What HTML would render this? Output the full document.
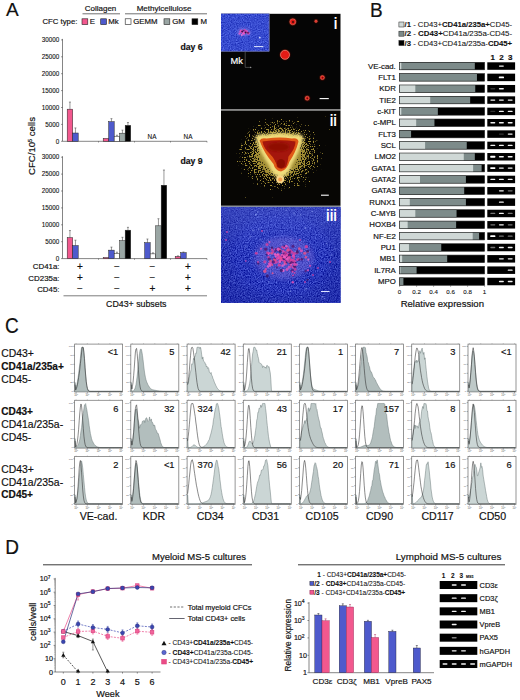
<!DOCTYPE html>
<html lang="en"><head><meta charset="utf-8"><title>Figure: CD43+ subsets</title>
<style>html,body{margin:0;padding:0;background:#fff;}body{width:520px;height:700px;overflow:hidden;}svg{display:block;font-family:"Liberation Sans",Arial,Helvetica,sans-serif;}</style></head><body>
<svg width="520" height="700" viewBox="0 0 520 700">
<defs>
<filter id="bluetex" x="0" y="0" width="100%" height="100%" color-interpolation-filters="sRGB"><feTurbulence type="fractalNoise" baseFrequency="0.85" numOctaves="2" seed="4" result="n"/><feColorMatrix in="n" type="matrix" values="0.55 0 0 0 -0.115  0.6 0 0 0 -0.085  0.5 0 0 0 0.48  0 0 0 0 1"/><feComposite in2="SourceGraphic" operator="in"/></filter>
<filter id="halo" x="-5%" y="-5%" width="110%" height="110%" color-interpolation-filters="sRGB"><feTurbulence type="fractalNoise" baseFrequency="0.75" numOctaves="1" seed="9" result="n"/><feColorMatrix in="n" type="matrix" values="0 0 0 0 0  0 0 0 0 0  0 0 0 0 0  1.6 0 0 0 -0.3" result="na"/><feComposite in="SourceGraphic" in2="na" operator="arithmetic" k1="0" k2="7" k3="-7" k4="0.5" result="m"/><feColorMatrix in="m" type="matrix" values="0 0 0 0 0.70  0 0 0 0 0.61  0 0 0 0 0.22  0 0 0 0.9 0"/></filter>
<filter id="rough"><feGaussianBlur stdDeviation="0.3"/></filter>
<filter id="blur03"><feGaussianBlur stdDeviation="0.35"/></filter>
<filter id="blur05"><feGaussianBlur stdDeviation="0.5"/></filter>
<filter id="blur1"><feGaussianBlur stdDeviation="1"/></filter>
<filter id="blur07"><feGaussianBlur stdDeviation="0.7"/></filter>
<filter id="blur2"><feGaussianBlur stdDeviation="2.2"/></filter>
<filter id="blur15"><feGaussianBlur stdDeviation="1.4"/></filter>
<radialGradient id="glowA" cx="0.5" cy="0.5" r="0.5"><stop offset="0" stop-color="#fff" stop-opacity="1"/><stop offset="0.38" stop-color="#fff" stop-opacity="0.9"/><stop offset="0.5" stop-color="#fff" stop-opacity="0.62"/><stop offset="0.65" stop-color="#fff" stop-opacity="0.42"/><stop offset="0.85" stop-color="#fff" stop-opacity="0.25"/><stop offset="1" stop-color="#fff" stop-opacity="0.05"/></radialGradient>
<linearGradient id="top3" x1="0" y1="0" x2="0" y2="1"><stop offset="0" stop-color="#7888f0" stop-opacity="0.25"/><stop offset="1" stop-color="#7888f0" stop-opacity="0"/></linearGradient>
<radialGradient id="vig3" cx="0.5" cy="0.5" r="0.75"><stop offset="0.5" stop-color="#101860" stop-opacity="0"/><stop offset="1" stop-color="#1018a0" stop-opacity="0.45"/></radialGradient>
</defs>
<rect x="0" y="0" width="520" height="700" fill="#fff" stroke="none" stroke-width="0.5" />
<g id="panelA">
<text x="6" y="16.2" font-size="19" text-anchor="start" font-weight="normal" fill="#111" stroke="#111" stroke-width="0.18" >A</text>
<text x="100.5" y="11" font-size="8" text-anchor="middle" font-weight="normal" fill="#111" stroke="#111" stroke-width="0.18" >Collagen</text>
<line x1="82.5" y1="13.8" x2="120" y2="13.8" stroke="#333" stroke-width="0.7" />
<text x="164" y="11" font-size="8" text-anchor="middle" font-weight="normal" fill="#111" stroke="#111" stroke-width="0.18" >Methylcellulose</text>
<line x1="125" y1="13.8" x2="207" y2="13.8" stroke="#333" stroke-width="0.7" />
<text x="42.5" y="24.3" font-size="7.75" text-anchor="start" font-weight="normal" fill="#111" stroke="#111" stroke-width="0.18" >CFC type:</text>
<rect x="82" y="18.8" width="5.8" height="5.8" fill="#f2588e" stroke="#222" stroke-width="0.6" />
<text x="89.7" y="24.4" font-size="7.8" text-anchor="start" font-weight="normal" fill="#111" stroke="#111" stroke-width="0.18" >E</text>
<rect x="100.7" y="18.8" width="5.8" height="5.8" fill="#4e5acc" stroke="#222" stroke-width="0.6" />
<text x="108.2" y="24.4" font-size="7.8" text-anchor="start" font-weight="normal" fill="#111" stroke="#111" stroke-width="0.18" >Mk</text>
<rect x="125.2" y="18.8" width="5.8" height="5.8" fill="#fff" stroke="#222" stroke-width="0.6" />
<text x="133.2" y="24.4" font-size="7.8" text-anchor="start" font-weight="normal" fill="#111" stroke="#111" stroke-width="0.18" >GEMM</text>
<rect x="164" y="18.8" width="5.8" height="5.8" fill="#9aa6a4" stroke="#222" stroke-width="0.6" />
<text x="172.2" y="24.4" font-size="7.8" text-anchor="start" font-weight="normal" fill="#111" stroke="#111" stroke-width="0.18" >GM</text>
<rect x="192" y="18.8" width="5.8" height="5.8" fill="#000" stroke="#222" stroke-width="0.6" />
<text x="200.5" y="24.4" font-size="7.8" text-anchor="start" font-weight="normal" fill="#111" stroke="#111" stroke-width="0.18" >M</text>
<line x1="62.5" y1="38.9" x2="62.5" y2="141.3" stroke="#333" stroke-width="0.6" />
<line x1="62.5" y1="141.3" x2="207" y2="141.3" stroke="#333" stroke-width="0.6" />
<line x1="61" y1="141.3" x2="62.5" y2="141.3" stroke="#333" stroke-width="0.5" />
<text x="59.2" y="143.5" font-size="6.3" text-anchor="end" font-weight="normal" fill="#111" stroke="#111" stroke-width="0.1" >0</text>
<line x1="61" y1="124.4" x2="62.5" y2="124.4" stroke="#333" stroke-width="0.5" />
<text x="59.2" y="126.6" font-size="6.3" text-anchor="end" font-weight="normal" fill="#111" stroke="#111" stroke-width="0.1" >5000</text>
<line x1="61" y1="107.5" x2="62.5" y2="107.5" stroke="#333" stroke-width="0.5" />
<text x="59.2" y="109.7" font-size="6.3" text-anchor="end" font-weight="normal" fill="#111" stroke="#111" stroke-width="0.1" >10000</text>
<line x1="61" y1="90.6" x2="62.5" y2="90.6" stroke="#333" stroke-width="0.5" />
<text x="59.2" y="92.8" font-size="6.3" text-anchor="end" font-weight="normal" fill="#111" stroke="#111" stroke-width="0.1" >15000</text>
<line x1="61" y1="73.7" x2="62.5" y2="73.7" stroke="#333" stroke-width="0.5" />
<text x="59.2" y="75.9" font-size="6.3" text-anchor="end" font-weight="normal" fill="#111" stroke="#111" stroke-width="0.1" >20000</text>
<line x1="61" y1="56.8" x2="62.5" y2="56.8" stroke="#333" stroke-width="0.5" />
<text x="59.2" y="59" font-size="6.3" text-anchor="end" font-weight="normal" fill="#111" stroke="#111" stroke-width="0.1" >25000</text>
<line x1="61" y1="39.9" x2="62.5" y2="39.9" stroke="#333" stroke-width="0.5" />
<text x="59.2" y="42.1" font-size="6.3" text-anchor="end" font-weight="normal" fill="#111" stroke="#111" stroke-width="0.1" >30000</text>
<line x1="98.5" y1="141.3" x2="98.5" y2="142.5" stroke="#333" stroke-width="0.5" />
<line x1="134.5" y1="141.3" x2="134.5" y2="142.5" stroke="#333" stroke-width="0.5" />
<line x1="170.5" y1="141.3" x2="170.5" y2="142.5" stroke="#333" stroke-width="0.5" />
<line x1="207" y1="141.3" x2="207" y2="142.5" stroke="#333" stroke-width="0.5" />
<text x="202.6" y="49.7" font-size="8.7" text-anchor="end" font-weight="bold" fill="#111" stroke="#111" stroke-width="0.18" >day 6</text>
<rect x="67.2" y="109.19" width="5.5" height="32.11" fill="#f2588e" stroke="#222" stroke-width="0.5" />
<line x1="69.95" y1="109.19" x2="69.95" y2="102.09" stroke="#333" stroke-width="0.5" />
<line x1="68.95" y1="102.09" x2="70.95" y2="102.09" stroke="#333" stroke-width="0.5" />
<rect x="72.7" y="133.02" width="5.5" height="8.28" fill="#4e5acc" stroke="#222" stroke-width="0.5" />
<line x1="75.45" y1="133.02" x2="75.45" y2="127.95" stroke="#333" stroke-width="0.5" />
<line x1="74.45" y1="127.95" x2="76.45" y2="127.95" stroke="#333" stroke-width="0.5" />
<rect x="103.2" y="138.43" width="5.5" height="2.87" fill="#f2588e" stroke="#222" stroke-width="0.5" />
<rect x="108.7" y="121.7" width="5.5" height="19.6" fill="#4e5acc" stroke="#222" stroke-width="0.5" />
<line x1="111.45" y1="121.7" x2="111.45" y2="118.65" stroke="#333" stroke-width="0.5" />
<line x1="110.45" y1="118.65" x2="112.45" y2="118.65" stroke="#333" stroke-width="0.5" />
<rect x="114.2" y="136.23" width="5.5" height="5.07" fill="#fff" stroke="#222" stroke-width="0.5" />
<line x1="116.95" y1="136.23" x2="116.95" y2="135.22" stroke="#333" stroke-width="0.5" />
<line x1="115.95" y1="135.22" x2="117.95" y2="135.22" stroke="#333" stroke-width="0.5" />
<rect x="119.7" y="133.19" width="5.5" height="8.11" fill="#9aa6a4" stroke="#222" stroke-width="0.5" />
<line x1="122.45" y1="133.19" x2="122.45" y2="130.15" stroke="#333" stroke-width="0.5" />
<line x1="121.45" y1="130.15" x2="123.45" y2="130.15" stroke="#333" stroke-width="0.5" />
<rect x="125.2" y="125.41" width="5.5" height="15.89" fill="#000" stroke="#222" stroke-width="0.5" />
<line x1="127.95" y1="125.41" x2="127.95" y2="122.54" stroke="#333" stroke-width="0.5" />
<line x1="126.95" y1="122.54" x2="128.95" y2="122.54" stroke="#333" stroke-width="0.5" />
<text x="152" y="138.7" font-size="6.4" text-anchor="middle" font-weight="normal" fill="#111" stroke="#111" stroke-width="0.1" >NA</text>
<text x="188" y="138.7" font-size="6.4" text-anchor="middle" font-weight="normal" fill="#111" stroke="#111" stroke-width="0.1" >NA</text>
<line x1="62.5" y1="156.2" x2="62.5" y2="258.6" stroke="#333" stroke-width="0.6" />
<line x1="62.5" y1="258.6" x2="207" y2="258.6" stroke="#333" stroke-width="0.6" />
<line x1="61" y1="258.6" x2="62.5" y2="258.6" stroke="#333" stroke-width="0.5" />
<text x="59.2" y="260.8" font-size="6.3" text-anchor="end" font-weight="normal" fill="#111" stroke="#111" stroke-width="0.1" >0</text>
<line x1="61" y1="241.7" x2="62.5" y2="241.7" stroke="#333" stroke-width="0.5" />
<text x="59.2" y="243.9" font-size="6.3" text-anchor="end" font-weight="normal" fill="#111" stroke="#111" stroke-width="0.1" >5000</text>
<line x1="61" y1="224.8" x2="62.5" y2="224.8" stroke="#333" stroke-width="0.5" />
<text x="59.2" y="227" font-size="6.3" text-anchor="end" font-weight="normal" fill="#111" stroke="#111" stroke-width="0.1" >10000</text>
<line x1="61" y1="207.9" x2="62.5" y2="207.9" stroke="#333" stroke-width="0.5" />
<text x="59.2" y="210.1" font-size="6.3" text-anchor="end" font-weight="normal" fill="#111" stroke="#111" stroke-width="0.1" >15000</text>
<line x1="61" y1="191" x2="62.5" y2="191" stroke="#333" stroke-width="0.5" />
<text x="59.2" y="193.2" font-size="6.3" text-anchor="end" font-weight="normal" fill="#111" stroke="#111" stroke-width="0.1" >20000</text>
<line x1="61" y1="174.1" x2="62.5" y2="174.1" stroke="#333" stroke-width="0.5" />
<text x="59.2" y="176.3" font-size="6.3" text-anchor="end" font-weight="normal" fill="#111" stroke="#111" stroke-width="0.1" >25000</text>
<line x1="61" y1="157.2" x2="62.5" y2="157.2" stroke="#333" stroke-width="0.5" />
<text x="59.2" y="159.4" font-size="6.3" text-anchor="end" font-weight="normal" fill="#111" stroke="#111" stroke-width="0.1" >30000</text>
<line x1="98.5" y1="258.6" x2="98.5" y2="259.8" stroke="#333" stroke-width="0.5" />
<line x1="134.5" y1="258.6" x2="134.5" y2="259.8" stroke="#333" stroke-width="0.5" />
<line x1="170.5" y1="258.6" x2="170.5" y2="259.8" stroke="#333" stroke-width="0.5" />
<line x1="207" y1="258.6" x2="207" y2="259.8" stroke="#333" stroke-width="0.5" />
<text x="202.6" y="164.3" font-size="8.7" text-anchor="end" font-weight="bold" fill="#111" stroke="#111" stroke-width="0.18" >day 9</text>
<rect x="67.2" y="237.64" width="5.5" height="20.96" fill="#f2588e" stroke="#222" stroke-width="0.5" />
<line x1="69.95" y1="237.64" x2="69.95" y2="230.55" stroke="#333" stroke-width="0.5" />
<line x1="68.95" y1="230.55" x2="70.95" y2="230.55" stroke="#333" stroke-width="0.5" />
<rect x="72.7" y="245.59" width="5.5" height="13.01" fill="#4e5acc" stroke="#222" stroke-width="0.5" />
<line x1="75.45" y1="245.59" x2="75.45" y2="240.18" stroke="#333" stroke-width="0.5" />
<line x1="74.45" y1="240.18" x2="76.45" y2="240.18" stroke="#333" stroke-width="0.5" />
<rect x="103.2" y="257.59" width="5.5" height="1.01" fill="#f2588e" stroke="#222" stroke-width="0.5" />
<rect x="108.7" y="250.15" width="5.5" height="8.45" fill="#4e5acc" stroke="#222" stroke-width="0.5" />
<line x1="111.45" y1="250.15" x2="111.45" y2="247.11" stroke="#333" stroke-width="0.5" />
<line x1="110.45" y1="247.11" x2="112.45" y2="247.11" stroke="#333" stroke-width="0.5" />
<rect x="114.2" y="253.53" width="5.5" height="5.07" fill="#fff" stroke="#222" stroke-width="0.5" />
<line x1="116.95" y1="253.53" x2="116.95" y2="252.18" stroke="#333" stroke-width="0.5" />
<line x1="115.95" y1="252.18" x2="117.95" y2="252.18" stroke="#333" stroke-width="0.5" />
<rect x="119.7" y="240.69" width="5.5" height="17.91" fill="#9aa6a4" stroke="#222" stroke-width="0.5" />
<line x1="122.45" y1="240.69" x2="122.45" y2="237.31" stroke="#333" stroke-width="0.5" />
<line x1="121.45" y1="237.31" x2="123.45" y2="237.31" stroke="#333" stroke-width="0.5" />
<rect x="125.2" y="230.21" width="5.5" height="28.39" fill="#000" stroke="#222" stroke-width="0.5" />
<line x1="127.95" y1="230.21" x2="127.95" y2="227.34" stroke="#333" stroke-width="0.5" />
<line x1="126.95" y1="227.34" x2="128.95" y2="227.34" stroke="#333" stroke-width="0.5" />
<rect x="144.7" y="242.71" width="5.5" height="15.89" fill="#4e5acc" stroke="#222" stroke-width="0.5" />
<line x1="147.45" y1="242.71" x2="147.45" y2="239" stroke="#333" stroke-width="0.5" />
<line x1="146.45" y1="239" x2="148.45" y2="239" stroke="#333" stroke-width="0.5" />
<rect x="150.2" y="253.87" width="5.5" height="4.73" fill="#fff" stroke="#222" stroke-width="0.5" />
<line x1="152.95" y1="253.87" x2="152.95" y2="252.85" stroke="#333" stroke-width="0.5" />
<line x1="151.95" y1="252.85" x2="153.95" y2="252.85" stroke="#333" stroke-width="0.5" />
<rect x="155.7" y="225.81" width="5.5" height="32.79" fill="#9aa6a4" stroke="#222" stroke-width="0.5" />
<line x1="158.45" y1="225.81" x2="158.45" y2="218.72" stroke="#333" stroke-width="0.5" />
<line x1="157.45" y1="218.72" x2="159.45" y2="218.72" stroke="#333" stroke-width="0.5" />
<rect x="161.2" y="185.25" width="5.5" height="73.35" fill="#000" stroke="#222" stroke-width="0.5" />
<line x1="163.95" y1="185.25" x2="163.95" y2="170.04" stroke="#333" stroke-width="0.5" />
<line x1="162.95" y1="170.04" x2="164.95" y2="170.04" stroke="#333" stroke-width="0.5" />
<rect x="175.2" y="256.57" width="5.5" height="2.03" fill="#f2588e" stroke="#222" stroke-width="0.5" />
<line x1="177.95" y1="256.57" x2="177.95" y2="255.9" stroke="#333" stroke-width="0.5" />
<line x1="176.95" y1="255.9" x2="178.95" y2="255.9" stroke="#333" stroke-width="0.5" />
<rect x="180.7" y="252.69" width="5.5" height="5.91" fill="#4e5acc" stroke="#222" stroke-width="0.5" />
<line x1="183.45" y1="252.69" x2="183.45" y2="252.01" stroke="#333" stroke-width="0.5" />
<line x1="182.45" y1="252.01" x2="184.45" y2="252.01" stroke="#333" stroke-width="0.5" />
<text transform="translate(35,146) rotate(-90)" font-size="9.6" text-anchor="middle" fill="#111" stroke="#111" stroke-width="0.18">CFC/10<tspan font-size="5.5" dy="-3">5</tspan><tspan dy="3"> cells</tspan></text>
<text x="59.5" y="269" font-size="7.9" text-anchor="end" font-weight="normal" fill="#111" stroke="#111" stroke-width="0.18" >CD41a:</text>
<text x="80" y="269.6" font-size="10" text-anchor="middle" font-weight="normal" fill="#111" stroke="#111" stroke-width="0.18" >+</text>
<text x="116.8" y="269.6" font-size="10" text-anchor="middle" font-weight="normal" fill="#111" stroke="#111" stroke-width="0.18" >−</text>
<text x="152.5" y="269.6" font-size="10" text-anchor="middle" font-weight="normal" fill="#111" stroke="#111" stroke-width="0.18" >−</text>
<text x="188" y="269.6" font-size="10" text-anchor="middle" font-weight="normal" fill="#111" stroke="#111" stroke-width="0.18" >+</text>
<text x="59.5" y="280.5" font-size="7.9" text-anchor="end" font-weight="normal" fill="#111" stroke="#111" stroke-width="0.18" >CD235a:</text>
<text x="80" y="281.1" font-size="10" text-anchor="middle" font-weight="normal" fill="#111" stroke="#111" stroke-width="0.18" >+</text>
<text x="116.8" y="281.1" font-size="10" text-anchor="middle" font-weight="normal" fill="#111" stroke="#111" stroke-width="0.18" >−</text>
<text x="152.5" y="281.1" font-size="10" text-anchor="middle" font-weight="normal" fill="#111" stroke="#111" stroke-width="0.18" >−</text>
<text x="188" y="281.1" font-size="10" text-anchor="middle" font-weight="normal" fill="#111" stroke="#111" stroke-width="0.18" >+</text>
<text x="59.5" y="291.8" font-size="7.9" text-anchor="end" font-weight="normal" fill="#111" stroke="#111" stroke-width="0.18" >CD45:</text>
<text x="80" y="292.4" font-size="10" text-anchor="middle" font-weight="normal" fill="#111" stroke="#111" stroke-width="0.18" >−</text>
<text x="116.8" y="292.4" font-size="10" text-anchor="middle" font-weight="normal" fill="#111" stroke="#111" stroke-width="0.18" >−</text>
<text x="152.5" y="292.4" font-size="10" text-anchor="middle" font-weight="normal" fill="#111" stroke="#111" stroke-width="0.18" >+</text>
<text x="188" y="292.4" font-size="10" text-anchor="middle" font-weight="normal" fill="#111" stroke="#111" stroke-width="0.18" >+</text>
<line x1="63.5" y1="295.8" x2="207" y2="295.8" stroke="#444" stroke-width="0.7" />
<text x="136.3" y="307" font-size="8.8" text-anchor="middle" font-weight="normal" fill="#111" stroke="#111" stroke-width="0.18" >CD43+ subsets</text>
</g>
<g id="micro">
<rect x="221" y="13.8" width="119.5" height="95.5" fill="#050505" stroke="none" stroke-width="0.5" />
<rect x="221" y="109.3" width="119.5" height="1.5" fill="#777" stroke="none" stroke-width="0.5" />
<rect x="221" y="110.8" width="119.5" height="95" fill="#070604" stroke="none" stroke-width="0.5" />
<rect x="221" y="205.8" width="119.5" height="1.2" fill="#8890a0" stroke="none" stroke-width="0.5" />
<rect x="221" y="207" width="119.5" height="95.8" fill="#3546b8" stroke="none" stroke-width="0.5" />
<rect x="221" y="207" width="119.5" height="95.8" fill="#fff" stroke="none" stroke-width="0.5" filter="url(#bluetex)"/>
<rect x="221" y="207" width="119.5" height="95.8" fill="url(#vig3)" stroke="none" stroke-width="0.5" />
<rect x="221" y="207" width="119.5" height="48" fill="url(#top3)" stroke="none" stroke-width="0.5" />
<ellipse cx="284" cy="258" rx="30" ry="21" fill="#8a78e0" opacity="0.4" filter="url(#blur2)"/>
<g filter="url(#rough)">
<circle cx="258.25" cy="263.56" r="1.21" fill="#3a1a70" opacity="0.85"/>
<circle cx="290.51" cy="252.13" r="0.97" fill="#d040a0" opacity="0.85"/>
<circle cx="268.54" cy="257.19" r="1.2" fill="#d83c9c" opacity="0.85"/>
<circle cx="294.36" cy="266.97" r="1.34" fill="#e848b0" opacity="0.85"/>
<circle cx="268.12" cy="266.5" r="1.36" fill="#f060c8" opacity="0.85"/>
<circle cx="286.99" cy="254.29" r="0.85" fill="#d83c9c" opacity="0.85"/>
<circle cx="284.06" cy="258.1" r="1.09" fill="#3a1a70" opacity="0.85"/>
<circle cx="281.35" cy="256.81" r="1.27" fill="#d040a0" opacity="0.85"/>
<circle cx="272.05" cy="247.85" r="1.39" fill="#3a1a70" opacity="0.85"/>
<circle cx="283.98" cy="258.01" r="1.44" fill="#d83c9c" opacity="0.85"/>
<circle cx="283.46" cy="258.86" r="1.31" fill="#d83c9c" opacity="0.85"/>
<circle cx="292.13" cy="262.59" r="1.56" fill="#d83c9c" opacity="0.85"/>
<circle cx="265.95" cy="268.93" r="0.99" fill="#e848b0" opacity="0.85"/>
<circle cx="289.78" cy="256" r="1.22" fill="#e848b0" opacity="0.85"/>
<circle cx="287.94" cy="257.66" r="1.5" fill="#d040a0" opacity="0.85"/>
<circle cx="283.63" cy="260.07" r="1.08" fill="#d83c9c" opacity="0.85"/>
<circle cx="308.26" cy="259.62" r="1.02" fill="#f060c8" opacity="0.85"/>
<circle cx="296.44" cy="264.42" r="1.22" fill="#e848b0" opacity="0.85"/>
<circle cx="280.6" cy="258.2" r="1.69" fill="#d040a0" opacity="0.85"/>
<circle cx="284.92" cy="252.79" r="1.38" fill="#501a78" opacity="0.85"/>
<circle cx="289.76" cy="261.63" r="1.58" fill="#e8508c" opacity="0.85"/>
<circle cx="288.16" cy="257.54" r="1.7" fill="#e8508c" opacity="0.85"/>
<circle cx="300.08" cy="259.4" r="0.84" fill="#d83c9c" opacity="0.85"/>
<circle cx="307.63" cy="279.7" r="1.03" fill="#3a1a70" opacity="0.85"/>
<circle cx="284.72" cy="254.47" r="0.87" fill="#d83c9c" opacity="0.85"/>
<circle cx="286.41" cy="264.36" r="0.81" fill="#d040a0" opacity="0.85"/>
<circle cx="280.75" cy="260.46" r="1.55" fill="#3a1a70" opacity="0.85"/>
<circle cx="287.04" cy="260.43" r="0.96" fill="#501a78" opacity="0.85"/>
<circle cx="295.18" cy="269.39" r="1.45" fill="#d040a0" opacity="0.85"/>
<circle cx="290.96" cy="265.52" r="1.42" fill="#d040a0" opacity="0.85"/>
<circle cx="280.09" cy="260.32" r="0.89" fill="#e848b0" opacity="0.85"/>
<circle cx="284.55" cy="258.1" r="1.01" fill="#e8508c" opacity="0.85"/>
<circle cx="283.71" cy="257.3" r="1.06" fill="#3a1a70" opacity="0.85"/>
<circle cx="294.72" cy="272.82" r="0.91" fill="#d83c9c" opacity="0.85"/>
<circle cx="274.03" cy="258.91" r="1.05" fill="#d83c9c" opacity="0.85"/>
<circle cx="296.58" cy="252.97" r="1.47" fill="#d040a0" opacity="0.85"/>
<circle cx="291.43" cy="260.41" r="0.96" fill="#e848b0" opacity="0.85"/>
<circle cx="280.54" cy="260.62" r="0.88" fill="#f060c8" opacity="0.85"/>
<circle cx="291.02" cy="263.82" r="1.33" fill="#f060c8" opacity="0.85"/>
<circle cx="287.11" cy="256.87" r="1.62" fill="#3a1a70" opacity="0.85"/>
<circle cx="283.22" cy="256.28" r="1.23" fill="#d83c9c" opacity="0.85"/>
<circle cx="283.93" cy="257.57" r="0.92" fill="#e050b8" opacity="0.85"/>
<circle cx="294.49" cy="261.59" r="1.61" fill="#e848b0" opacity="0.85"/>
<circle cx="283.71" cy="255.53" r="1.51" fill="#f060c8" opacity="0.85"/>
<circle cx="293.96" cy="253.88" r="1.58" fill="#d83c9c" opacity="0.85"/>
<circle cx="270.51" cy="263.41" r="1.58" fill="#e848b0" opacity="0.85"/>
<circle cx="276.06" cy="255.26" r="1.35" fill="#e848b0" opacity="0.85"/>
<circle cx="291.75" cy="260.99" r="1.69" fill="#d83c9c" opacity="0.85"/>
<circle cx="285.26" cy="257.17" r="1.2" fill="#3a1a70" opacity="0.85"/>
<circle cx="290.6" cy="250.55" r="1.27" fill="#d83c9c" opacity="0.85"/>
<circle cx="281.99" cy="257.87" r="1.01" fill="#e848b0" opacity="0.85"/>
<circle cx="282.38" cy="254.63" r="1.5" fill="#3a1a70" opacity="0.85"/>
<circle cx="269.52" cy="242" r="1.07" fill="#e050b8" opacity="0.85"/>
<circle cx="282.98" cy="256.53" r="1.27" fill="#d040a0" opacity="0.85"/>
<circle cx="284.38" cy="246.69" r="1.6" fill="#3a1a70" opacity="0.85"/>
<circle cx="272.57" cy="273.24" r="0.98" fill="#e8508c" opacity="0.85"/>
<circle cx="275.17" cy="260.87" r="1.15" fill="#d040a0" opacity="0.85"/>
<circle cx="261.01" cy="248.74" r="0.99" fill="#e050b8" opacity="0.85"/>
<circle cx="294.64" cy="266.4" r="1.44" fill="#e848b0" opacity="0.85"/>
<circle cx="304.79" cy="253.27" r="1.54" fill="#e8508c" opacity="0.85"/>
<circle cx="305.71" cy="271.04" r="1.14" fill="#501a78" opacity="0.85"/>
<circle cx="278.84" cy="257.54" r="1.44" fill="#e050b8" opacity="0.85"/>
<circle cx="288.33" cy="253.35" r="1.05" fill="#e848b0" opacity="0.85"/>
<circle cx="277.83" cy="254.54" r="1.31" fill="#e8508c" opacity="0.85"/>
<circle cx="283.77" cy="258.42" r="1.16" fill="#f060c8" opacity="0.85"/>
<circle cx="284.89" cy="259.57" r="1.01" fill="#e8508c" opacity="0.85"/>
<circle cx="294.88" cy="267.31" r="0.9" fill="#3a1a70" opacity="0.85"/>
<circle cx="278.91" cy="257.19" r="1.66" fill="#e050b8" opacity="0.85"/>
<circle cx="282.19" cy="255.09" r="1.44" fill="#f060c8" opacity="0.85"/>
<circle cx="284.44" cy="248.38" r="0.96" fill="#e848b0" opacity="0.85"/>
<circle cx="282.44" cy="265.73" r="1.15" fill="#f060c8" opacity="0.85"/>
<circle cx="288.23" cy="247.02" r="0.88" fill="#d040a0" opacity="0.85"/>
<circle cx="285.06" cy="257.67" r="0.98" fill="#3a1a70" opacity="0.85"/>
<circle cx="289.03" cy="254.98" r="1.14" fill="#e848b0" opacity="0.85"/>
<circle cx="269" cy="253.15" r="1.22" fill="#e050b8" opacity="0.85"/>
<circle cx="274.91" cy="249.08" r="0.89" fill="#d040a0" opacity="0.85"/>
<circle cx="289.77" cy="253.48" r="0.99" fill="#d83c9c" opacity="0.85"/>
<circle cx="306.36" cy="246.63" r="1.68" fill="#d83c9c" opacity="0.85"/>
<circle cx="281.24" cy="257.54" r="1.11" fill="#e848b0" opacity="0.85"/>
<circle cx="293.41" cy="261.77" r="1.11" fill="#3a1a70" opacity="0.85"/>
<circle cx="280.01" cy="259.5" r="1.53" fill="#d040a0" opacity="0.85"/>
<circle cx="310.02" cy="265.75" r="0.96" fill="#e848b0" opacity="0.85"/>
<circle cx="283.16" cy="259" r="1.7" fill="#f060c8" opacity="0.85"/>
<circle cx="289.53" cy="255.21" r="1.65" fill="#3a1a70" opacity="0.85"/>
<circle cx="278.87" cy="258.17" r="1.2" fill="#d040a0" opacity="0.85"/>
<circle cx="282.42" cy="257.57" r="1.27" fill="#f060c8" opacity="0.85"/>
<circle cx="289.69" cy="252.03" r="1.66" fill="#501a78" opacity="0.85"/>
<circle cx="286.78" cy="255.93" r="1.07" fill="#d040a0" opacity="0.85"/>
<circle cx="290.18" cy="263.31" r="0.98" fill="#3a1a70" opacity="0.85"/>
<circle cx="281.25" cy="257.56" r="1.34" fill="#e848b0" opacity="0.85"/>
<circle cx="298.85" cy="259.83" r="1.29" fill="#501a78" opacity="0.85"/>
<circle cx="286.93" cy="257.86" r="1.24" fill="#d83c9c" opacity="0.85"/>
<circle cx="278.74" cy="248.53" r="1.63" fill="#501a78" opacity="0.85"/>
<circle cx="285.99" cy="253.76" r="1.04" fill="#501a78" opacity="0.85"/>
<circle cx="274.64" cy="259.12" r="1.27" fill="#3a1a70" opacity="0.85"/>
<circle cx="291.55" cy="262.3" r="1.36" fill="#501a78" opacity="0.85"/>
<circle cx="297.58" cy="253.18" r="0.83" fill="#e848b0" opacity="0.85"/>
<circle cx="293.01" cy="267.35" r="1.42" fill="#e848b0" opacity="0.85"/>
<circle cx="279.23" cy="264.86" r="1.25" fill="#d83c9c" opacity="0.85"/>
<circle cx="271.84" cy="253.16" r="1.45" fill="#e8508c" opacity="0.85"/>
<circle cx="283.4" cy="256.66" r="1.54" fill="#501a78" opacity="0.85"/>
<circle cx="282.57" cy="257.11" r="1.58" fill="#d040a0" opacity="0.85"/>
<circle cx="282.28" cy="257.74" r="1.01" fill="#f060c8" opacity="0.85"/>
<circle cx="283.49" cy="251.9" r="1.61" fill="#e050b8" opacity="0.85"/>
<circle cx="279.39" cy="265.34" r="1.5" fill="#d040a0" opacity="0.85"/>
<circle cx="293.04" cy="275.42" r="0.92" fill="#d83c9c" opacity="0.85"/>
<circle cx="284.1" cy="259.01" r="1.19" fill="#d83c9c" opacity="0.85"/>
<circle cx="293.12" cy="255.53" r="0.98" fill="#f060c8" opacity="0.85"/>
<circle cx="282.8" cy="257.13" r="1.62" fill="#e050b8" opacity="0.85"/>
<circle cx="289.35" cy="257.25" r="1.43" fill="#d83c9c" opacity="0.85"/>
<circle cx="267.03" cy="244.58" r="1.52" fill="#d040a0" opacity="0.85"/>
<circle cx="245.8" cy="261.02" r="0.83" fill="#e848b0" opacity="0.85"/>
<circle cx="268.4" cy="254.32" r="0.97" fill="#f060c8" opacity="0.85"/>
<circle cx="285.15" cy="258.71" r="1.56" fill="#f060c8" opacity="0.85"/>
<circle cx="289.1" cy="257.78" r="0.92" fill="#e848b0" opacity="0.85"/>
<circle cx="282.94" cy="256.39" r="1.49" fill="#d83c9c" opacity="0.85"/>
<circle cx="277.03" cy="267.31" r="0.99" fill="#501a78" opacity="0.85"/>
<circle cx="281.79" cy="259.58" r="1.56" fill="#e848b0" opacity="0.85"/>
<circle cx="292.39" cy="270.74" r="1.63" fill="#501a78" opacity="0.85"/>
<circle cx="279.28" cy="255.44" r="1.26" fill="#d83c9c" opacity="0.85"/>
<circle cx="301.88" cy="259.22" r="1.31" fill="#501a78" opacity="0.85"/>
<circle cx="289.17" cy="267.3" r="1.52" fill="#e050b8" opacity="0.85"/>
<circle cx="283.07" cy="270.49" r="1.53" fill="#f060c8" opacity="0.85"/>
<circle cx="274.76" cy="262.36" r="1.59" fill="#e050b8" opacity="0.85"/>
<circle cx="283.2" cy="256.45" r="0.99" fill="#501a78" opacity="0.85"/>
<circle cx="292.59" cy="271.86" r="1.07" fill="#e050b8" opacity="0.85"/>
<circle cx="307.93" cy="270.31" r="1.01" fill="#e848b0" opacity="0.85"/>
<circle cx="307.68" cy="251.99" r="1.1" fill="#e8508c" opacity="0.85"/>
<circle cx="276.34" cy="249.58" r="1.26" fill="#501a78" opacity="0.85"/>
<circle cx="277.34" cy="258.07" r="1.43" fill="#d040a0" opacity="0.85"/>
<circle cx="284.2" cy="256.1" r="1.46" fill="#d83c9c" opacity="0.85"/>
<circle cx="283.99" cy="258.24" r="1.25" fill="#501a78" opacity="0.85"/>
<circle cx="284.08" cy="257.22" r="1.03" fill="#e8508c" opacity="0.85"/>
<circle cx="285.25" cy="257.41" r="1.67" fill="#501a78" opacity="0.85"/>
<circle cx="267.46" cy="252.73" r="1.29" fill="#d83c9c" opacity="0.85"/>
<circle cx="283.73" cy="257.66" r="1.15" fill="#e848b0" opacity="0.85"/>
<circle cx="307.59" cy="251.29" r="1.29" fill="#3a1a70" opacity="0.85"/>
<circle cx="265.77" cy="249.14" r="1.65" fill="#501a78" opacity="0.85"/>
<circle cx="269.1" cy="263.68" r="1.28" fill="#e050b8" opacity="0.85"/>
<circle cx="281.14" cy="258.21" r="1.3" fill="#e8508c" opacity="0.85"/>
<circle cx="283.53" cy="259.52" r="1.5" fill="#e848b0" opacity="0.85"/>
<circle cx="275.03" cy="254.24" r="1.17" fill="#f060c8" opacity="0.85"/>
<circle cx="279.79" cy="251.27" r="0.85" fill="#501a78" opacity="0.85"/>
<circle cx="287.6" cy="257.82" r="0.87" fill="#e050b8" opacity="0.85"/>
<circle cx="294.88" cy="252.86" r="0.84" fill="#d040a0" opacity="0.85"/>
<circle cx="289.07" cy="260.53" r="0.93" fill="#3a1a70" opacity="0.85"/>
<circle cx="284.58" cy="257.89" r="1.36" fill="#e848b0" opacity="0.85"/>
<circle cx="264.82" cy="261.84" r="1.58" fill="#d040a0" opacity="0.85"/>
<circle cx="279.76" cy="261.74" r="1.4" fill="#f060c8" opacity="0.85"/>
<circle cx="274.38" cy="259.93" r="1.38" fill="#e8508c" opacity="0.85"/>
<circle cx="278.27" cy="249.2" r="1.66" fill="#f060c8" opacity="0.85"/>
<circle cx="282.44" cy="246.94" r="1.23" fill="#d040a0" opacity="0.85"/>
<circle cx="278.54" cy="257.93" r="1.05" fill="#e050b8" opacity="0.85"/>
<circle cx="273.08" cy="251.69" r="1.37" fill="#d040a0" opacity="0.85"/>
<circle cx="284.07" cy="255.51" r="1.59" fill="#d040a0" opacity="0.85"/>
<circle cx="292.69" cy="259.54" r="0.81" fill="#e848b0" opacity="0.85"/>
<circle cx="283.79" cy="260.45" r="1.29" fill="#d040a0" opacity="0.85"/>
<circle cx="284.54" cy="258.18" r="1.62" fill="#d83c9c" opacity="0.85"/>
<circle cx="285.83" cy="260.04" r="1.23" fill="#3a1a70" opacity="0.85"/>
<circle cx="292.78" cy="282.33" r="1.24" fill="#e050b8" opacity="0.85"/>
<circle cx="294.49" cy="266.15" r="1.53" fill="#3a1a70" opacity="0.85"/>
<circle cx="272.05" cy="249.76" r="1.2" fill="#d040a0" opacity="0.85"/>
<circle cx="283.91" cy="254.07" r="1.39" fill="#f060c8" opacity="0.85"/>
<circle cx="288.63" cy="257.78" r="1.06" fill="#e050b8" opacity="0.85"/>
<circle cx="284.21" cy="255.38" r="1.32" fill="#e050b8" opacity="0.85"/>
<circle cx="276.99" cy="259.19" r="0.87" fill="#e050b8" opacity="0.85"/>
<circle cx="295.71" cy="262.71" r="1.07" fill="#3a1a70" opacity="0.85"/>
<circle cx="284.92" cy="254.02" r="1.08" fill="#d83c9c" opacity="0.85"/>
<circle cx="297.23" cy="252.18" r="1.45" fill="#3a1a70" opacity="0.85"/>
<circle cx="279.89" cy="250.17" r="1.59" fill="#e8508c" opacity="0.85"/>
<circle cx="285.22" cy="262.29" r="1.09" fill="#d83c9c" opacity="0.85"/>
<circle cx="275.17" cy="260.4" r="1.19" fill="#e8508c" opacity="0.85"/>
<circle cx="285.23" cy="255.51" r="1.67" fill="#501a78" opacity="0.85"/>
<circle cx="282.67" cy="250.71" r="0.88" fill="#d040a0" opacity="0.85"/>
<circle cx="292.97" cy="246.32" r="1.52" fill="#501a78" opacity="0.85"/>
<circle cx="283.8" cy="255.98" r="1.52" fill="#e050b8" opacity="0.85"/>
<circle cx="275.8" cy="256.51" r="0.88" fill="#f060c8" opacity="0.85"/>
<circle cx="270.53" cy="260.78" r="1.53" fill="#e8508c" opacity="0.85"/>
<circle cx="285.26" cy="262.83" r="1.67" fill="#e8508c" opacity="0.85"/>
<circle cx="282.45" cy="256.49" r="0.86" fill="#501a78" opacity="0.85"/>
<circle cx="282.79" cy="257.74" r="1.05" fill="#d83c9c" opacity="0.85"/>
<circle cx="288.09" cy="260.23" r="0.88" fill="#e050b8" opacity="0.85"/>
<circle cx="275.32" cy="251.18" r="1.02" fill="#501a78" opacity="0.85"/>
<circle cx="287.06" cy="269.41" r="1.49" fill="#e050b8" opacity="0.85"/>
<circle cx="270.17" cy="265.57" r="1.24" fill="#f060c8" opacity="0.85"/>
<circle cx="256.26" cy="253.36" r="1.44" fill="#d83c9c" opacity="0.85"/>
<circle cx="301.38" cy="250.8" r="1.57" fill="#e050b8" opacity="0.85"/>
<circle cx="288.37" cy="249.65" r="1.6" fill="#d83c9c" opacity="0.85"/>
<circle cx="293.53" cy="256.19" r="1.52" fill="#e848b0" opacity="0.85"/>
<circle cx="273.44" cy="261.97" r="1.62" fill="#501a78" opacity="0.85"/>
<circle cx="284.26" cy="264.64" r="1.09" fill="#f060c8" opacity="0.85"/>
<circle cx="272.16" cy="264.92" r="1.05" fill="#e8508c" opacity="0.85"/>
<circle cx="299.34" cy="248.67" r="1.38" fill="#e8508c" opacity="0.85"/>
<circle cx="284.6" cy="255.45" r="1.62" fill="#f060c8" opacity="0.85"/>
<circle cx="284.29" cy="247.84" r="1.08" fill="#e848b0" opacity="0.85"/>
<circle cx="284.51" cy="259.04" r="1" fill="#e050b8" opacity="0.85"/>
<circle cx="284.32" cy="260.44" r="1.2" fill="#d040a0" opacity="0.85"/>
<circle cx="297.22" cy="250.77" r="0.96" fill="#501a78" opacity="0.85"/>
<circle cx="284.29" cy="253.75" r="1.57" fill="#3a1a70" opacity="0.85"/>
<circle cx="269.19" cy="259" r="1.62" fill="#501a78" opacity="0.85"/>
<circle cx="267.28" cy="275.92" r="1.58" fill="#3a1a70" opacity="0.85"/>
<circle cx="276.43" cy="261.88" r="1.65" fill="#d040a0" opacity="0.85"/>
<circle cx="287.72" cy="250.23" r="1.51" fill="#e8508c" opacity="0.85"/>
<circle cx="293.65" cy="260.57" r="1.6" fill="#d040a0" opacity="0.85"/>
<circle cx="292.11" cy="252.25" r="1.44" fill="#d040a0" opacity="0.85"/>
<circle cx="277.85" cy="254.62" r="1.17" fill="#f060c8" opacity="0.85"/>
<circle cx="286.35" cy="246.14" r="1.37" fill="#f060c8" opacity="0.85"/>
<circle cx="305.96" cy="257.33" r="1.26" fill="#e8508c" opacity="0.85"/>
<circle cx="290.8" cy="259.64" r="1.54" fill="#d040a0" opacity="0.85"/>
<circle cx="285.98" cy="255.99" r="0.87" fill="#f060c8" opacity="0.85"/>
<circle cx="283.85" cy="258.84" r="1.42" fill="#3a1a70" opacity="0.85"/>
<circle cx="288.89" cy="259.96" r="0.82" fill="#e8508c" opacity="0.85"/>
<circle cx="286.58" cy="262.37" r="0.99" fill="#3a1a70" opacity="0.85"/>
<circle cx="266.58" cy="254.59" r="0.94" fill="#3a1a70" opacity="0.85"/>
<circle cx="286.04" cy="255.48" r="1.3" fill="#d83c9c" opacity="0.85"/>
<circle cx="294.19" cy="257.88" r="1.12" fill="#d83c9c" opacity="0.85"/>
<circle cx="280.13" cy="251.51" r="1.47" fill="#3a1a70" opacity="0.85"/>
<circle cx="285.69" cy="252.62" r="1.39" fill="#d83c9c" opacity="0.85"/>
<circle cx="298.33" cy="258.78" r="1.06" fill="#d040a0" opacity="0.85"/>
<circle cx="294.59" cy="264.4" r="1.57" fill="#e848b0" opacity="0.85"/>
<circle cx="286.95" cy="254.94" r="1.06" fill="#f060c8" opacity="0.85"/>
<circle cx="264.83" cy="271.25" r="1.66" fill="#e8508c" opacity="0.85"/>
<circle cx="284.16" cy="254.43" r="0.98" fill="#d040a0" opacity="0.85"/>
<circle cx="283.78" cy="256.71" r="1.08" fill="#e050b8" opacity="0.85"/>
<circle cx="281.33" cy="270.39" r="1.54" fill="#3a1a70" opacity="0.85"/>
<circle cx="286.88" cy="259.32" r="1.36" fill="#f060c8" opacity="0.85"/>
<circle cx="287.71" cy="260.82" r="1.16" fill="#d040a0" opacity="0.85"/>
<circle cx="287.04" cy="254.5" r="0.89" fill="#d83c9c" opacity="0.85"/>
<circle cx="297.28" cy="259.92" r="1.11" fill="#d83c9c" opacity="0.85"/>
<circle cx="284.48" cy="257.33" r="1.38" fill="#f060c8" opacity="0.85"/>
<circle cx="227" cy="232" r="1.0" fill="#d040a8" opacity="0.8"/>
<circle cx="226" cy="240" r="1.0" fill="#d040a8" opacity="0.8"/>
<circle cx="318" cy="268" r="1.0" fill="#d040a8" opacity="0.8"/>
<circle cx="313" cy="275" r="1.0" fill="#d040a8" opacity="0.8"/>
<circle cx="305" cy="282" r="1.0" fill="#d040a8" opacity="0.8"/>
<circle cx="262" cy="231" r="1.0" fill="#d040a8" opacity="0.8"/>
<circle cx="258" cy="262" r="1.0" fill="#d040a8" opacity="0.8"/>
<circle cx="330" cy="262" r="1.0" fill="#d040a8" opacity="0.8"/>
<circle cx="300" cy="240" r="1.0" fill="#d040a8" opacity="0.8"/>
</g>
<circle cx="250.48" cy="258.52" r="0.68" fill="#9fb4ff" opacity="0.46"/>
<circle cx="295.27" cy="214.96" r="0.51" fill="#9fb4ff" opacity="0.54"/>
<circle cx="252.96" cy="230.32" r="1" fill="#9fb4ff" opacity="0.41"/>
<circle cx="319.61" cy="252.35" r="0.82" fill="#9fb4ff" opacity="0.3"/>
<circle cx="296.33" cy="287.99" r="0.76" fill="#9fb4ff" opacity="0.51"/>
<circle cx="300.55" cy="214.83" r="0.88" fill="#9fb4ff" opacity="0.46"/>
<circle cx="257.8" cy="211.82" r="0.93" fill="#9fb4ff" opacity="0.42"/>
<circle cx="306.02" cy="288.97" r="0.86" fill="#9fb4ff" opacity="0.57"/>
<circle cx="268.62" cy="281.88" r="0.72" fill="#9fb4ff" opacity="0.58"/>
<circle cx="324.51" cy="217.87" r="0.57" fill="#9fb4ff" opacity="0.33"/>
<circle cx="334.51" cy="248.69" r="0.81" fill="#9fb4ff" opacity="0.36"/>
<circle cx="281.59" cy="244.11" r="0.68" fill="#9fb4ff" opacity="0.45"/>
<circle cx="290.48" cy="291.28" r="0.84" fill="#9fb4ff" opacity="0.58"/>
<circle cx="321.91" cy="299.18" r="0.84" fill="#9fb4ff" opacity="0.31"/>
<circle cx="322.4" cy="296.78" r="0.95" fill="#9fb4ff" opacity="0.45"/>
<circle cx="305.45" cy="228.21" r="0.92" fill="#9fb4ff" opacity="0.45"/>
<circle cx="255.91" cy="214.77" r="0.93" fill="#9fb4ff" opacity="0.6"/>
<circle cx="233.22" cy="281.85" r="0.71" fill="#9fb4ff" opacity="0.3"/>
<circle cx="256.94" cy="278.96" r="0.94" fill="#9fb4ff" opacity="0.27"/>
<circle cx="293.98" cy="213.09" r="0.86" fill="#9fb4ff" opacity="0.37"/>
<circle cx="324.74" cy="298.24" r="0.75" fill="#9fb4ff" opacity="0.6"/>
<circle cx="258.77" cy="216" r="0.8" fill="#9fb4ff" opacity="0.26"/>
<circle cx="245.8" cy="246.12" r="0.81" fill="#9fb4ff" opacity="0.3"/>
<circle cx="227.9" cy="287.97" r="0.66" fill="#9fb4ff" opacity="0.59"/>
<circle cx="326.56" cy="243.38" r="0.73" fill="#9fb4ff" opacity="0.43"/>
<circle cx="297.37" cy="263.2" r="0.78" fill="#9fb4ff" opacity="0.47"/>
<circle cx="331.64" cy="255.14" r="0.72" fill="#9fb4ff" opacity="0.5"/>
<circle cx="250.45" cy="236.4" r="0.99" fill="#9fb4ff" opacity="0.43"/>
<circle cx="286.34" cy="210.04" r="0.71" fill="#9fb4ff" opacity="0.45"/>
<circle cx="225.32" cy="265.04" r="0.82" fill="#9fb4ff" opacity="0.27"/>
<circle cx="295.46" cy="251.43" r="0.84" fill="#9fb4ff" opacity="0.37"/>
<circle cx="304.65" cy="276.16" r="0.51" fill="#9fb4ff" opacity="0.27"/>
<circle cx="301.08" cy="296.66" r="0.63" fill="#9fb4ff" opacity="0.41"/>
<circle cx="291.45" cy="238.12" r="0.68" fill="#9fb4ff" opacity="0.36"/>
<circle cx="265.64" cy="263.2" r="0.65" fill="#9fb4ff" opacity="0.38"/>
<circle cx="312.2" cy="211.45" r="0.78" fill="#9fb4ff" opacity="0.51"/>
<circle cx="258.81" cy="229.25" r="0.9" fill="#9fb4ff" opacity="0.33"/>
<circle cx="244.64" cy="248.61" r="0.85" fill="#9fb4ff" opacity="0.29"/>
<circle cx="260.19" cy="239.37" r="0.92" fill="#9fb4ff" opacity="0.4"/>
<circle cx="321.81" cy="224.4" r="0.67" fill="#9fb4ff" opacity="0.48"/>
<line x1="321" y1="291.5" x2="329.5" y2="291.5" stroke="#dde4ff" stroke-width="1" />
<text transform="translate(331.5,221.4) scale(1,1.2)" font-size="13" text-anchor="middle" font-weight="bold" fill="#fff">iii</text>
<g>
<ellipse cx="280" cy="154" rx="45.5" ry="39.5" fill="url(#glowA)" filter="url(#halo)"/>
<path d="M255.5 137.5 Q258 132.5 266 134.5 Q280 131.5 293 134.500 Q301.500 132.5 303.500 138 Q299.500 152 292 164.500 Q288.500 176 280.500 178 Q272 176 269 165.500 Q259.500 152 255.500 137.500 Z" fill="#efdc7c" filter="url(#blur15)"/>
<path d="M259.5 140.5 Q261.500 137.5 266.500 138.500 Q280 136.5 292 138.500 Q297.500 137.5 298.500 141.500 Q296 152 289.500 161.500 Q287 170 281 171.500 Q275 170.500 273.500 164 Q264 153 259.500 140.500 Z" fill="#e05818" filter="url(#blur07)"/>
<path d="M262.5 141.5 Q280 138.800 295.500 141.500 Q295.500 148 288.500 156.500 Q288 162 286 167 Q281 170.500 277 167 Q276 160 270 154 Q263.500 148 262.500 141.500 Z" fill="#a41608" filter="url(#blur07)"/>
<ellipse cx="281" cy="163.5" rx="4" ry="4.5" fill="#8a0c04" filter="url(#blur05)"/>
<ellipse cx="278.5" cy="147" rx="11" ry="4.5" fill="#901006" filter="url(#blur1)"/>
<circle cx="280.2" cy="179.3" r="4" fill="#f6d688" filter="url(#blur07)"/>
<circle cx="280.2" cy="179.5" r="2" fill="#f09a48" filter="url(#blur03)"/>
</g>
<line x1="321" y1="195.2" x2="328.8" y2="195.2" stroke="#fff" stroke-width="1.1" />
<text transform="translate(333.3,125.6) scale(1,1.2)" font-size="13" text-anchor="middle" font-weight="bold" fill="#fff">ii</text>
<rect x="221" y="13.8" width="48.2" height="37.5" fill="#3242b2" stroke="none" stroke-width="0.5" />
<rect x="221" y="13.8" width="48.2" height="37.5" fill="#fff" stroke="none" stroke-width="0.5" filter="url(#bluetex)"/>
<rect x="221" y="13.8" width="48.2" height="37.5" fill="#5a7cff" stroke="none" stroke-width="0.5" opacity="0.3"/>
<line x1="221" y1="51.3" x2="269.2" y2="51.3" stroke="#8a8ab0" stroke-width="0.6" />
<line x1="269.2" y1="13.8" x2="269.2" y2="51.3" stroke="#8a8ab0" stroke-width="0.6" />
<ellipse cx="244" cy="32" rx="7" ry="4.6" fill="#9a80e8" opacity="0.45" filter="url(#blur1)"/>
<g filter="url(#blur03)">
<circle cx="241.2" cy="31.2" r="1.7" fill="#e050c0"/>
<circle cx="243.6" cy="33.2" r="1.6" fill="#e858c8"/>
<circle cx="246.2" cy="31.6" r="1.7" fill="#d848b8"/>
<circle cx="248.3" cy="33.3" r="1.4" fill="#e050c0"/>
<circle cx="239.5" cy="33.6" r="1.1" fill="#d060d0"/>
<circle cx="244.6" cy="30.3" r="1.2" fill="#c840b0"/>
<circle cx="241.8" cy="35" r="1.0" fill="#e070d8"/>
<circle cx="242.2" cy="31.4" r="1.0" fill="#400c50"/>
<circle cx="245.6" cy="32.4" r="1.0" fill="#300840"/>
<circle cx="248" cy="32.8" r="0.9" fill="#400c50"/>
<circle cx="243.8" cy="30.6" r="0.7" fill="#501060"/>
<circle cx="259.8" cy="37.6" r="0.9" fill="#cfd8ff"/>
</g>
<line x1="254" y1="46.6" x2="263.4" y2="46.6" stroke="#dfe6ff" stroke-width="1" />
<text x="230.6" y="63.6" font-size="9.3" text-anchor="start" font-weight="normal" fill="#fff" stroke="#fff" stroke-width="0.18" >Mk</text>
<path d="M245.2 51.5 V67.4 H250.5" fill="none" stroke="#808080" stroke-width="0.5"/>
<path d="M250 66.5 L251.8 67.4 L250 68.3 Z" fill="#909090"/>
<circle cx="292.8" cy="21.8" r="4.2" fill="#5a0c06" opacity="0.6" filter="url(#blur05)"/>
<circle cx="292.8" cy="21.8" r="3" fill="#e41a14" stroke="#f08878" stroke-width="0.51" filter="url(#blur03)"/>
<circle cx="293" cy="22" r="1.2" fill="#601008" filter="url(#blur03)"/>
<circle cx="316" cy="21.2" r="2.4" fill="#5a0c06" opacity="0.6" filter="url(#blur05)"/>
<circle cx="316" cy="21.2" r="1.2" fill="#e41a14" stroke="#f08878" stroke-width="0.5" filter="url(#blur03)"/>
<circle cx="285" cy="54.8" r="5.7" fill="#5a0c06" opacity="0.6" filter="url(#blur05)"/>
<circle cx="285" cy="54.8" r="4.5" fill="#e41a14" stroke="#f08878" stroke-width="0.77" filter="url(#blur03)"/>
<circle cx="322.4" cy="77.6" r="3.2" fill="#5a0c06" opacity="0.6" filter="url(#blur05)"/>
<circle cx="322.4" cy="77.6" r="2" fill="#e41a14" stroke="#f08878" stroke-width="0.5" filter="url(#blur03)"/>
<circle cx="322.6" cy="77.8" r="0.8" fill="#601008" filter="url(#blur03)"/>
<circle cx="307.2" cy="98.2" r="3.2" fill="#5a0c06" opacity="0.6" filter="url(#blur05)"/>
<circle cx="307.2" cy="98.2" r="2" fill="#e41a14" stroke="#f08878" stroke-width="0.5" filter="url(#blur03)"/>
<circle cx="307.4" cy="98.4" r="0.8" fill="#601008" filter="url(#blur03)"/>
<line x1="319.6" y1="98.6" x2="328.8" y2="98.6" stroke="#fff" stroke-width="1.1" />
<text transform="translate(335.6,28.7) scale(1,1.2)" font-size="13" text-anchor="middle" font-weight="bold" fill="#fff">i</text>
</g>
<g id="panelB">
<text transform="translate(370,16.8) scale(1,1.1)" font-size="19" fill="#111" stroke="#111" stroke-width="0.2">B</text>
<rect x="398.9" y="22" width="5.1" height="5" fill="#cfd8d6" stroke="#222" stroke-width="0.5" />
<text x="404.6" y="27" font-size="7.2" fill="#111" stroke="#111" stroke-width="0.08" textLength="107.5" lengthAdjust="spacingAndGlyphs"><tspan font-weight="bold">/1</tspan> - CD43+<tspan font-weight="bold">CD41a/235a+</tspan>CD45-</text>
<rect x="398.9" y="31.2" width="5.1" height="5" fill="#7d8b8a" stroke="#222" stroke-width="0.5" />
<text x="404.6" y="36.2" font-size="7.2" fill="#111" stroke="#111" stroke-width="0.08" textLength="107.5" lengthAdjust="spacingAndGlyphs"><tspan font-weight="bold">/2</tspan> - <tspan font-weight="bold">CD43+</tspan>CD41a/235a-CD45-</text>
<rect x="398.9" y="40.5" width="5.1" height="5" fill="#000" stroke="#222" stroke-width="0.5" />
<text x="404.6" y="45.5" font-size="7.2" fill="#111" stroke="#111" stroke-width="0.08" textLength="107.5" lengthAdjust="spacingAndGlyphs"><tspan font-weight="bold">/3</tspan> - CD43+CD41a/235a-<tspan font-weight="bold">CD45+</tspan></text>
<text x="492.8" y="59.6" font-size="8" text-anchor="middle" font-weight="bold" fill="#111" stroke="#111" stroke-width="0.18" >1</text>
<text x="501.4" y="59.6" font-size="8" text-anchor="middle" font-weight="bold" fill="#111" stroke="#111" stroke-width="0.18" >2</text>
<text x="510.2" y="59.6" font-size="8" text-anchor="middle" font-weight="bold" fill="#111" stroke="#111" stroke-width="0.18" >3</text>
<text x="395.8" y="68.6" font-size="7.8" text-anchor="end" font-weight="normal" fill="#111" stroke="#111" stroke-width="0.18" >VE-cad.</text>
<rect x="399.6" y="62.3" width="85" height="7.5" fill="#000" stroke="none" stroke-width="0.5" />
<rect x="399.6" y="62.3" width="75.22" height="7.5" fill="#7d8b8a" stroke="none" stroke-width="0.5" />
<rect x="399.6" y="62.3" width="1.7" height="7.5" fill="#cfd8d6" stroke="none" stroke-width="0.5" />
<rect x="399.6" y="62.3" width="85" height="7.5" fill="none" stroke="#222" stroke-width="0.6" />
<rect x="487.3" y="62.3" width="27.8" height="7.5" fill="#000" stroke="none" stroke-width="0.5" />
<rect x="498.9" y="65.4" width="5" height="1.3" fill="#fff" stroke="none" stroke-width="0.5" opacity="0.95" rx="0.7"/>
<text x="395.8" y="79.94" font-size="7.8" text-anchor="end" font-weight="normal" fill="#111" stroke="#111" stroke-width="0.18" >FLT1</text>
<rect x="399.6" y="73.64" width="85" height="7.5" fill="#000" stroke="none" stroke-width="0.5" />
<rect x="399.6" y="73.64" width="77.35" height="7.5" fill="#7d8b8a" stroke="none" stroke-width="0.5" />
<rect x="399.6" y="73.64" width="85" height="7.5" fill="none" stroke="#222" stroke-width="0.6" />
<rect x="487.3" y="73.64" width="27.8" height="7.5" fill="#000" stroke="none" stroke-width="0.5" />
<rect x="498.8" y="76.44" width="5.2" height="1.9" fill="#fff" stroke="none" stroke-width="0.5" opacity="1.0" rx="0.7"/>
<text x="395.8" y="91.28" font-size="7.8" text-anchor="end" font-weight="normal" fill="#111" stroke="#111" stroke-width="0.18" >KDR</text>
<rect x="399.6" y="84.98" width="85" height="7.5" fill="#000" stroke="none" stroke-width="0.5" />
<rect x="399.6" y="84.98" width="75.65" height="7.5" fill="#7d8b8a" stroke="none" stroke-width="0.5" />
<rect x="399.6" y="84.98" width="15.72" height="7.5" fill="#cfd8d6" stroke="none" stroke-width="0.5" />
<rect x="399.6" y="84.98" width="85" height="7.5" fill="none" stroke="#222" stroke-width="0.6" />
<rect x="487.3" y="84.98" width="27.8" height="7.5" fill="#000" stroke="none" stroke-width="0.5" />
<rect x="490.3" y="88.08" width="5" height="1.3" fill="#fff" stroke="none" stroke-width="0.5" opacity="0.2" rx="0.7"/>
<rect x="498.9" y="88.08" width="5" height="1.3" fill="#fff" stroke="none" stroke-width="0.5" opacity="0.95" rx="0.7"/>
<text x="395.8" y="102.62" font-size="7.8" text-anchor="end" font-weight="normal" fill="#111" stroke="#111" stroke-width="0.18" >TIE2</text>
<rect x="399.6" y="96.32" width="85" height="7.5" fill="#000" stroke="none" stroke-width="0.5" />
<rect x="399.6" y="96.32" width="70.55" height="7.5" fill="#7d8b8a" stroke="none" stroke-width="0.5" />
<rect x="399.6" y="96.32" width="30.6" height="7.5" fill="#cfd8d6" stroke="none" stroke-width="0.5" />
<rect x="399.6" y="96.32" width="85" height="7.5" fill="none" stroke="#222" stroke-width="0.6" />
<rect x="487.3" y="96.32" width="27.8" height="7.5" fill="#000" stroke="none" stroke-width="0.5" />
<rect x="490.3" y="99.42" width="5" height="1.3" fill="#fff" stroke="none" stroke-width="0.5" opacity="0.95" rx="0.7"/>
<rect x="498.9" y="99.42" width="5" height="1.3" fill="#fff" stroke="none" stroke-width="0.5" opacity="0.95" rx="0.7"/>
<rect x="507.7" y="99.42" width="5" height="1.3" fill="#fff" stroke="none" stroke-width="0.5" opacity="0.95" rx="0.7"/>
<text x="395.8" y="113.96" font-size="7.8" text-anchor="end" font-weight="normal" fill="#111" stroke="#111" stroke-width="0.18" >c-KIT</text>
<rect x="399.6" y="107.66" width="85" height="7.5" fill="#000" stroke="none" stroke-width="0.5" />
<rect x="399.6" y="107.66" width="38.25" height="7.5" fill="#7d8b8a" stroke="none" stroke-width="0.5" />
<rect x="399.6" y="107.66" width="1.7" height="7.5" fill="#cfd8d6" stroke="none" stroke-width="0.5" />
<rect x="399.6" y="107.66" width="85" height="7.5" fill="none" stroke="#222" stroke-width="0.6" />
<rect x="487.3" y="107.66" width="27.8" height="7.5" fill="#000" stroke="none" stroke-width="0.5" />
<rect x="490.3" y="110.76" width="5" height="1.3" fill="#fff" stroke="none" stroke-width="0.5" opacity="0.2" rx="0.7"/>
<rect x="498.9" y="110.76" width="5" height="1.3" fill="#fff" stroke="none" stroke-width="0.5" opacity="0.95" rx="0.7"/>
<rect x="507.7" y="110.76" width="5" height="1.3" fill="#fff" stroke="none" stroke-width="0.5" opacity="0.95" rx="0.7"/>
<text x="395.8" y="125.3" font-size="7.8" text-anchor="end" font-weight="normal" fill="#111" stroke="#111" stroke-width="0.18" >c-MPL</text>
<rect x="399.6" y="119" width="85" height="7.5" fill="#000" stroke="none" stroke-width="0.5" />
<rect x="399.6" y="119" width="34.85" height="7.5" fill="#7d8b8a" stroke="none" stroke-width="0.5" />
<rect x="399.6" y="119" width="16.57" height="7.5" fill="#cfd8d6" stroke="none" stroke-width="0.5" />
<rect x="399.6" y="119" width="85" height="7.5" fill="none" stroke="#222" stroke-width="0.6" />
<rect x="487.3" y="119" width="27.8" height="7.5" fill="#000" stroke="none" stroke-width="0.5" />
<rect x="490.3" y="122.1" width="5" height="1.3" fill="#fff" stroke="none" stroke-width="0.5" opacity="0.95" rx="0.7"/>
<rect x="498.9" y="122.1" width="5" height="1.3" fill="#fff" stroke="none" stroke-width="0.5" opacity="0.95" rx="0.7"/>
<rect x="507.7" y="122.1" width="5" height="1.3" fill="#fff" stroke="none" stroke-width="0.5" opacity="0.95" rx="0.7"/>
<text x="395.8" y="136.64" font-size="7.8" text-anchor="end" font-weight="normal" fill="#111" stroke="#111" stroke-width="0.18" >FLT3</text>
<rect x="399.6" y="130.34" width="85" height="7.5" fill="#000" stroke="none" stroke-width="0.5" />
<rect x="399.6" y="130.34" width="11.48" height="7.5" fill="#7d8b8a" stroke="none" stroke-width="0.5" />
<rect x="399.6" y="130.34" width="85" height="7.5" fill="none" stroke="#222" stroke-width="0.6" />
<rect x="487.3" y="130.34" width="27.8" height="7.5" fill="#000" stroke="none" stroke-width="0.5" />
<rect x="498.9" y="133.44" width="5" height="1.3" fill="#fff" stroke="none" stroke-width="0.5" opacity="0.2" rx="0.7"/>
<rect x="507.7" y="133.44" width="5" height="1.3" fill="#fff" stroke="none" stroke-width="0.5" opacity="0.95" rx="0.7"/>
<text x="395.8" y="147.98" font-size="7.8" text-anchor="end" font-weight="normal" fill="#111" stroke="#111" stroke-width="0.18" >SCL</text>
<rect x="399.6" y="141.68" width="85" height="7.5" fill="#000" stroke="none" stroke-width="0.5" />
<rect x="399.6" y="141.68" width="67.15" height="7.5" fill="#7d8b8a" stroke="none" stroke-width="0.5" />
<rect x="399.6" y="141.68" width="25.5" height="7.5" fill="#cfd8d6" stroke="none" stroke-width="0.5" />
<rect x="399.6" y="141.68" width="85" height="7.5" fill="none" stroke="#222" stroke-width="0.6" />
<rect x="487.3" y="141.68" width="27.8" height="7.5" fill="#000" stroke="none" stroke-width="0.5" />
<rect x="490.3" y="144.78" width="5" height="1.3" fill="#fff" stroke="none" stroke-width="0.5" opacity="0.95" rx="0.7"/>
<rect x="498.9" y="144.78" width="5" height="1.3" fill="#fff" stroke="none" stroke-width="0.5" opacity="0.95" rx="0.7"/>
<rect x="507.7" y="144.78" width="5" height="1.3" fill="#fff" stroke="none" stroke-width="0.5" opacity="0.95" rx="0.7"/>
<text x="395.8" y="159.32" font-size="7.8" text-anchor="end" font-weight="normal" fill="#111" stroke="#111" stroke-width="0.18" >LMO2</text>
<rect x="399.6" y="153.02" width="85" height="7.5" fill="#000" stroke="none" stroke-width="0.5" />
<rect x="399.6" y="153.02" width="75.22" height="7.5" fill="#7d8b8a" stroke="none" stroke-width="0.5" />
<rect x="399.6" y="153.02" width="64.17" height="7.5" fill="#cfd8d6" stroke="none" stroke-width="0.5" />
<rect x="399.6" y="153.02" width="85" height="7.5" fill="none" stroke="#222" stroke-width="0.6" />
<rect x="487.3" y="153.02" width="27.8" height="7.5" fill="#000" stroke="none" stroke-width="0.5" />
<rect x="490.2" y="155.82" width="5.2" height="1.9" fill="#fff" stroke="none" stroke-width="0.5" opacity="1.0" rx="0.7"/>
<rect x="498.9" y="156.12" width="5" height="1.3" fill="#fff" stroke="none" stroke-width="0.5" opacity="0.95" rx="0.7"/>
<rect x="507.7" y="156.12" width="5" height="1.3" fill="#fff" stroke="none" stroke-width="0.5" opacity="0.95" rx="0.7"/>
<text x="395.8" y="170.66" font-size="7.8" text-anchor="end" font-weight="normal" fill="#111" stroke="#111" stroke-width="0.18" >GATA1</text>
<rect x="399.6" y="164.36" width="85" height="7.5" fill="#000" stroke="none" stroke-width="0.5" />
<rect x="399.6" y="164.36" width="82.02" height="7.5" fill="#7d8b8a" stroke="none" stroke-width="0.5" />
<rect x="399.6" y="164.36" width="73.53" height="7.5" fill="#cfd8d6" stroke="none" stroke-width="0.5" />
<rect x="399.6" y="164.36" width="85" height="7.5" fill="none" stroke="#222" stroke-width="0.6" />
<rect x="487.3" y="164.36" width="27.8" height="7.5" fill="#000" stroke="none" stroke-width="0.5" />
<rect x="490.2" y="167.16" width="5.2" height="1.9" fill="#fff" stroke="none" stroke-width="0.5" opacity="1.0" rx="0.7"/>
<rect x="498.9" y="167.46" width="5" height="1.3" fill="#fff" stroke="none" stroke-width="0.5" opacity="0.95" rx="0.7"/>
<rect x="507.7" y="167.46" width="5" height="1.3" fill="#fff" stroke="none" stroke-width="0.5" opacity="0.95" rx="0.7"/>
<text x="395.8" y="182" font-size="7.8" text-anchor="end" font-weight="normal" fill="#111" stroke="#111" stroke-width="0.18" >GATA2</text>
<rect x="399.6" y="175.7" width="85" height="7.5" fill="#000" stroke="none" stroke-width="0.5" />
<rect x="399.6" y="175.7" width="66.3" height="7.5" fill="#7d8b8a" stroke="none" stroke-width="0.5" />
<rect x="399.6" y="175.7" width="20.4" height="7.5" fill="#cfd8d6" stroke="none" stroke-width="0.5" />
<rect x="399.6" y="175.7" width="85" height="7.5" fill="none" stroke="#222" stroke-width="0.6" />
<rect x="487.3" y="175.7" width="27.8" height="7.5" fill="#000" stroke="none" stroke-width="0.5" />
<rect x="490.3" y="178.8" width="5" height="1.3" fill="#fff" stroke="none" stroke-width="0.5" opacity="0.95" rx="0.7"/>
<rect x="498.9" y="178.8" width="5" height="1.3" fill="#fff" stroke="none" stroke-width="0.5" opacity="0.95" rx="0.7"/>
<rect x="507.7" y="178.8" width="5" height="1.3" fill="#fff" stroke="none" stroke-width="0.5" opacity="0.95" rx="0.7"/>
<text x="395.8" y="193.34" font-size="7.8" text-anchor="end" font-weight="normal" fill="#111" stroke="#111" stroke-width="0.18" >GATA3</text>
<rect x="399.6" y="187.04" width="85" height="7.5" fill="#000" stroke="none" stroke-width="0.5" />
<rect x="399.6" y="187.04" width="64.6" height="7.5" fill="#7d8b8a" stroke="none" stroke-width="0.5" />
<rect x="399.6" y="187.04" width="85" height="7.5" fill="none" stroke="#222" stroke-width="0.6" />
<rect x="487.3" y="187.04" width="27.8" height="7.5" fill="#000" stroke="none" stroke-width="0.5" />
<rect x="498.9" y="190.14" width="5" height="1.3" fill="#fff" stroke="none" stroke-width="0.5" opacity="0.95" rx="0.7"/>
<rect x="507.7" y="190.14" width="5" height="1.3" fill="#fff" stroke="none" stroke-width="0.5" opacity="0.45" rx="0.7"/>
<text x="395.8" y="204.68" font-size="7.8" text-anchor="end" font-weight="normal" fill="#111" stroke="#111" stroke-width="0.18" >RUNX1</text>
<rect x="399.6" y="198.38" width="85" height="7.5" fill="#000" stroke="none" stroke-width="0.5" />
<rect x="399.6" y="198.38" width="66.3" height="7.5" fill="#7d8b8a" stroke="none" stroke-width="0.5" />
<rect x="399.6" y="198.38" width="10.2" height="7.5" fill="#cfd8d6" stroke="none" stroke-width="0.5" />
<rect x="399.6" y="198.38" width="85" height="7.5" fill="none" stroke="#222" stroke-width="0.6" />
<rect x="487.3" y="198.38" width="27.8" height="7.5" fill="#000" stroke="none" stroke-width="0.5" />
<rect x="498.9" y="201.48" width="5" height="1.3" fill="#fff" stroke="none" stroke-width="0.5" opacity="0.95" rx="0.7"/>
<text x="395.8" y="216.02" font-size="7.8" text-anchor="end" font-weight="normal" fill="#111" stroke="#111" stroke-width="0.18" >C-MYB</text>
<rect x="399.6" y="209.72" width="85" height="7.5" fill="#000" stroke="none" stroke-width="0.5" />
<rect x="399.6" y="209.72" width="56.95" height="7.5" fill="#7d8b8a" stroke="none" stroke-width="0.5" />
<rect x="399.6" y="209.72" width="15.72" height="7.5" fill="#cfd8d6" stroke="none" stroke-width="0.5" />
<rect x="399.6" y="209.72" width="85" height="7.5" fill="none" stroke="#222" stroke-width="0.6" />
<rect x="487.3" y="209.72" width="27.8" height="7.5" fill="#000" stroke="none" stroke-width="0.5" />
<rect x="490.3" y="212.82" width="5" height="1.3" fill="#fff" stroke="none" stroke-width="0.5" opacity="0.45" rx="0.7"/>
<rect x="498.9" y="212.82" width="5" height="1.3" fill="#fff" stroke="none" stroke-width="0.5" opacity="0.95" rx="0.7"/>
<rect x="507.7" y="212.82" width="5" height="1.3" fill="#fff" stroke="none" stroke-width="0.5" opacity="0.45" rx="0.7"/>
<text x="395.8" y="227.36" font-size="7.8" text-anchor="end" font-weight="normal" fill="#111" stroke="#111" stroke-width="0.18" >HOXB4</text>
<rect x="399.6" y="221.06" width="85" height="7.5" fill="#000" stroke="none" stroke-width="0.5" />
<rect x="399.6" y="221.06" width="56.53" height="7.5" fill="#7d8b8a" stroke="none" stroke-width="0.5" />
<rect x="399.6" y="221.06" width="8.07" height="7.5" fill="#cfd8d6" stroke="none" stroke-width="0.5" />
<rect x="399.6" y="221.06" width="85" height="7.5" fill="none" stroke="#222" stroke-width="0.6" />
<rect x="487.3" y="221.06" width="27.8" height="7.5" fill="#000" stroke="none" stroke-width="0.5" />
<rect x="490.3" y="224.16" width="5" height="1.3" fill="#fff" stroke="none" stroke-width="0.5" opacity="0.45" rx="0.7"/>
<rect x="498.9" y="224.16" width="5" height="1.3" fill="#fff" stroke="none" stroke-width="0.5" opacity="0.95" rx="0.7"/>
<rect x="507.7" y="224.16" width="5" height="1.3" fill="#fff" stroke="none" stroke-width="0.5" opacity="0.45" rx="0.7"/>
<text x="395.8" y="238.7" font-size="7.8" text-anchor="end" font-weight="normal" fill="#111" stroke="#111" stroke-width="0.18" >NF-E2</text>
<rect x="399.6" y="232.4" width="85" height="7.5" fill="#000" stroke="none" stroke-width="0.5" />
<rect x="399.6" y="232.4" width="79.48" height="7.5" fill="#7d8b8a" stroke="none" stroke-width="0.5" />
<rect x="399.6" y="232.4" width="73.1" height="7.5" fill="#cfd8d6" stroke="none" stroke-width="0.5" />
<rect x="399.6" y="232.4" width="85" height="7.5" fill="none" stroke="#222" stroke-width="0.6" />
<rect x="487.3" y="232.4" width="27.8" height="7.5" fill="#000" stroke="none" stroke-width="0.5" />
<rect x="490.2" y="235.2" width="5.2" height="1.9" fill="#fff" stroke="none" stroke-width="0.5" opacity="1.0" rx="0.7"/>
<rect x="498.9" y="235.5" width="5" height="1.3" fill="#fff" stroke="none" stroke-width="0.5" opacity="0.45" rx="0.7"/>
<rect x="507.7" y="235.5" width="5" height="1.3" fill="#fff" stroke="none" stroke-width="0.5" opacity="0.45" rx="0.7"/>
<text x="395.8" y="250.04" font-size="7.8" text-anchor="end" font-weight="normal" fill="#111" stroke="#111" stroke-width="0.18" >PU1</text>
<rect x="399.6" y="243.74" width="85" height="7.5" fill="#000" stroke="none" stroke-width="0.5" />
<rect x="399.6" y="243.74" width="41.65" height="7.5" fill="#7d8b8a" stroke="none" stroke-width="0.5" />
<rect x="399.6" y="243.74" width="9.35" height="7.5" fill="#cfd8d6" stroke="none" stroke-width="0.5" />
<rect x="399.6" y="243.74" width="85" height="7.5" fill="none" stroke="#222" stroke-width="0.6" />
<rect x="487.3" y="243.74" width="27.8" height="7.5" fill="#000" stroke="none" stroke-width="0.5" />
<rect x="490.3" y="246.84" width="5" height="1.3" fill="#fff" stroke="none" stroke-width="0.5" opacity="0.45" rx="0.7"/>
<rect x="498.9" y="246.84" width="5" height="1.3" fill="#fff" stroke="none" stroke-width="0.5" opacity="0.95" rx="0.7"/>
<rect x="507.7" y="246.84" width="5" height="1.3" fill="#fff" stroke="none" stroke-width="0.5" opacity="0.95" rx="0.7"/>
<text x="395.8" y="261.38" font-size="7.8" text-anchor="end" font-weight="normal" fill="#111" stroke="#111" stroke-width="0.18" >MB1</text>
<rect x="399.6" y="255.08" width="85" height="7.5" fill="#000" stroke="none" stroke-width="0.5" />
<rect x="399.6" y="255.08" width="47.6" height="7.5" fill="#7d8b8a" stroke="none" stroke-width="0.5" />
<rect x="399.6" y="255.08" width="2.55" height="7.5" fill="#cfd8d6" stroke="none" stroke-width="0.5" />
<rect x="399.6" y="255.08" width="85" height="7.5" fill="none" stroke="#222" stroke-width="0.6" />
<rect x="487.3" y="255.08" width="27.8" height="7.5" fill="#000" stroke="none" stroke-width="0.5" />
<rect x="498.9" y="258.18" width="5" height="1.3" fill="#fff" stroke="none" stroke-width="0.5" opacity="0.95" rx="0.7"/>
<rect x="507.7" y="258.18" width="5" height="1.3" fill="#fff" stroke="none" stroke-width="0.5" opacity="0.95" rx="0.7"/>
<text x="395.8" y="272.72" font-size="7.8" text-anchor="end" font-weight="normal" fill="#111" stroke="#111" stroke-width="0.18" >IL7RA</text>
<rect x="399.6" y="266.42" width="85" height="7.5" fill="#000" stroke="none" stroke-width="0.5" />
<rect x="399.6" y="266.42" width="17" height="7.5" fill="#7d8b8a" stroke="none" stroke-width="0.5" />
<rect x="399.6" y="266.42" width="0.85" height="7.5" fill="#cfd8d6" stroke="none" stroke-width="0.5" />
<rect x="399.6" y="266.42" width="85" height="7.5" fill="none" stroke="#222" stroke-width="0.6" />
<rect x="487.3" y="266.42" width="27.8" height="7.5" fill="#000" stroke="none" stroke-width="0.5" />
<rect x="507.7" y="269.52" width="5" height="1.3" fill="#fff" stroke="none" stroke-width="0.5" opacity="0.95" rx="0.7"/>
<text x="395.8" y="284.06" font-size="7.8" text-anchor="end" font-weight="normal" fill="#111" stroke="#111" stroke-width="0.18" >MPO</text>
<rect x="399.6" y="277.76" width="85" height="7.5" fill="#000" stroke="none" stroke-width="0.5" />
<rect x="399.6" y="277.76" width="3.82" height="7.5" fill="#7d8b8a" stroke="none" stroke-width="0.5" />
<rect x="399.6" y="277.76" width="85" height="7.5" fill="none" stroke="#222" stroke-width="0.6" />
<rect x="487.3" y="277.76" width="27.8" height="7.5" fill="#000" stroke="none" stroke-width="0.5" />
<rect x="498.9" y="280.86" width="5" height="1.3" fill="#fff" stroke="none" stroke-width="0.5" opacity="0.95" rx="0.7"/>
<rect x="507.7" y="280.86" width="5" height="1.3" fill="#fff" stroke="none" stroke-width="0.5" opacity="0.95" rx="0.7"/>
<line x1="399.6" y1="285.26" x2="399.6" y2="286.76" stroke="#333" stroke-width="0.5" />
<text x="399.6" y="293.86" font-size="6.2" text-anchor="middle" font-weight="normal" fill="#111" stroke="#111" stroke-width="0.1" >0</text>
<line x1="416.6" y1="285.26" x2="416.6" y2="286.76" stroke="#333" stroke-width="0.5" />
<text x="416.6" y="293.86" font-size="6.2" text-anchor="middle" font-weight="normal" fill="#111" stroke="#111" stroke-width="0.1" >0.2</text>
<line x1="433.6" y1="285.26" x2="433.6" y2="286.76" stroke="#333" stroke-width="0.5" />
<text x="433.6" y="293.86" font-size="6.2" text-anchor="middle" font-weight="normal" fill="#111" stroke="#111" stroke-width="0.1" >0.4</text>
<line x1="450.6" y1="285.26" x2="450.6" y2="286.76" stroke="#333" stroke-width="0.5" />
<text x="450.6" y="293.86" font-size="6.2" text-anchor="middle" font-weight="normal" fill="#111" stroke="#111" stroke-width="0.1" >0.6</text>
<line x1="467.6" y1="285.26" x2="467.6" y2="286.76" stroke="#333" stroke-width="0.5" />
<text x="467.6" y="293.86" font-size="6.2" text-anchor="middle" font-weight="normal" fill="#111" stroke="#111" stroke-width="0.1" >0.8</text>
<line x1="484.6" y1="285.26" x2="484.6" y2="286.76" stroke="#333" stroke-width="0.5" />
<text x="484.6" y="293.86" font-size="6.2" text-anchor="middle" font-weight="normal" fill="#111" stroke="#111" stroke-width="0.1" >1</text>
<text x="442.3" y="307.3" font-size="9.55" text-anchor="middle" font-weight="normal" fill="#111" stroke="#111" stroke-width="0.18" >Relative expression</text>
</g>
<g id="panelC">
<text transform="translate(5,333.3) scale(1,1.15)" font-size="19" fill="#111" stroke="#111" stroke-width="0.2">C</text>
<text x="1.3" y="357.2" font-size="10.4" text-anchor="start" font-weight="normal" fill="#111" stroke="#111" stroke-width="0.18" >CD43+</text>
<text x="1.3" y="369.9" font-size="10.1" text-anchor="start" font-weight="bold" fill="#111" stroke="#111" stroke-width="0.18" >CD41a/235a+</text>
<text x="1.3" y="382.6" font-size="10.4" text-anchor="start" font-weight="normal" fill="#111" stroke="#111" stroke-width="0.18" >CD45-</text>
<text x="1.3" y="415.4" font-size="10.1" text-anchor="start" font-weight="bold" fill="#111" stroke="#111" stroke-width="0.18" >CD43+</text>
<text x="1.3" y="428.1" font-size="10.4" text-anchor="start" font-weight="normal" fill="#111" stroke="#111" stroke-width="0.18" >CD41a/235a-</text>
<text x="1.3" y="440.8" font-size="10.4" text-anchor="start" font-weight="normal" fill="#111" stroke="#111" stroke-width="0.18" >CD45-</text>
<text x="1.3" y="472.8" font-size="10.4" text-anchor="start" font-weight="normal" fill="#111" stroke="#111" stroke-width="0.18" >CD43+</text>
<text x="1.3" y="485.5" font-size="10.4" text-anchor="start" font-weight="normal" fill="#111" stroke="#111" stroke-width="0.18" >CD41a/235a-</text>
<text x="1.3" y="498.2" font-size="10.1" text-anchor="start" font-weight="bold" fill="#111" stroke="#111" stroke-width="0.18" >CD45+</text>
<rect x="74.6" y="344.1" width="48" height="47.8" fill="#fff" stroke="#7c7c7c" stroke-width="0.8" />
<line x1="76.1" y1="391.9" x2="76.1" y2="393.2" stroke="#555" stroke-width="0.45" />
<line x1="76.1" y1="344.1" x2="76.1" y2="343.1" stroke="#777" stroke-width="0.35" />
<line x1="87.35" y1="391.9" x2="87.35" y2="393.2" stroke="#555" stroke-width="0.45" />
<line x1="87.35" y1="344.1" x2="87.35" y2="343.1" stroke="#777" stroke-width="0.35" />
<line x1="98.6" y1="391.9" x2="98.6" y2="393.2" stroke="#555" stroke-width="0.45" />
<line x1="98.6" y1="344.1" x2="98.6" y2="343.1" stroke="#777" stroke-width="0.35" />
<line x1="109.85" y1="391.9" x2="109.85" y2="393.2" stroke="#555" stroke-width="0.45" />
<line x1="109.85" y1="344.1" x2="109.85" y2="343.1" stroke="#777" stroke-width="0.35" />
<line x1="121.1" y1="391.9" x2="121.1" y2="393.2" stroke="#555" stroke-width="0.45" />
<line x1="121.1" y1="344.1" x2="121.1" y2="343.1" stroke="#777" stroke-width="0.35" />
<line x1="73.3" y1="391.2" x2="74.6" y2="391.2" stroke="#555" stroke-width="0.45" />
<line x1="73.3" y1="382.24" x2="74.6" y2="382.24" stroke="#555" stroke-width="0.45" />
<line x1="73.3" y1="373.28" x2="74.6" y2="373.28" stroke="#555" stroke-width="0.45" />
<line x1="73.3" y1="364.32" x2="74.6" y2="364.32" stroke="#555" stroke-width="0.45" />
<line x1="73.3" y1="355.36" x2="74.6" y2="355.36" stroke="#555" stroke-width="0.45" />
<line x1="73.3" y1="346.4" x2="74.6" y2="346.4" stroke="#555" stroke-width="0.45" />
<text x="76.1" y="396.1" font-size="2.6" text-anchor="middle" fill="#555">10<tspan font-size="1.8" dy="-0.9">0</tspan></text>
<text x="87.35" y="396.1" font-size="2.6" text-anchor="middle" fill="#555">10<tspan font-size="1.8" dy="-0.9">1</tspan></text>
<text x="98.6" y="396.1" font-size="2.6" text-anchor="middle" fill="#555">10<tspan font-size="1.8" dy="-0.9">2</tspan></text>
<text x="109.85" y="396.1" font-size="2.6" text-anchor="middle" fill="#555">10<tspan font-size="1.8" dy="-0.9">3</tspan></text>
<text x="121.1" y="396.1" font-size="2.6" text-anchor="middle" fill="#555">10<tspan font-size="1.8" dy="-0.9">4</tspan></text>
<text x="72.8" y="392.1" font-size="2.4" text-anchor="end" fill="#555">0</text>
<text x="72.8" y="383.14" font-size="2.4" text-anchor="end" fill="#555">20</text>
<text x="72.8" y="374.18" font-size="2.4" text-anchor="end" fill="#555">40</text>
<text x="72.8" y="365.22" font-size="2.4" text-anchor="end" fill="#555">60</text>
<text x="72.8" y="356.26" font-size="2.4" text-anchor="end" fill="#555">80</text>
<text x="72.8" y="347.3" font-size="2.4" text-anchor="end" fill="#555">100</text>
<path d="M75.1 382.44L75.69 388.57L76.27 386.85L76.86 384.63L77.45 381.57L78.04 377.97L78.62 373.59L79.21 368.59L79.8 363.92L80.39 358.36L80.97 351.59L81.56 347.56L82.15 347.27L82.74 347.27L83.32 347.95L83.91 353.38L84.5 361.58L85.09 368.78L85.67 376.1L86.26 382.2L86.85 386.15L87.44 388.59L88.02 390.03L88.61 390.81L89.2 391.16L89.79 391.31L90.38 391.37L90.96 391.39L91.55 391.4L92.14 391.4L92.72 391.4L93.31 391.4L93.9 391.4L94.49 391.4L95.07 391.4L95.66 391.4L96.25 391.4L96.84 391.4L97.42 391.4L98.01 391.4L98.6 391.4L99.19 391.4L99.77 391.4L100.36 391.4L100.95 391.4L101.54 391.4L102.12 391.4L102.71 391.4L103.3 391.4L103.89 391.4L104.47 391.4L105.06 391.4L105.65 391.4L106.24 391.4L106.82 391.4L107.41 391.4L108 391.4L108.59 391.4L109.17 391.4L109.76 391.4L110.35 391.4L110.94 391.4L111.53 391.4L112.11 391.4L112.7 391.4L113.29 391.4L113.88 391.4L114.46 391.4L115.05 391.4L115.64 391.4L116.22 391.4L116.81 391.4L117.4 391.4L117.99 391.4L118.57 391.4L119.16 391.4L119.75 391.4L120.34 391.4L120.92 391.4L121.51 391.4L122.1 391.4L122.1 391.4 L75.1 391.4 Z" fill="#b2bebd" stroke="#6c7a7a" stroke-width="0.5" stroke-linejoin="round"/>
<path d="M75.1 384.68L75.69 390.01L76.27 388.86L76.86 387.02L77.45 384.65L78.04 381.48L78.62 377.56L79.21 373.96L79.8 369.17L80.39 363.56L80.97 358.59L81.56 352.94L82.15 347.34L82.74 347.27L83.32 347.43L83.91 352.29L84.5 358.42L85.09 367.46L85.67 375.01L86.26 381.33L86.85 385.78L87.44 388.53L88.02 390.11L88.61 390.86L89.2 391.2L89.79 391.33L90.38 391.38L90.96 391.39L91.55 391.4L92.14 391.4L92.72 391.4L93.31 391.4L93.9 391.4L94.49 391.4L95.07 391.4L95.66 391.4L96.25 391.4L96.84 391.4L97.42 391.4L98.01 391.4L98.6 391.4L99.19 391.4L99.77 391.4L100.36 391.4L100.95 391.4L101.54 391.4L102.12 391.4L102.71 391.4L103.3 391.4L103.89 391.4L104.47 391.4L105.06 391.4L105.65 391.4L106.24 391.4L106.82 391.4L107.41 391.4L108 391.4L108.59 391.4L109.17 391.4L109.76 391.4L110.35 391.4L110.94 391.4L111.53 391.4L112.11 391.4L112.7 391.4L113.29 391.4L113.88 391.4L114.46 391.4L115.05 391.4L115.64 391.4L116.22 391.4L116.81 391.4L117.4 391.4L117.99 391.4L118.57 391.4L119.16 391.4L119.75 391.4L120.34 391.4L120.92 391.4L121.51 391.4L122.1 391.4" fill="none" stroke="#2a2a2a" stroke-width="0.55" stroke-linejoin="round"/>
<text x="118.3" y="355.4" font-size="9.3" text-anchor="end" font-weight="normal" fill="#111" stroke="#111" stroke-width="0.18" >&lt;1</text>
<rect x="130.8" y="344.1" width="48" height="47.8" fill="#fff" stroke="#7c7c7c" stroke-width="0.8" />
<line x1="132.3" y1="391.9" x2="132.3" y2="393.2" stroke="#555" stroke-width="0.45" />
<line x1="132.3" y1="344.1" x2="132.3" y2="343.1" stroke="#777" stroke-width="0.35" />
<line x1="143.55" y1="391.9" x2="143.55" y2="393.2" stroke="#555" stroke-width="0.45" />
<line x1="143.55" y1="344.1" x2="143.55" y2="343.1" stroke="#777" stroke-width="0.35" />
<line x1="154.8" y1="391.9" x2="154.8" y2="393.2" stroke="#555" stroke-width="0.45" />
<line x1="154.8" y1="344.1" x2="154.8" y2="343.1" stroke="#777" stroke-width="0.35" />
<line x1="166.05" y1="391.9" x2="166.05" y2="393.2" stroke="#555" stroke-width="0.45" />
<line x1="166.05" y1="344.1" x2="166.05" y2="343.1" stroke="#777" stroke-width="0.35" />
<line x1="177.3" y1="391.9" x2="177.3" y2="393.2" stroke="#555" stroke-width="0.45" />
<line x1="177.3" y1="344.1" x2="177.3" y2="343.1" stroke="#777" stroke-width="0.35" />
<line x1="129.5" y1="391.2" x2="130.8" y2="391.2" stroke="#555" stroke-width="0.45" />
<line x1="129.5" y1="382.24" x2="130.8" y2="382.24" stroke="#555" stroke-width="0.45" />
<line x1="129.5" y1="373.28" x2="130.8" y2="373.28" stroke="#555" stroke-width="0.45" />
<line x1="129.5" y1="364.32" x2="130.8" y2="364.32" stroke="#555" stroke-width="0.45" />
<line x1="129.5" y1="355.36" x2="130.8" y2="355.36" stroke="#555" stroke-width="0.45" />
<line x1="129.5" y1="346.4" x2="130.8" y2="346.4" stroke="#555" stroke-width="0.45" />
<text x="132.3" y="396.1" font-size="2.6" text-anchor="middle" fill="#555">10<tspan font-size="1.8" dy="-0.9">0</tspan></text>
<text x="143.55" y="396.1" font-size="2.6" text-anchor="middle" fill="#555">10<tspan font-size="1.8" dy="-0.9">1</tspan></text>
<text x="154.8" y="396.1" font-size="2.6" text-anchor="middle" fill="#555">10<tspan font-size="1.8" dy="-0.9">2</tspan></text>
<text x="166.05" y="396.1" font-size="2.6" text-anchor="middle" fill="#555">10<tspan font-size="1.8" dy="-0.9">3</tspan></text>
<text x="177.3" y="396.1" font-size="2.6" text-anchor="middle" fill="#555">10<tspan font-size="1.8" dy="-0.9">4</tspan></text>
<text x="129" y="392.1" font-size="2.4" text-anchor="end" fill="#555">0</text>
<text x="129" y="383.14" font-size="2.4" text-anchor="end" fill="#555">20</text>
<text x="129" y="374.18" font-size="2.4" text-anchor="end" fill="#555">40</text>
<text x="129" y="365.22" font-size="2.4" text-anchor="end" fill="#555">60</text>
<text x="129" y="356.26" font-size="2.4" text-anchor="end" fill="#555">80</text>
<text x="129" y="347.3" font-size="2.4" text-anchor="end" fill="#555">100</text>
<path d="M131.3 382.44L131.89 391.33L132.48 391.23L133.06 391.04L133.65 390.68L134.24 390L134.83 388.87L135.41 387.22L136 384.64L136.59 380.76L137.18 376.1L137.76 370.57L138.35 364.89L138.94 358.62L139.53 353.5L140.11 349.93L140.7 349.06L141.29 349.17L141.88 351.78L142.46 355.32L143.05 359.87L143.64 365L144.23 370.03L144.81 374.01L145.4 377.24L145.99 379.75L146.58 381.61L147.16 382.96L147.75 384.3L148.34 385.41L148.93 386.31L149.51 387.27L150.1 388L150.69 388.63L151.28 389.11L151.86 389.41L152.45 389.67L153.04 389.83L153.62 389.94L154.21 390.09L154.8 390.2L155.39 390.31L155.98 390.42L156.56 390.53L157.15 390.64L157.74 390.75L158.33 390.85L158.91 390.94L159.5 391.03L160.09 391.1L160.68 391.17L161.26 391.22L161.85 391.26L162.44 391.3L163.03 391.33L163.61 391.35L164.2 391.36L164.79 391.37L165.38 391.38L165.96 391.39L166.55 391.39L167.14 391.39L167.73 391.4L168.31 391.4L168.9 391.4L169.49 391.4L170.08 391.4L170.66 391.4L171.25 391.4L171.84 391.4L172.43 391.4L173.01 391.4L173.6 391.4L174.19 391.4L174.78 391.4L175.36 391.4L175.95 391.4L176.54 391.4L177.12 391.4L177.71 391.4L178.3 391.4L178.3 391.4 L131.3 391.4 Z" fill="#b2bebd" stroke="#6c7a7a" stroke-width="0.5" stroke-linejoin="round"/>
<path d="M131.3 384.68L131.89 388.99L132.48 386.37L133.06 382.2L133.65 375.61L134.24 368.19L134.83 359.53L135.41 351.93L136 348.93L136.59 348.41L137.18 353.44L137.76 361.16L138.35 369.48L138.94 377.16L139.53 383.13L140.11 386.93L140.7 389.32L141.29 390.51L141.88 391.06L142.46 391.28L143.05 391.36L143.64 391.39L144.23 391.4L144.81 391.4L145.4 391.4L145.99 391.4L146.58 391.4L147.16 391.4L147.75 391.4L148.34 391.4L148.93 391.4L149.51 391.4L150.1 391.4L150.69 391.4L151.28 391.4L151.86 391.4L152.45 391.4L153.04 391.4L153.62 391.4L154.21 391.4L154.8 391.4L155.39 391.4L155.98 391.4L156.56 391.4L157.15 391.4L157.74 391.4L158.33 391.4L158.91 391.4L159.5 391.4L160.09 391.4L160.68 391.4L161.26 391.4L161.85 391.4L162.44 391.4L163.03 391.4L163.61 391.4L164.2 391.4L164.79 391.4L165.38 391.4L165.96 391.4L166.55 391.4L167.14 391.4L167.73 391.4L168.31 391.4L168.9 391.4L169.49 391.4L170.08 391.4L170.66 391.4L171.25 391.4L171.84 391.4L172.43 391.4L173.01 391.4L173.6 391.4L174.19 391.4L174.78 391.4L175.36 391.4L175.95 391.4L176.54 391.4L177.12 391.4L177.71 391.4L178.3 391.4" fill="none" stroke="#2a2a2a" stroke-width="0.55" stroke-linejoin="round"/>
<text x="174.5" y="355.4" font-size="9.3" text-anchor="end" font-weight="normal" fill="#111" stroke="#111" stroke-width="0.18" >5</text>
<rect x="187.1" y="344.1" width="48" height="47.8" fill="#fff" stroke="#7c7c7c" stroke-width="0.8" />
<line x1="188.6" y1="391.9" x2="188.6" y2="393.2" stroke="#555" stroke-width="0.45" />
<line x1="188.6" y1="344.1" x2="188.6" y2="343.1" stroke="#777" stroke-width="0.35" />
<line x1="199.85" y1="391.9" x2="199.85" y2="393.2" stroke="#555" stroke-width="0.45" />
<line x1="199.85" y1="344.1" x2="199.85" y2="343.1" stroke="#777" stroke-width="0.35" />
<line x1="211.1" y1="391.9" x2="211.1" y2="393.2" stroke="#555" stroke-width="0.45" />
<line x1="211.1" y1="344.1" x2="211.1" y2="343.1" stroke="#777" stroke-width="0.35" />
<line x1="222.35" y1="391.9" x2="222.35" y2="393.2" stroke="#555" stroke-width="0.45" />
<line x1="222.35" y1="344.1" x2="222.35" y2="343.1" stroke="#777" stroke-width="0.35" />
<line x1="233.6" y1="391.9" x2="233.6" y2="393.2" stroke="#555" stroke-width="0.45" />
<line x1="233.6" y1="344.1" x2="233.6" y2="343.1" stroke="#777" stroke-width="0.35" />
<line x1="185.8" y1="391.2" x2="187.1" y2="391.2" stroke="#555" stroke-width="0.45" />
<line x1="185.8" y1="382.24" x2="187.1" y2="382.24" stroke="#555" stroke-width="0.45" />
<line x1="185.8" y1="373.28" x2="187.1" y2="373.28" stroke="#555" stroke-width="0.45" />
<line x1="185.8" y1="364.32" x2="187.1" y2="364.32" stroke="#555" stroke-width="0.45" />
<line x1="185.8" y1="355.36" x2="187.1" y2="355.36" stroke="#555" stroke-width="0.45" />
<line x1="185.8" y1="346.4" x2="187.1" y2="346.4" stroke="#555" stroke-width="0.45" />
<text x="188.6" y="396.1" font-size="2.6" text-anchor="middle" fill="#555">10<tspan font-size="1.8" dy="-0.9">0</tspan></text>
<text x="199.85" y="396.1" font-size="2.6" text-anchor="middle" fill="#555">10<tspan font-size="1.8" dy="-0.9">1</tspan></text>
<text x="211.1" y="396.1" font-size="2.6" text-anchor="middle" fill="#555">10<tspan font-size="1.8" dy="-0.9">2</tspan></text>
<text x="222.35" y="396.1" font-size="2.6" text-anchor="middle" fill="#555">10<tspan font-size="1.8" dy="-0.9">3</tspan></text>
<text x="233.6" y="396.1" font-size="2.6" text-anchor="middle" fill="#555">10<tspan font-size="1.8" dy="-0.9">4</tspan></text>
<text x="185.3" y="392.1" font-size="2.4" text-anchor="end" fill="#555">0</text>
<text x="185.3" y="383.14" font-size="2.4" text-anchor="end" fill="#555">20</text>
<text x="185.3" y="374.18" font-size="2.4" text-anchor="end" fill="#555">40</text>
<text x="185.3" y="365.22" font-size="2.4" text-anchor="end" fill="#555">60</text>
<text x="185.3" y="356.26" font-size="2.4" text-anchor="end" fill="#555">80</text>
<text x="185.3" y="347.3" font-size="2.4" text-anchor="end" fill="#555">100</text>
<path d="M187.6 382.44L188.19 383.25L188.78 380.7L189.36 377.06L189.95 373.59L190.54 372.1L191.12 369.54L191.71 363.81L192.3 364.4L192.89 363.17L193.47 358.36L194.06 359.8L194.65 356.43L195.24 356.41L195.82 352.97L196.41 353.23L197 347.27L197.59 347.27L198.17 347.27L198.76 347.27L199.35 347.27L199.94 348.69L200.53 347.27L201.11 350.16L201.7 354.9L202.29 359.09L202.88 356.96L203.46 360.98L204.05 361.42L204.64 362.03L205.22 363.86L205.81 363.98L206.4 367.01L206.99 366.28L207.57 368.47L208.16 367.53L208.75 368.61L209.34 372.09L209.92 372.82L210.51 373.51L211.1 372.46L211.69 375.18L212.28 376.08L212.86 378.3L213.45 379.42L214.04 381.23L214.62 382.83L215.21 384.03L215.8 385.45L216.39 386.47L216.97 387.74L217.56 388.55L218.15 389.34L218.74 389.9L219.32 390.44L219.91 390.75L220.5 390.97L221.09 391.13L221.67 391.23L222.26 391.3L222.85 391.34L223.44 391.37L224.03 391.38L224.61 391.39L225.2 391.39L225.79 391.4L226.38 391.4L226.96 391.4L227.55 391.4L228.14 391.4L228.72 391.4L229.31 391.4L229.9 391.4L230.49 391.4L231.07 391.4L231.66 391.4L232.25 391.4L232.84 391.4L233.42 391.4L234.01 391.4L234.6 391.4L234.6 391.4 L187.6 391.4 Z" fill="#cbd6d5" stroke="#6c7a7a" stroke-width="0.5" stroke-linejoin="round"/>
<path d="M187.6 384.68L188.19 382.15L188.78 376.49L189.36 369.97L189.95 362.1L190.54 355.73L191.12 349.36L191.71 347.48L192.3 347.27L192.89 348.33L193.47 352.18L194.06 356.37L194.65 361.04L195.24 367.08L195.82 372.3L196.41 377.9L197 382.52L197.59 386.11L198.17 388.58L198.76 390.06L199.35 390.83L199.94 391.19L200.53 391.33L201.11 391.38L201.7 391.39L202.29 391.4L202.88 391.4L203.46 391.4L204.05 391.4L204.64 391.4L205.22 391.4L205.81 391.4L206.4 391.4L206.99 391.4L207.57 391.4L208.16 391.4L208.75 391.4L209.34 391.4L209.92 391.4L210.51 391.4L211.1 391.4L211.69 391.4L212.28 391.4L212.86 391.4L213.45 391.4L214.04 391.4L214.62 391.4L215.21 391.4L215.8 391.4L216.39 391.4L216.97 391.4L217.56 391.4L218.15 391.4L218.74 391.4L219.32 391.4L219.91 391.4L220.5 391.4L221.09 391.4L221.67 391.4L222.26 391.4L222.85 391.4L223.44 391.4L224.03 391.4L224.61 391.4L225.2 391.4L225.79 391.4L226.38 391.4L226.96 391.4L227.55 391.4L228.14 391.4L228.72 391.4L229.31 391.4L229.9 391.4L230.49 391.4L231.07 391.4L231.66 391.4L232.25 391.4L232.84 391.4L233.42 391.4L234.01 391.4L234.6 391.4" fill="none" stroke="#2a2a2a" stroke-width="0.55" stroke-linejoin="round"/>
<text x="230.8" y="355.4" font-size="9.3" text-anchor="end" font-weight="normal" fill="#111" stroke="#111" stroke-width="0.18" >42</text>
<rect x="243.3" y="344.1" width="48" height="47.8" fill="#fff" stroke="#7c7c7c" stroke-width="0.8" />
<line x1="244.8" y1="391.9" x2="244.8" y2="393.2" stroke="#555" stroke-width="0.45" />
<line x1="244.8" y1="344.1" x2="244.8" y2="343.1" stroke="#777" stroke-width="0.35" />
<line x1="256.05" y1="391.9" x2="256.05" y2="393.2" stroke="#555" stroke-width="0.45" />
<line x1="256.05" y1="344.1" x2="256.05" y2="343.1" stroke="#777" stroke-width="0.35" />
<line x1="267.3" y1="391.9" x2="267.3" y2="393.2" stroke="#555" stroke-width="0.45" />
<line x1="267.3" y1="344.1" x2="267.3" y2="343.1" stroke="#777" stroke-width="0.35" />
<line x1="278.55" y1="391.9" x2="278.55" y2="393.2" stroke="#555" stroke-width="0.45" />
<line x1="278.55" y1="344.1" x2="278.55" y2="343.1" stroke="#777" stroke-width="0.35" />
<line x1="289.8" y1="391.9" x2="289.8" y2="393.2" stroke="#555" stroke-width="0.45" />
<line x1="289.8" y1="344.1" x2="289.8" y2="343.1" stroke="#777" stroke-width="0.35" />
<line x1="242" y1="391.2" x2="243.3" y2="391.2" stroke="#555" stroke-width="0.45" />
<line x1="242" y1="382.24" x2="243.3" y2="382.24" stroke="#555" stroke-width="0.45" />
<line x1="242" y1="373.28" x2="243.3" y2="373.28" stroke="#555" stroke-width="0.45" />
<line x1="242" y1="364.32" x2="243.3" y2="364.32" stroke="#555" stroke-width="0.45" />
<line x1="242" y1="355.36" x2="243.3" y2="355.36" stroke="#555" stroke-width="0.45" />
<line x1="242" y1="346.4" x2="243.3" y2="346.4" stroke="#555" stroke-width="0.45" />
<text x="244.8" y="396.1" font-size="2.6" text-anchor="middle" fill="#555">10<tspan font-size="1.8" dy="-0.9">0</tspan></text>
<text x="256.05" y="396.1" font-size="2.6" text-anchor="middle" fill="#555">10<tspan font-size="1.8" dy="-0.9">1</tspan></text>
<text x="267.3" y="396.1" font-size="2.6" text-anchor="middle" fill="#555">10<tspan font-size="1.8" dy="-0.9">2</tspan></text>
<text x="278.55" y="396.1" font-size="2.6" text-anchor="middle" fill="#555">10<tspan font-size="1.8" dy="-0.9">3</tspan></text>
<text x="289.8" y="396.1" font-size="2.6" text-anchor="middle" fill="#555">10<tspan font-size="1.8" dy="-0.9">4</tspan></text>
<text x="241.5" y="392.1" font-size="2.4" text-anchor="end" fill="#555">0</text>
<text x="241.5" y="383.14" font-size="2.4" text-anchor="end" fill="#555">20</text>
<text x="241.5" y="374.18" font-size="2.4" text-anchor="end" fill="#555">40</text>
<text x="241.5" y="365.22" font-size="2.4" text-anchor="end" fill="#555">60</text>
<text x="241.5" y="356.26" font-size="2.4" text-anchor="end" fill="#555">80</text>
<text x="241.5" y="347.3" font-size="2.4" text-anchor="end" fill="#555">100</text>
<path d="M243.8 382.44L244.39 391.38L244.98 391.36L245.56 391.3L246.15 391.17L246.74 390.91L247.33 390.44L247.91 389.66L248.5 388.37L249.09 386.15L249.68 383.34L250.26 379.49L250.85 373.83L251.44 366.39L252.03 360.1L252.61 353.91L253.2 351.29L253.79 347.27L254.38 347.27L254.96 347.27L255.55 348.49L256.14 350.5L256.73 350.09L257.31 353.63L257.9 356.35L258.49 358.47L259.07 362.31L259.66 363.14L260.25 363.15L260.84 363.77L261.43 364.2L262.01 364.74L262.6 367.53L263.19 366.19L263.78 366.15L264.36 366.79L264.95 367.93L265.54 367.21L266.12 368.33L266.71 365.62L267.3 365.42L267.89 366.1L268.48 367.13L269.06 366.62L269.65 370L270.24 372.76L270.82 379.25L271.41 390.21L272 391.39L272.59 391.4L273.18 391.4L273.76 391.4L274.35 391.4L274.94 391.4L275.53 391.4L276.11 391.4L276.7 391.4L277.29 391.4L277.88 391.4L278.46 391.4L279.05 391.4L279.64 391.4L280.23 391.4L280.81 391.4L281.4 391.4L281.99 391.4L282.57 391.4L283.16 391.4L283.75 391.4L284.34 391.4L284.93 391.4L285.51 391.4L286.1 391.4L286.69 391.4L287.28 391.4L287.86 391.4L288.45 391.4L289.04 391.4L289.62 391.4L290.21 391.4L290.8 391.4L290.8 391.4 L243.8 391.4 Z" fill="#cbd6d5" stroke="#6c7a7a" stroke-width="0.5" stroke-linejoin="round"/>
<path d="M243.8 384.68L244.39 390.25L244.98 388.58L245.56 385.25L246.15 379.91L246.74 371.98L247.33 362.52L247.91 354.51L248.5 348.84L249.09 348.53L249.68 353.15L250.26 362.46L250.85 371.36L251.44 378.83L252.03 384.75L252.61 388.33L253.2 390.11L253.79 390.93L254.38 391.25L254.96 391.36L255.55 391.39L256.14 391.4L256.73 391.4L257.31 391.4L257.9 391.4L258.49 391.4L259.07 391.4L259.66 391.4L260.25 391.4L260.84 391.4L261.43 391.4L262.01 391.4L262.6 391.4L263.19 391.4L263.78 391.4L264.36 391.4L264.95 391.4L265.54 391.4L266.12 391.4L266.71 391.4L267.3 391.4L267.89 391.4L268.48 391.4L269.06 391.4L269.65 391.4L270.24 391.4L270.82 391.4L271.41 391.4L272 391.4L272.59 391.4L273.18 391.4L273.76 391.4L274.35 391.4L274.94 391.4L275.53 391.4L276.11 391.4L276.7 391.4L277.29 391.4L277.88 391.4L278.46 391.4L279.05 391.4L279.64 391.4L280.23 391.4L280.81 391.4L281.4 391.4L281.99 391.4L282.57 391.4L283.16 391.4L283.75 391.4L284.34 391.4L284.93 391.4L285.51 391.4L286.1 391.4L286.69 391.4L287.28 391.4L287.86 391.4L288.45 391.4L289.04 391.4L289.62 391.4L290.21 391.4L290.8 391.4" fill="none" stroke="#2a2a2a" stroke-width="0.55" stroke-linejoin="round"/>
<text x="287" y="355.4" font-size="9.3" text-anchor="end" font-weight="normal" fill="#111" stroke="#111" stroke-width="0.18" >21</text>
<rect x="299.4" y="344.1" width="48" height="47.8" fill="#fff" stroke="#7c7c7c" stroke-width="0.8" />
<line x1="300.9" y1="391.9" x2="300.9" y2="393.2" stroke="#555" stroke-width="0.45" />
<line x1="300.9" y1="344.1" x2="300.9" y2="343.1" stroke="#777" stroke-width="0.35" />
<line x1="312.15" y1="391.9" x2="312.15" y2="393.2" stroke="#555" stroke-width="0.45" />
<line x1="312.15" y1="344.1" x2="312.15" y2="343.1" stroke="#777" stroke-width="0.35" />
<line x1="323.4" y1="391.9" x2="323.4" y2="393.2" stroke="#555" stroke-width="0.45" />
<line x1="323.4" y1="344.1" x2="323.4" y2="343.1" stroke="#777" stroke-width="0.35" />
<line x1="334.65" y1="391.9" x2="334.65" y2="393.2" stroke="#555" stroke-width="0.45" />
<line x1="334.65" y1="344.1" x2="334.65" y2="343.1" stroke="#777" stroke-width="0.35" />
<line x1="345.9" y1="391.9" x2="345.9" y2="393.2" stroke="#555" stroke-width="0.45" />
<line x1="345.9" y1="344.1" x2="345.9" y2="343.1" stroke="#777" stroke-width="0.35" />
<line x1="298.1" y1="391.2" x2="299.4" y2="391.2" stroke="#555" stroke-width="0.45" />
<line x1="298.1" y1="382.24" x2="299.4" y2="382.24" stroke="#555" stroke-width="0.45" />
<line x1="298.1" y1="373.28" x2="299.4" y2="373.28" stroke="#555" stroke-width="0.45" />
<line x1="298.1" y1="364.32" x2="299.4" y2="364.32" stroke="#555" stroke-width="0.45" />
<line x1="298.1" y1="355.36" x2="299.4" y2="355.36" stroke="#555" stroke-width="0.45" />
<line x1="298.1" y1="346.4" x2="299.4" y2="346.4" stroke="#555" stroke-width="0.45" />
<text x="300.9" y="396.1" font-size="2.6" text-anchor="middle" fill="#555">10<tspan font-size="1.8" dy="-0.9">0</tspan></text>
<text x="312.15" y="396.1" font-size="2.6" text-anchor="middle" fill="#555">10<tspan font-size="1.8" dy="-0.9">1</tspan></text>
<text x="323.4" y="396.1" font-size="2.6" text-anchor="middle" fill="#555">10<tspan font-size="1.8" dy="-0.9">2</tspan></text>
<text x="334.65" y="396.1" font-size="2.6" text-anchor="middle" fill="#555">10<tspan font-size="1.8" dy="-0.9">3</tspan></text>
<text x="345.9" y="396.1" font-size="2.6" text-anchor="middle" fill="#555">10<tspan font-size="1.8" dy="-0.9">4</tspan></text>
<text x="297.6" y="392.1" font-size="2.4" text-anchor="end" fill="#555">0</text>
<text x="297.6" y="383.14" font-size="2.4" text-anchor="end" fill="#555">20</text>
<text x="297.6" y="374.18" font-size="2.4" text-anchor="end" fill="#555">40</text>
<text x="297.6" y="365.22" font-size="2.4" text-anchor="end" fill="#555">60</text>
<text x="297.6" y="356.26" font-size="2.4" text-anchor="end" fill="#555">80</text>
<text x="297.6" y="347.3" font-size="2.4" text-anchor="end" fill="#555">100</text>
<path d="M299.9 382.44L300.49 388.72L301.07 387.04L301.66 384.7L302.25 381.77L302.84 378.01L303.42 374.27L304.01 369.04L304.6 363.06L305.19 357.6L305.77 351.62L306.36 348.36L306.95 347.27L307.54 347.27L308.12 347.79L308.71 353.2L309.3 361L309.89 368.17L310.47 374.91L311.06 380.09L311.65 384.13L312.24 386.78L312.82 388.11L313.41 388.94L314 389.28L314.59 389.55L315.17 389.75L315.76 389.9L316.35 390.15L316.94 390.39L317.52 390.61L318.11 390.81L318.7 390.98L319.29 391.12L319.88 391.22L320.46 391.29L321.05 391.33L321.64 391.36L322.22 391.38L322.81 391.39L323.4 391.39L323.99 391.4L324.57 391.4L325.16 391.4L325.75 391.4L326.34 391.4L326.92 391.4L327.51 391.4L328.1 391.4L328.69 391.4L329.27 391.4L329.86 391.4L330.45 391.4L331.04 391.4L331.62 391.4L332.21 391.4L332.8 391.4L333.39 391.4L333.97 391.4L334.56 391.4L335.15 391.4L335.74 391.4L336.32 391.4L336.91 391.4L337.5 391.4L338.09 391.4L338.67 391.4L339.26 391.4L339.85 391.4L340.44 391.4L341.02 391.4L341.61 391.4L342.2 391.4L342.79 391.4L343.38 391.4L343.96 391.4L344.55 391.4L345.14 391.4L345.72 391.4L346.31 391.4L346.9 391.4L346.9 391.4 L299.9 391.4 Z" fill="#bec9c8" stroke="#6c7a7a" stroke-width="0.5" stroke-linejoin="round"/>
<path d="M299.9 384.68L300.49 389.99L301.07 388.87L301.66 387.03L302.25 384.58L302.84 381.29L303.42 377.88L304.01 373.71L304.6 368.94L305.19 363.89L305.77 357.49L306.36 351.81L306.95 347.52L307.54 347.27L308.12 347.27L308.71 351.72L309.3 358.9L309.89 367.25L310.47 375.07L311.06 381.2L311.65 385.86L312.24 388.61L312.82 390.11L313.41 390.86L314 391.2L314.59 391.33L315.17 391.38L315.76 391.39L316.35 391.4L316.94 391.4L317.52 391.4L318.11 391.4L318.7 391.4L319.29 391.4L319.88 391.4L320.46 391.4L321.05 391.4L321.64 391.4L322.22 391.4L322.81 391.4L323.4 391.4L323.99 391.4L324.57 391.4L325.16 391.4L325.75 391.4L326.34 391.4L326.92 391.4L327.51 391.4L328.1 391.4L328.69 391.4L329.27 391.4L329.86 391.4L330.45 391.4L331.04 391.4L331.62 391.4L332.21 391.4L332.8 391.4L333.39 391.4L333.97 391.4L334.56 391.4L335.15 391.4L335.74 391.4L336.32 391.4L336.91 391.4L337.5 391.4L338.09 391.4L338.67 391.4L339.26 391.4L339.85 391.4L340.44 391.4L341.02 391.4L341.61 391.4L342.2 391.4L342.79 391.4L343.38 391.4L343.96 391.4L344.55 391.4L345.14 391.4L345.72 391.4L346.31 391.4L346.9 391.4" fill="none" stroke="#2a2a2a" stroke-width="0.55" stroke-linejoin="round"/>
<text x="343.1" y="355.4" font-size="9.3" text-anchor="end" font-weight="normal" fill="#111" stroke="#111" stroke-width="0.18" >1</text>
<rect x="355.5" y="344.1" width="48" height="47.8" fill="#fff" stroke="#7c7c7c" stroke-width="0.8" />
<line x1="357" y1="391.9" x2="357" y2="393.2" stroke="#555" stroke-width="0.45" />
<line x1="357" y1="344.1" x2="357" y2="343.1" stroke="#777" stroke-width="0.35" />
<line x1="368.25" y1="391.9" x2="368.25" y2="393.2" stroke="#555" stroke-width="0.45" />
<line x1="368.25" y1="344.1" x2="368.25" y2="343.1" stroke="#777" stroke-width="0.35" />
<line x1="379.5" y1="391.9" x2="379.5" y2="393.2" stroke="#555" stroke-width="0.45" />
<line x1="379.5" y1="344.1" x2="379.5" y2="343.1" stroke="#777" stroke-width="0.35" />
<line x1="390.75" y1="391.9" x2="390.75" y2="393.2" stroke="#555" stroke-width="0.45" />
<line x1="390.75" y1="344.1" x2="390.75" y2="343.1" stroke="#777" stroke-width="0.35" />
<line x1="402" y1="391.9" x2="402" y2="393.2" stroke="#555" stroke-width="0.45" />
<line x1="402" y1="344.1" x2="402" y2="343.1" stroke="#777" stroke-width="0.35" />
<line x1="354.2" y1="391.2" x2="355.5" y2="391.2" stroke="#555" stroke-width="0.45" />
<line x1="354.2" y1="382.24" x2="355.5" y2="382.24" stroke="#555" stroke-width="0.45" />
<line x1="354.2" y1="373.28" x2="355.5" y2="373.28" stroke="#555" stroke-width="0.45" />
<line x1="354.2" y1="364.32" x2="355.5" y2="364.32" stroke="#555" stroke-width="0.45" />
<line x1="354.2" y1="355.36" x2="355.5" y2="355.36" stroke="#555" stroke-width="0.45" />
<line x1="354.2" y1="346.4" x2="355.5" y2="346.4" stroke="#555" stroke-width="0.45" />
<text x="357" y="396.1" font-size="2.6" text-anchor="middle" fill="#555">10<tspan font-size="1.8" dy="-0.9">0</tspan></text>
<text x="368.25" y="396.1" font-size="2.6" text-anchor="middle" fill="#555">10<tspan font-size="1.8" dy="-0.9">1</tspan></text>
<text x="379.5" y="396.1" font-size="2.6" text-anchor="middle" fill="#555">10<tspan font-size="1.8" dy="-0.9">2</tspan></text>
<text x="390.75" y="396.1" font-size="2.6" text-anchor="middle" fill="#555">10<tspan font-size="1.8" dy="-0.9">3</tspan></text>
<text x="402" y="396.1" font-size="2.6" text-anchor="middle" fill="#555">10<tspan font-size="1.8" dy="-0.9">4</tspan></text>
<text x="353.7" y="392.1" font-size="2.4" text-anchor="end" fill="#555">0</text>
<text x="353.7" y="383.14" font-size="2.4" text-anchor="end" fill="#555">20</text>
<text x="353.7" y="374.18" font-size="2.4" text-anchor="end" fill="#555">40</text>
<text x="353.7" y="365.22" font-size="2.4" text-anchor="end" fill="#555">60</text>
<text x="353.7" y="356.26" font-size="2.4" text-anchor="end" fill="#555">80</text>
<text x="353.7" y="347.3" font-size="2.4" text-anchor="end" fill="#555">100</text>
<path d="M356 382.44L356.59 389.65L357.18 388.45L357.76 386.83L358.35 384.55L358.94 381.63L359.52 376.76L360.11 372.14L360.7 365.97L361.29 361.34L361.88 354.59L362.46 351.85L363.05 347.27L363.64 347.27L364.23 347.27L364.81 347.27L365.4 347.65L365.99 352.61L366.57 354.46L367.16 356.9L367.75 361.65L368.34 362.73L368.93 365.38L369.51 366.98L370.1 369.85L370.69 371.84L371.27 371.83L371.86 373.14L372.45 374.97L373.04 376.63L373.62 377.52L374.21 377.97L374.8 379.46L375.39 379.79L375.98 381.34L376.56 382.85L377.15 383.66L377.74 385.04L378.32 385.85L378.91 386.96L379.5 388.06L380.09 388.84L380.68 389.5L381.26 390.07L381.85 390.48L382.44 390.78L383.02 391L383.61 391.15L384.2 391.24L384.79 391.31L385.38 391.35L385.96 391.37L386.55 391.38L387.14 391.39L387.73 391.4L388.31 391.4L388.9 391.4L389.49 391.4L390.07 391.4L390.66 391.4L391.25 391.4L391.84 391.4L392.43 391.4L393.01 391.4L393.6 391.4L394.19 391.4L394.77 391.4L395.36 391.4L395.95 391.4L396.54 391.4L397.12 391.4L397.71 391.4L398.3 391.4L398.89 391.4L399.48 391.4L400.06 391.4L400.65 391.4L401.24 391.4L401.82 391.4L402.41 391.4L403 391.4L403 391.4 L356 391.4 Z" fill="#b2bebd" stroke="#6c7a7a" stroke-width="0.5" stroke-linejoin="round"/>
<path d="M356 384.68L356.59 389.68L357.18 387.91L357.76 385.29L358.35 380.93L358.94 375.17L359.52 368.32L360.11 361.5L360.7 354.9L361.29 349.69L361.88 347.59L362.46 349.79L363.05 354.62L363.64 361.4L364.23 368.63L364.81 375.25L365.4 381.06L365.99 385.19L366.57 387.95L367.16 389.64L367.75 390.57L368.34 391.04L368.93 391.25L369.51 391.35L370.1 391.38L370.69 391.39L371.27 391.4L371.86 391.4L372.45 391.4L373.04 391.4L373.62 391.4L374.21 391.4L374.8 391.4L375.39 391.4L375.98 391.4L376.56 391.4L377.15 391.4L377.74 391.4L378.32 391.4L378.91 391.4L379.5 391.4L380.09 391.4L380.68 391.4L381.26 391.4L381.85 391.4L382.44 391.4L383.02 391.4L383.61 391.4L384.2 391.4L384.79 391.4L385.38 391.4L385.96 391.4L386.55 391.4L387.14 391.4L387.73 391.4L388.31 391.4L388.9 391.4L389.49 391.4L390.07 391.4L390.66 391.4L391.25 391.4L391.84 391.4L392.43 391.4L393.01 391.4L393.6 391.4L394.19 391.4L394.77 391.4L395.36 391.4L395.95 391.4L396.54 391.4L397.12 391.4L397.71 391.4L398.3 391.4L398.89 391.4L399.48 391.4L400.06 391.4L400.65 391.4L401.24 391.4L401.82 391.4L402.41 391.4L403 391.4" fill="none" stroke="#2a2a2a" stroke-width="0.55" stroke-linejoin="round"/>
<text x="399.2" y="355.4" font-size="9.3" text-anchor="end" font-weight="normal" fill="#111" stroke="#111" stroke-width="0.18" >7</text>
<rect x="411.7" y="344.1" width="48" height="47.8" fill="#fff" stroke="#7c7c7c" stroke-width="0.8" />
<line x1="413.2" y1="391.9" x2="413.2" y2="393.2" stroke="#555" stroke-width="0.45" />
<line x1="413.2" y1="344.1" x2="413.2" y2="343.1" stroke="#777" stroke-width="0.35" />
<line x1="424.45" y1="391.9" x2="424.45" y2="393.2" stroke="#555" stroke-width="0.45" />
<line x1="424.45" y1="344.1" x2="424.45" y2="343.1" stroke="#777" stroke-width="0.35" />
<line x1="435.7" y1="391.9" x2="435.7" y2="393.2" stroke="#555" stroke-width="0.45" />
<line x1="435.7" y1="344.1" x2="435.7" y2="343.1" stroke="#777" stroke-width="0.35" />
<line x1="446.95" y1="391.9" x2="446.95" y2="393.2" stroke="#555" stroke-width="0.45" />
<line x1="446.95" y1="344.1" x2="446.95" y2="343.1" stroke="#777" stroke-width="0.35" />
<line x1="458.2" y1="391.9" x2="458.2" y2="393.2" stroke="#555" stroke-width="0.45" />
<line x1="458.2" y1="344.1" x2="458.2" y2="343.1" stroke="#777" stroke-width="0.35" />
<line x1="410.4" y1="391.2" x2="411.7" y2="391.2" stroke="#555" stroke-width="0.45" />
<line x1="410.4" y1="382.24" x2="411.7" y2="382.24" stroke="#555" stroke-width="0.45" />
<line x1="410.4" y1="373.28" x2="411.7" y2="373.28" stroke="#555" stroke-width="0.45" />
<line x1="410.4" y1="364.32" x2="411.7" y2="364.32" stroke="#555" stroke-width="0.45" />
<line x1="410.4" y1="355.36" x2="411.7" y2="355.36" stroke="#555" stroke-width="0.45" />
<line x1="410.4" y1="346.4" x2="411.7" y2="346.4" stroke="#555" stroke-width="0.45" />
<text x="413.2" y="396.1" font-size="2.6" text-anchor="middle" fill="#555">10<tspan font-size="1.8" dy="-0.9">0</tspan></text>
<text x="424.45" y="396.1" font-size="2.6" text-anchor="middle" fill="#555">10<tspan font-size="1.8" dy="-0.9">1</tspan></text>
<text x="435.7" y="396.1" font-size="2.6" text-anchor="middle" fill="#555">10<tspan font-size="1.8" dy="-0.9">2</tspan></text>
<text x="446.95" y="396.1" font-size="2.6" text-anchor="middle" fill="#555">10<tspan font-size="1.8" dy="-0.9">3</tspan></text>
<text x="458.2" y="396.1" font-size="2.6" text-anchor="middle" fill="#555">10<tspan font-size="1.8" dy="-0.9">4</tspan></text>
<text x="409.9" y="392.1" font-size="2.4" text-anchor="end" fill="#555">0</text>
<text x="409.9" y="383.14" font-size="2.4" text-anchor="end" fill="#555">20</text>
<text x="409.9" y="374.18" font-size="2.4" text-anchor="end" fill="#555">40</text>
<text x="409.9" y="365.22" font-size="2.4" text-anchor="end" fill="#555">60</text>
<text x="409.9" y="356.26" font-size="2.4" text-anchor="end" fill="#555">80</text>
<text x="409.9" y="347.3" font-size="2.4" text-anchor="end" fill="#555">100</text>
<path d="M412.2 379.72L412.79 375.86L413.38 369.81L413.96 367.84L414.55 362.66L415.14 361.47L415.72 362.25L416.31 360.06L416.9 362.69L417.49 360.64L418.07 361.61L418.66 359.83L419.25 355.67L419.84 350.77L420.43 353.31L421.01 351.74L421.6 349.18L422.19 348.11L422.77 351.9L423.36 354.39L423.95 352.36L424.54 359.37L425.12 357.81L425.71 364.76L426.3 370.54L426.89 376.22L427.47 381.04L428.06 384.72L428.65 388.16L429.24 389.73L429.82 390.67L430.41 391.1L431 391.28L431.59 391.36L432.18 391.38L432.76 391.39L433.35 391.4L433.94 391.4L434.52 391.4L435.11 391.4L435.7 391.4L436.29 391.4L436.88 391.4L437.46 391.4L438.05 391.4L438.64 391.4L439.22 391.4L439.81 391.4L440.4 391.4L440.99 391.4L441.57 391.4L442.16 391.4L442.75 391.4L443.34 391.4L443.93 391.4L444.51 391.4L445.1 391.4L445.69 391.4L446.27 391.4L446.86 391.4L447.45 391.4L448.04 391.4L448.62 391.4L449.21 391.4L449.8 391.4L450.39 391.4L450.97 391.4L451.56 391.4L452.15 391.4L452.74 391.4L453.32 391.4L453.91 391.4L454.5 391.4L455.09 391.4L455.68 391.4L456.26 391.4L456.85 391.4L457.44 391.4L458.02 391.4L458.61 391.4L459.2 391.4L459.2 391.4 L412.2 391.4 Z" fill="#cbd6d5" stroke="#6c7a7a" stroke-width="0.5" stroke-linejoin="round"/>
<path d="M412.2 384.18L412.79 380.56L413.38 375.82L413.96 370.1L414.55 363.67L415.14 357.28L415.72 352.91L416.31 349.67L416.9 347.93L417.49 349.16L418.07 350.89L418.66 354.56L419.25 360.57L419.84 365L420.43 370.23L421.01 373.81L421.6 377.57L422.19 380.58L422.77 383.16L423.36 385.19L423.95 386.79L424.54 388.32L425.12 389.36L425.71 390.15L426.3 390.68L426.89 391.01L427.47 391.21L428.06 391.31L428.65 391.36L429.24 391.38L429.82 391.39L430.41 391.4L431 391.4L431.59 391.4L432.18 391.4L432.76 391.4L433.35 391.4L433.94 391.4L434.52 391.4L435.11 391.4L435.7 391.4L436.29 391.4L436.88 391.4L437.46 391.4L438.05 391.4L438.64 391.4L439.22 391.4L439.81 391.4L440.4 391.4L440.99 391.4L441.57 391.4L442.16 391.4L442.75 391.4L443.34 391.4L443.93 391.4L444.51 391.4L445.1 391.4L445.69 391.4L446.27 391.4L446.86 391.4L447.45 391.4L448.04 391.4L448.62 391.4L449.21 391.4L449.8 391.4L450.39 391.4L450.97 391.4L451.56 391.4L452.15 391.4L452.74 391.4L453.32 391.4L453.91 391.4L454.5 391.4L455.09 391.4L455.68 391.4L456.26 391.4L456.85 391.4L457.44 391.4L458.02 391.4L458.61 391.4L459.2 391.4" fill="none" stroke="#2a2a2a" stroke-width="0.55" stroke-linejoin="round"/>
<text x="455.4" y="355.4" font-size="9.3" text-anchor="end" font-weight="normal" fill="#111" stroke="#111" stroke-width="0.18" >3</text>
<rect x="468" y="344.1" width="48" height="47.8" fill="#fff" stroke="#7c7c7c" stroke-width="0.8" />
<line x1="469.5" y1="391.9" x2="469.5" y2="393.2" stroke="#555" stroke-width="0.45" />
<line x1="469.5" y1="344.1" x2="469.5" y2="343.1" stroke="#777" stroke-width="0.35" />
<line x1="480.75" y1="391.9" x2="480.75" y2="393.2" stroke="#555" stroke-width="0.45" />
<line x1="480.75" y1="344.1" x2="480.75" y2="343.1" stroke="#777" stroke-width="0.35" />
<line x1="492" y1="391.9" x2="492" y2="393.2" stroke="#555" stroke-width="0.45" />
<line x1="492" y1="344.1" x2="492" y2="343.1" stroke="#777" stroke-width="0.35" />
<line x1="503.25" y1="391.9" x2="503.25" y2="393.2" stroke="#555" stroke-width="0.45" />
<line x1="503.25" y1="344.1" x2="503.25" y2="343.1" stroke="#777" stroke-width="0.35" />
<line x1="514.5" y1="391.9" x2="514.5" y2="393.2" stroke="#555" stroke-width="0.45" />
<line x1="514.5" y1="344.1" x2="514.5" y2="343.1" stroke="#777" stroke-width="0.35" />
<line x1="466.7" y1="391.2" x2="468" y2="391.2" stroke="#555" stroke-width="0.45" />
<line x1="466.7" y1="382.24" x2="468" y2="382.24" stroke="#555" stroke-width="0.45" />
<line x1="466.7" y1="373.28" x2="468" y2="373.28" stroke="#555" stroke-width="0.45" />
<line x1="466.7" y1="364.32" x2="468" y2="364.32" stroke="#555" stroke-width="0.45" />
<line x1="466.7" y1="355.36" x2="468" y2="355.36" stroke="#555" stroke-width="0.45" />
<line x1="466.7" y1="346.4" x2="468" y2="346.4" stroke="#555" stroke-width="0.45" />
<text x="469.5" y="396.1" font-size="2.6" text-anchor="middle" fill="#555">10<tspan font-size="1.8" dy="-0.9">0</tspan></text>
<text x="480.75" y="396.1" font-size="2.6" text-anchor="middle" fill="#555">10<tspan font-size="1.8" dy="-0.9">1</tspan></text>
<text x="492" y="396.1" font-size="2.6" text-anchor="middle" fill="#555">10<tspan font-size="1.8" dy="-0.9">2</tspan></text>
<text x="503.25" y="396.1" font-size="2.6" text-anchor="middle" fill="#555">10<tspan font-size="1.8" dy="-0.9">3</tspan></text>
<text x="514.5" y="396.1" font-size="2.6" text-anchor="middle" fill="#555">10<tspan font-size="1.8" dy="-0.9">4</tspan></text>
<text x="466.2" y="392.1" font-size="2.4" text-anchor="end" fill="#555">0</text>
<text x="466.2" y="383.14" font-size="2.4" text-anchor="end" fill="#555">20</text>
<text x="466.2" y="374.18" font-size="2.4" text-anchor="end" fill="#555">40</text>
<text x="466.2" y="365.22" font-size="2.4" text-anchor="end" fill="#555">60</text>
<text x="466.2" y="356.26" font-size="2.4" text-anchor="end" fill="#555">80</text>
<text x="466.2" y="347.3" font-size="2.4" text-anchor="end" fill="#555">100</text>
<path d="M468.5 382.44L469.09 386.65L469.68 383.26L470.26 377.88L470.85 371.8L471.44 364.55L472.02 356.92L472.61 353.27L473.2 350.85L473.79 352.88L474.38 357.66L474.96 364.28L475.55 371.71L476.14 377.81L476.73 383.27L477.31 386.79L477.9 389.04L478.49 390.26L479.07 390.91L479.66 391.2L480.25 391.33L480.84 391.38L481.43 391.39L482.01 391.4L482.6 391.4L483.19 391.4L483.77 391.4L484.36 391.4L484.95 391.4L485.54 391.4L486.12 391.4L486.71 391.4L487.3 391.4L487.89 391.4L488.48 391.4L489.06 391.4L489.65 391.4L490.24 391.4L490.82 391.4L491.41 391.4L492 391.4L492.59 391.4L493.18 391.4L493.76 391.4L494.35 391.4L494.94 391.4L495.52 391.4L496.11 391.4L496.7 391.4L497.29 391.4L497.88 391.4L498.46 391.4L499.05 391.4L499.64 391.4L500.23 391.4L500.81 391.4L501.4 391.4L501.99 391.4L502.57 391.4L503.16 391.4L503.75 391.4L504.34 391.4L504.93 391.4L505.51 391.4L506.1 391.4L506.69 391.4L507.27 391.4L507.86 391.4L508.45 391.4L509.04 391.4L509.62 391.4L510.21 391.4L510.8 391.4L511.39 391.4L511.98 391.4L512.56 391.4L513.15 391.4L513.74 391.4L514.33 391.4L514.91 391.4L515.5 391.4L515.5 391.4 L468.5 391.4 Z" fill="#bec9c8" stroke="#6c7a7a" stroke-width="0.5" stroke-linejoin="round"/>
<path d="M468.5 384.68L469.09 388.09L469.68 385.01L470.26 379.79L470.85 372.45L471.44 364.79L472.02 355.86L472.61 350.37L473.2 347.73L473.79 351.37L474.38 356.2L474.96 364.55L475.55 372.73L476.14 379.85L476.73 384.76L477.31 388.08L477.9 389.88L478.49 390.78L479.07 391.17L479.66 391.32L480.25 391.38L480.84 391.39L481.43 391.4L482.01 391.4L482.6 391.4L483.19 391.4L483.77 391.4L484.36 391.4L484.95 391.4L485.54 391.4L486.12 391.4L486.71 391.4L487.3 391.4L487.89 391.4L488.48 391.4L489.06 391.4L489.65 391.4L490.24 391.4L490.82 391.4L491.41 391.4L492 391.4L492.59 391.4L493.18 391.4L493.76 391.4L494.35 391.4L494.94 391.4L495.52 391.4L496.11 391.4L496.7 391.4L497.29 391.4L497.88 391.4L498.46 391.4L499.05 391.4L499.64 391.4L500.23 391.4L500.81 391.4L501.4 391.4L501.99 391.4L502.57 391.4L503.16 391.4L503.75 391.4L504.34 391.4L504.93 391.4L505.51 391.4L506.1 391.4L506.69 391.4L507.27 391.4L507.86 391.4L508.45 391.4L509.04 391.4L509.62 391.4L510.21 391.4L510.8 391.4L511.39 391.4L511.98 391.4L512.56 391.4L513.15 391.4L513.74 391.4L514.33 391.4L514.91 391.4L515.5 391.4" fill="none" stroke="#2a2a2a" stroke-width="0.55" stroke-linejoin="round"/>
<text x="511.7" y="355.4" font-size="9.3" text-anchor="end" font-weight="normal" fill="#111" stroke="#111" stroke-width="0.18" >&lt;1</text>
<rect x="74.6" y="400.3" width="48" height="47.8" fill="#fff" stroke="#7c7c7c" stroke-width="0.8" />
<line x1="76.1" y1="448.1" x2="76.1" y2="449.4" stroke="#555" stroke-width="0.45" />
<line x1="76.1" y1="400.3" x2="76.1" y2="399.3" stroke="#777" stroke-width="0.35" />
<line x1="87.35" y1="448.1" x2="87.35" y2="449.4" stroke="#555" stroke-width="0.45" />
<line x1="87.35" y1="400.3" x2="87.35" y2="399.3" stroke="#777" stroke-width="0.35" />
<line x1="98.6" y1="448.1" x2="98.6" y2="449.4" stroke="#555" stroke-width="0.45" />
<line x1="98.6" y1="400.3" x2="98.6" y2="399.3" stroke="#777" stroke-width="0.35" />
<line x1="109.85" y1="448.1" x2="109.85" y2="449.4" stroke="#555" stroke-width="0.45" />
<line x1="109.85" y1="400.3" x2="109.85" y2="399.3" stroke="#777" stroke-width="0.35" />
<line x1="121.1" y1="448.1" x2="121.1" y2="449.4" stroke="#555" stroke-width="0.45" />
<line x1="121.1" y1="400.3" x2="121.1" y2="399.3" stroke="#777" stroke-width="0.35" />
<line x1="73.3" y1="447.4" x2="74.6" y2="447.4" stroke="#555" stroke-width="0.45" />
<line x1="73.3" y1="438.44" x2="74.6" y2="438.44" stroke="#555" stroke-width="0.45" />
<line x1="73.3" y1="429.48" x2="74.6" y2="429.48" stroke="#555" stroke-width="0.45" />
<line x1="73.3" y1="420.52" x2="74.6" y2="420.52" stroke="#555" stroke-width="0.45" />
<line x1="73.3" y1="411.56" x2="74.6" y2="411.56" stroke="#555" stroke-width="0.45" />
<line x1="73.3" y1="402.6" x2="74.6" y2="402.6" stroke="#555" stroke-width="0.45" />
<text x="76.1" y="452.3" font-size="2.6" text-anchor="middle" fill="#555">10<tspan font-size="1.8" dy="-0.9">0</tspan></text>
<text x="87.35" y="452.3" font-size="2.6" text-anchor="middle" fill="#555">10<tspan font-size="1.8" dy="-0.9">1</tspan></text>
<text x="98.6" y="452.3" font-size="2.6" text-anchor="middle" fill="#555">10<tspan font-size="1.8" dy="-0.9">2</tspan></text>
<text x="109.85" y="452.3" font-size="2.6" text-anchor="middle" fill="#555">10<tspan font-size="1.8" dy="-0.9">3</tspan></text>
<text x="121.1" y="452.3" font-size="2.6" text-anchor="middle" fill="#555">10<tspan font-size="1.8" dy="-0.9">4</tspan></text>
<text x="72.8" y="448.3" font-size="2.4" text-anchor="end" fill="#555">0</text>
<text x="72.8" y="439.34" font-size="2.4" text-anchor="end" fill="#555">20</text>
<text x="72.8" y="430.38" font-size="2.4" text-anchor="end" fill="#555">40</text>
<text x="72.8" y="421.42" font-size="2.4" text-anchor="end" fill="#555">60</text>
<text x="72.8" y="412.46" font-size="2.4" text-anchor="end" fill="#555">80</text>
<text x="72.8" y="403.5" font-size="2.4" text-anchor="end" fill="#555">100</text>
<path d="M75.1 438.64L75.69 447.3L76.27 447.06L76.86 446.65L77.45 446.01L78.04 445.06L78.62 443.72L79.21 441.44L79.8 439.31L80.39 435.6L80.97 431.04L81.56 427.62L82.15 421.82L82.74 416.62L83.32 413.53L83.91 408.71L84.5 404.88L85.09 404.38L85.67 403.6L86.26 407.16L86.85 409.73L87.44 413.84L88.02 417.11L88.61 420.77L89.2 425.85L89.79 429.56L90.38 433.48L90.96 435.95L91.55 438.74L92.14 440.39L92.72 441.63L93.31 442.78L93.9 443.83L94.49 444.69L95.07 445.28L95.66 445.83L96.25 446.26L96.84 446.6L97.42 446.88L98.01 447.1L98.6 447.26L99.19 447.38L99.77 447.46L100.36 447.51L100.95 447.55L101.54 447.57L102.12 447.58L102.71 447.59L103.3 447.6L103.89 447.6L104.47 447.6L105.06 447.6L105.65 447.6L106.24 447.6L106.82 447.6L107.41 447.6L108 447.6L108.59 447.6L109.17 447.6L109.76 447.6L110.35 447.6L110.94 447.6L111.53 447.6L112.11 447.6L112.7 447.6L113.29 447.6L113.88 447.6L114.46 447.6L115.05 447.6L115.64 447.6L116.22 447.6L116.81 447.6L117.4 447.6L117.99 447.6L118.57 447.6L119.16 447.6L119.75 447.6L120.34 447.6L120.92 447.6L121.51 447.6L122.1 447.6L122.1 447.6 L75.1 447.6 Z" fill="#b2bebd" stroke="#6c7a7a" stroke-width="0.5" stroke-linejoin="round"/>
<path d="M75.1 440.88L75.69 446.98L76.27 446.09L76.86 444.34L77.45 441.04L78.04 435.79L78.62 429.35L79.21 420.82L79.8 412.93L80.39 407.13L80.97 403.94L81.56 406.03L82.15 412.3L82.74 420.85L83.32 428.73L83.91 436.18L84.5 441.08L85.09 444.31L85.67 446.12L86.26 446.98L86.85 447.37L87.44 447.52L88.02 447.58L88.61 447.59L89.2 447.6L89.79 447.6L90.38 447.6L90.96 447.6L91.55 447.6L92.14 447.6L92.72 447.6L93.31 447.6L93.9 447.6L94.49 447.6L95.07 447.6L95.66 447.6L96.25 447.6L96.84 447.6L97.42 447.6L98.01 447.6L98.6 447.6L99.19 447.6L99.77 447.6L100.36 447.6L100.95 447.6L101.54 447.6L102.12 447.6L102.71 447.6L103.3 447.6L103.89 447.6L104.47 447.6L105.06 447.6L105.65 447.6L106.24 447.6L106.82 447.6L107.41 447.6L108 447.6L108.59 447.6L109.17 447.6L109.76 447.6L110.35 447.6L110.94 447.6L111.53 447.6L112.11 447.6L112.7 447.6L113.29 447.6L113.88 447.6L114.46 447.6L115.05 447.6L115.64 447.6L116.22 447.6L116.81 447.6L117.4 447.6L117.99 447.6L118.57 447.6L119.16 447.6L119.75 447.6L120.34 447.6L120.92 447.6L121.51 447.6L122.1 447.6" fill="none" stroke="#2a2a2a" stroke-width="0.55" stroke-linejoin="round"/>
<text x="118.3" y="411.6" font-size="9.3" text-anchor="end" font-weight="normal" fill="#111" stroke="#111" stroke-width="0.18" >6</text>
<rect x="130.8" y="400.3" width="48" height="47.8" fill="#fff" stroke="#7c7c7c" stroke-width="0.8" />
<line x1="132.3" y1="448.1" x2="132.3" y2="449.4" stroke="#555" stroke-width="0.45" />
<line x1="132.3" y1="400.3" x2="132.3" y2="399.3" stroke="#777" stroke-width="0.35" />
<line x1="143.55" y1="448.1" x2="143.55" y2="449.4" stroke="#555" stroke-width="0.45" />
<line x1="143.55" y1="400.3" x2="143.55" y2="399.3" stroke="#777" stroke-width="0.35" />
<line x1="154.8" y1="448.1" x2="154.8" y2="449.4" stroke="#555" stroke-width="0.45" />
<line x1="154.8" y1="400.3" x2="154.8" y2="399.3" stroke="#777" stroke-width="0.35" />
<line x1="166.05" y1="448.1" x2="166.05" y2="449.4" stroke="#555" stroke-width="0.45" />
<line x1="166.05" y1="400.3" x2="166.05" y2="399.3" stroke="#777" stroke-width="0.35" />
<line x1="177.3" y1="448.1" x2="177.3" y2="449.4" stroke="#555" stroke-width="0.45" />
<line x1="177.3" y1="400.3" x2="177.3" y2="399.3" stroke="#777" stroke-width="0.35" />
<line x1="129.5" y1="447.4" x2="130.8" y2="447.4" stroke="#555" stroke-width="0.45" />
<line x1="129.5" y1="438.44" x2="130.8" y2="438.44" stroke="#555" stroke-width="0.45" />
<line x1="129.5" y1="429.48" x2="130.8" y2="429.48" stroke="#555" stroke-width="0.45" />
<line x1="129.5" y1="420.52" x2="130.8" y2="420.52" stroke="#555" stroke-width="0.45" />
<line x1="129.5" y1="411.56" x2="130.8" y2="411.56" stroke="#555" stroke-width="0.45" />
<line x1="129.5" y1="402.6" x2="130.8" y2="402.6" stroke="#555" stroke-width="0.45" />
<text x="132.3" y="452.3" font-size="2.6" text-anchor="middle" fill="#555">10<tspan font-size="1.8" dy="-0.9">0</tspan></text>
<text x="143.55" y="452.3" font-size="2.6" text-anchor="middle" fill="#555">10<tspan font-size="1.8" dy="-0.9">1</tspan></text>
<text x="154.8" y="452.3" font-size="2.6" text-anchor="middle" fill="#555">10<tspan font-size="1.8" dy="-0.9">2</tspan></text>
<text x="166.05" y="452.3" font-size="2.6" text-anchor="middle" fill="#555">10<tspan font-size="1.8" dy="-0.9">3</tspan></text>
<text x="177.3" y="452.3" font-size="2.6" text-anchor="middle" fill="#555">10<tspan font-size="1.8" dy="-0.9">4</tspan></text>
<text x="129" y="448.3" font-size="2.4" text-anchor="end" fill="#555">0</text>
<text x="129" y="439.34" font-size="2.4" text-anchor="end" fill="#555">20</text>
<text x="129" y="430.38" font-size="2.4" text-anchor="end" fill="#555">40</text>
<text x="129" y="421.42" font-size="2.4" text-anchor="end" fill="#555">60</text>
<text x="129" y="412.46" font-size="2.4" text-anchor="end" fill="#555">80</text>
<text x="129" y="403.5" font-size="2.4" text-anchor="end" fill="#555">100</text>
<path d="M131.3 438.64L131.89 444.64L132.48 441.87L133.06 437.15L133.65 431.8L134.24 422.4L134.83 414.62L135.41 409.67L136 410.1L136.59 408.71L137.18 413.53L137.76 418.82L138.35 420.5L138.94 423.75L139.53 428.3L140.11 425.24L140.7 424.87L141.29 424.25L141.88 423.48L142.46 421.15L143.05 421.69L143.64 420.59L144.23 420.56L144.81 422.58L145.4 419.51L145.99 418.12L146.58 417.72L147.16 418.92L147.75 421.21L148.34 421.21L148.93 420.54L149.51 416.94L150.1 420.17L150.69 420.44L151.28 418.92L151.86 422.32L152.45 422.3L153.04 423.67L153.62 425.98L154.21 425.09L154.8 425.39L155.39 428.93L155.98 430.01L156.56 430.76L157.15 432.95L157.74 433.05L158.33 433.79L158.91 435.85L159.5 438.06L160.09 439.81L160.68 442.58L161.26 444.02L161.85 445.48L162.44 446.39L163.03 446.98L163.61 447.31L164.2 447.48L164.79 447.55L165.38 447.58L165.96 447.59L166.55 447.6L167.14 447.6L167.73 447.6L168.31 447.6L168.9 447.6L169.49 447.6L170.08 447.6L170.66 447.6L171.25 447.6L171.84 447.6L172.43 447.6L173.01 447.6L173.6 447.6L174.19 447.6L174.78 447.6L175.36 447.6L175.95 447.6L176.54 447.6L177.12 447.6L177.71 447.6L178.3 447.6L178.3 447.6 L131.3 447.6 Z" fill="#b2bebd" stroke="#6c7a7a" stroke-width="0.5" stroke-linejoin="round"/>
<path d="M131.3 440.88L131.89 445.19L132.48 442.49L133.06 438.1L133.65 432.31L134.24 423.81L134.83 415.53L135.41 408.51L136 405.79L136.59 404.84L137.18 410.17L137.76 417.05L138.35 425.76L138.94 433.26L139.53 439.21L140.11 443.24L140.7 445.5L141.29 446.71L141.88 447.26L142.46 447.48L143.05 447.56L143.64 447.59L144.23 447.6L144.81 447.6L145.4 447.6L145.99 447.6L146.58 447.6L147.16 447.6L147.75 447.6L148.34 447.6L148.93 447.6L149.51 447.6L150.1 447.6L150.69 447.6L151.28 447.6L151.86 447.6L152.45 447.6L153.04 447.6L153.62 447.6L154.21 447.6L154.8 447.6L155.39 447.6L155.98 447.6L156.56 447.6L157.15 447.6L157.74 447.6L158.33 447.6L158.91 447.6L159.5 447.6L160.09 447.6L160.68 447.6L161.26 447.6L161.85 447.6L162.44 447.6L163.03 447.6L163.61 447.6L164.2 447.6L164.79 447.6L165.38 447.6L165.96 447.6L166.55 447.6L167.14 447.6L167.73 447.6L168.31 447.6L168.9 447.6L169.49 447.6L170.08 447.6L170.66 447.6L171.25 447.6L171.84 447.6L172.43 447.6L173.01 447.6L173.6 447.6L174.19 447.6L174.78 447.6L175.36 447.6L175.95 447.6L176.54 447.6L177.12 447.6L177.71 447.6L178.3 447.6" fill="none" stroke="#2a2a2a" stroke-width="0.55" stroke-linejoin="round"/>
<text x="174.5" y="411.6" font-size="9.3" text-anchor="end" font-weight="normal" fill="#111" stroke="#111" stroke-width="0.18" >32</text>
<rect x="187.1" y="400.3" width="48" height="47.8" fill="#fff" stroke="#7c7c7c" stroke-width="0.8" />
<line x1="188.6" y1="448.1" x2="188.6" y2="449.4" stroke="#555" stroke-width="0.45" />
<line x1="188.6" y1="400.3" x2="188.6" y2="399.3" stroke="#777" stroke-width="0.35" />
<line x1="199.85" y1="448.1" x2="199.85" y2="449.4" stroke="#555" stroke-width="0.45" />
<line x1="199.85" y1="400.3" x2="199.85" y2="399.3" stroke="#777" stroke-width="0.35" />
<line x1="211.1" y1="448.1" x2="211.1" y2="449.4" stroke="#555" stroke-width="0.45" />
<line x1="211.1" y1="400.3" x2="211.1" y2="399.3" stroke="#777" stroke-width="0.35" />
<line x1="222.35" y1="448.1" x2="222.35" y2="449.4" stroke="#555" stroke-width="0.45" />
<line x1="222.35" y1="400.3" x2="222.35" y2="399.3" stroke="#777" stroke-width="0.35" />
<line x1="233.6" y1="448.1" x2="233.6" y2="449.4" stroke="#555" stroke-width="0.45" />
<line x1="233.6" y1="400.3" x2="233.6" y2="399.3" stroke="#777" stroke-width="0.35" />
<line x1="185.8" y1="447.4" x2="187.1" y2="447.4" stroke="#555" stroke-width="0.45" />
<line x1="185.8" y1="438.44" x2="187.1" y2="438.44" stroke="#555" stroke-width="0.45" />
<line x1="185.8" y1="429.48" x2="187.1" y2="429.48" stroke="#555" stroke-width="0.45" />
<line x1="185.8" y1="420.52" x2="187.1" y2="420.52" stroke="#555" stroke-width="0.45" />
<line x1="185.8" y1="411.56" x2="187.1" y2="411.56" stroke="#555" stroke-width="0.45" />
<line x1="185.8" y1="402.6" x2="187.1" y2="402.6" stroke="#555" stroke-width="0.45" />
<text x="188.6" y="452.3" font-size="2.6" text-anchor="middle" fill="#555">10<tspan font-size="1.8" dy="-0.9">0</tspan></text>
<text x="199.85" y="452.3" font-size="2.6" text-anchor="middle" fill="#555">10<tspan font-size="1.8" dy="-0.9">1</tspan></text>
<text x="211.1" y="452.3" font-size="2.6" text-anchor="middle" fill="#555">10<tspan font-size="1.8" dy="-0.9">2</tspan></text>
<text x="222.35" y="452.3" font-size="2.6" text-anchor="middle" fill="#555">10<tspan font-size="1.8" dy="-0.9">3</tspan></text>
<text x="233.6" y="452.3" font-size="2.6" text-anchor="middle" fill="#555">10<tspan font-size="1.8" dy="-0.9">4</tspan></text>
<text x="185.3" y="448.3" font-size="2.4" text-anchor="end" fill="#555">0</text>
<text x="185.3" y="439.34" font-size="2.4" text-anchor="end" fill="#555">20</text>
<text x="185.3" y="430.38" font-size="2.4" text-anchor="end" fill="#555">40</text>
<text x="185.3" y="421.42" font-size="2.4" text-anchor="end" fill="#555">60</text>
<text x="185.3" y="412.46" font-size="2.4" text-anchor="end" fill="#555">80</text>
<text x="185.3" y="403.5" font-size="2.4" text-anchor="end" fill="#555">100</text>
<path d="M187.6 438.64L188.19 447.6L188.78 447.59L189.36 447.56L189.95 447.5L190.54 447.37L191.12 447.12L191.71 446.72L192.3 446.2L192.89 445.61L193.47 445.04L194.06 444.93L194.65 445.02L195.24 445.39L195.82 446.01L196.41 446.52L197 446.97L197.59 447.27L198.17 447.43L198.76 447.5L199.35 447.52L199.94 447.49L200.53 447.44L201.11 447.37L201.7 447.26L202.29 447.11L202.88 446.91L203.46 446.65L204.05 446.33L204.64 445.93L205.22 445.42L205.81 444.8L206.4 444.35L206.99 443.53L207.57 442.79L208.16 441.4L208.75 440.29L209.34 439.47L209.92 436.98L210.51 434.97L211.1 433L211.69 430.27L212.28 427.98L212.86 424.84L213.45 419.71L214.04 417.17L214.62 412.98L215.21 409.38L215.8 407.54L216.39 403.88L216.97 403.47L217.56 403.47L218.15 405.4L218.74 407.88L219.32 412.26L219.91 416.18L220.5 421.48L221.09 426.51L221.67 429.56L222.26 433.67L222.85 437.32L223.44 440.24L224.03 442.63L224.61 444.24L225.2 445.37L225.79 446.21L226.38 446.7L226.96 447.06L227.55 447.29L228.14 447.42L228.72 447.5L229.31 447.55L229.9 447.57L230.49 447.59L231.07 447.59L231.66 447.6L232.25 447.6L232.84 447.6L233.42 447.6L234.01 447.6L234.6 447.6L234.6 447.6 L187.6 447.6 Z" fill="#cbd6d5" stroke="#6c7a7a" stroke-width="0.5" stroke-linejoin="round"/>
<path d="M187.6 440.88L188.19 436.64L188.78 431.33L189.36 424.3L189.95 417.55L190.54 411.09L191.12 404.86L191.71 403.47L192.3 403.47L192.89 403.47L193.47 405.82L194.06 409L194.65 413.15L195.24 416.66L195.82 422.06L196.41 426.09L197 431.4L197.59 435.84L198.17 439.62L198.76 442.66L199.35 444.82L199.94 446.15L200.53 446.91L201.11 447.3L201.7 447.48L202.29 447.56L202.88 447.59L203.46 447.6L204.05 447.6L204.64 447.6L205.22 447.6L205.81 447.6L206.4 447.6L206.99 447.6L207.57 447.6L208.16 447.6L208.75 447.6L209.34 447.6L209.92 447.6L210.51 447.6L211.1 447.6L211.69 447.6L212.28 447.6L212.86 447.6L213.45 447.6L214.04 447.6L214.62 447.6L215.21 447.6L215.8 447.6L216.39 447.6L216.97 447.6L217.56 447.6L218.15 447.6L218.74 447.6L219.32 447.6L219.91 447.6L220.5 447.6L221.09 447.6L221.67 447.6L222.26 447.6L222.85 447.6L223.44 447.6L224.03 447.6L224.61 447.6L225.2 447.6L225.79 447.6L226.38 447.6L226.96 447.6L227.55 447.6L228.14 447.6L228.72 447.6L229.31 447.6L229.9 447.6L230.49 447.6L231.07 447.6L231.66 447.6L232.25 447.6L232.84 447.6L233.42 447.6L234.01 447.6L234.6 447.6" fill="none" stroke="#2a2a2a" stroke-width="0.55" stroke-linejoin="round"/>
<text x="197.5" y="411.6" font-size="9.3" text-anchor="start" font-weight="normal" fill="#111" stroke="#111" stroke-width="0.18" >324</text>
<rect x="243.3" y="400.3" width="48" height="47.8" fill="#fff" stroke="#7c7c7c" stroke-width="0.8" />
<line x1="244.8" y1="448.1" x2="244.8" y2="449.4" stroke="#555" stroke-width="0.45" />
<line x1="244.8" y1="400.3" x2="244.8" y2="399.3" stroke="#777" stroke-width="0.35" />
<line x1="256.05" y1="448.1" x2="256.05" y2="449.4" stroke="#555" stroke-width="0.45" />
<line x1="256.05" y1="400.3" x2="256.05" y2="399.3" stroke="#777" stroke-width="0.35" />
<line x1="267.3" y1="448.1" x2="267.3" y2="449.4" stroke="#555" stroke-width="0.45" />
<line x1="267.3" y1="400.3" x2="267.3" y2="399.3" stroke="#777" stroke-width="0.35" />
<line x1="278.55" y1="448.1" x2="278.55" y2="449.4" stroke="#555" stroke-width="0.45" />
<line x1="278.55" y1="400.3" x2="278.55" y2="399.3" stroke="#777" stroke-width="0.35" />
<line x1="289.8" y1="448.1" x2="289.8" y2="449.4" stroke="#555" stroke-width="0.45" />
<line x1="289.8" y1="400.3" x2="289.8" y2="399.3" stroke="#777" stroke-width="0.35" />
<line x1="242" y1="447.4" x2="243.3" y2="447.4" stroke="#555" stroke-width="0.45" />
<line x1="242" y1="438.44" x2="243.3" y2="438.44" stroke="#555" stroke-width="0.45" />
<line x1="242" y1="429.48" x2="243.3" y2="429.48" stroke="#555" stroke-width="0.45" />
<line x1="242" y1="420.52" x2="243.3" y2="420.52" stroke="#555" stroke-width="0.45" />
<line x1="242" y1="411.56" x2="243.3" y2="411.56" stroke="#555" stroke-width="0.45" />
<line x1="242" y1="402.6" x2="243.3" y2="402.6" stroke="#555" stroke-width="0.45" />
<text x="244.8" y="452.3" font-size="2.6" text-anchor="middle" fill="#555">10<tspan font-size="1.8" dy="-0.9">0</tspan></text>
<text x="256.05" y="452.3" font-size="2.6" text-anchor="middle" fill="#555">10<tspan font-size="1.8" dy="-0.9">1</tspan></text>
<text x="267.3" y="452.3" font-size="2.6" text-anchor="middle" fill="#555">10<tspan font-size="1.8" dy="-0.9">2</tspan></text>
<text x="278.55" y="452.3" font-size="2.6" text-anchor="middle" fill="#555">10<tspan font-size="1.8" dy="-0.9">3</tspan></text>
<text x="289.8" y="452.3" font-size="2.6" text-anchor="middle" fill="#555">10<tspan font-size="1.8" dy="-0.9">4</tspan></text>
<text x="241.5" y="448.3" font-size="2.4" text-anchor="end" fill="#555">0</text>
<text x="241.5" y="439.34" font-size="2.4" text-anchor="end" fill="#555">20</text>
<text x="241.5" y="430.38" font-size="2.4" text-anchor="end" fill="#555">40</text>
<text x="241.5" y="421.42" font-size="2.4" text-anchor="end" fill="#555">60</text>
<text x="241.5" y="412.46" font-size="2.4" text-anchor="end" fill="#555">80</text>
<text x="241.5" y="403.5" font-size="2.4" text-anchor="end" fill="#555">100</text>
<path d="M243.8 438.64L244.39 447.6L244.98 447.59L245.56 447.55L246.15 447.44L246.74 447.13L247.33 446.45L247.91 445.25L248.5 443.54L249.09 441.82L249.68 441.08L250.26 441.16L250.85 441.84L251.44 443.15L252.03 443.81L252.61 443.87L253.2 442.91L253.79 440.97L254.38 438.06L254.96 435.1L255.55 430.56L256.14 426.63L256.73 420.22L257.31 418.36L257.9 412.31L258.49 412.25L259.07 408.14L259.66 408.44L260.25 407.47L260.84 404.94L261.43 407.31L262.01 405.68L262.6 403.47L263.19 403.47L263.78 403.47L264.36 403.47L264.95 403.47L265.54 408.53L266.12 412.7L266.71 419.74L267.3 425.48L267.89 430.75L268.48 436.35L269.06 439.75L269.65 443L270.24 444.96L270.82 447.27L271.41 447.6L272 447.6L272.59 447.6L273.18 447.6L273.76 447.6L274.35 447.6L274.94 447.6L275.53 447.6L276.11 447.6L276.7 447.6L277.29 447.6L277.88 447.6L278.46 447.6L279.05 447.6L279.64 447.6L280.23 447.6L280.81 447.6L281.4 447.6L281.99 447.6L282.57 447.6L283.16 447.6L283.75 447.6L284.34 447.6L284.93 447.6L285.51 447.6L286.1 447.6L286.69 447.6L287.28 447.6L287.86 447.6L288.45 447.6L289.04 447.6L289.62 447.6L290.21 447.6L290.8 447.6L290.8 447.6 L243.8 447.6 Z" fill="#cbd6d5" stroke="#6c7a7a" stroke-width="0.5" stroke-linejoin="round"/>
<path d="M243.8 440.88L244.39 446.45L244.98 444.79L245.56 441.53L246.15 435.95L246.74 428.48L247.33 419.42L247.91 410.46L248.5 405.46L249.09 405.36L249.68 410.03L250.26 418.32L250.85 427.56L251.44 435.21L252.03 440.91L252.61 444.48L253.2 446.31L253.79 447.13L254.38 447.45L254.96 447.56L255.55 447.59L256.14 447.6L256.73 447.6L257.31 447.6L257.9 447.6L258.49 447.6L259.07 447.6L259.66 447.6L260.25 447.6L260.84 447.6L261.43 447.6L262.01 447.6L262.6 447.6L263.19 447.6L263.78 447.6L264.36 447.6L264.95 447.6L265.54 447.6L266.12 447.6L266.71 447.6L267.3 447.6L267.89 447.6L268.48 447.6L269.06 447.6L269.65 447.6L270.24 447.6L270.82 447.6L271.41 447.6L272 447.6L272.59 447.6L273.18 447.6L273.76 447.6L274.35 447.6L274.94 447.6L275.53 447.6L276.11 447.6L276.7 447.6L277.29 447.6L277.88 447.6L278.46 447.6L279.05 447.6L279.64 447.6L280.23 447.6L280.81 447.6L281.4 447.6L281.99 447.6L282.57 447.6L283.16 447.6L283.75 447.6L284.34 447.6L284.93 447.6L285.51 447.6L286.1 447.6L286.69 447.6L287.28 447.6L287.86 447.6L288.45 447.6L289.04 447.6L289.62 447.6L290.21 447.6L290.8 447.6" fill="none" stroke="#2a2a2a" stroke-width="0.55" stroke-linejoin="round"/>
<text x="287" y="411.6" font-size="9.3" text-anchor="end" font-weight="normal" fill="#111" stroke="#111" stroke-width="0.18" >43</text>
<rect x="299.4" y="400.3" width="48" height="47.8" fill="#fff" stroke="#7c7c7c" stroke-width="0.8" />
<line x1="300.9" y1="448.1" x2="300.9" y2="449.4" stroke="#555" stroke-width="0.45" />
<line x1="300.9" y1="400.3" x2="300.9" y2="399.3" stroke="#777" stroke-width="0.35" />
<line x1="312.15" y1="448.1" x2="312.15" y2="449.4" stroke="#555" stroke-width="0.45" />
<line x1="312.15" y1="400.3" x2="312.15" y2="399.3" stroke="#777" stroke-width="0.35" />
<line x1="323.4" y1="448.1" x2="323.4" y2="449.4" stroke="#555" stroke-width="0.45" />
<line x1="323.4" y1="400.3" x2="323.4" y2="399.3" stroke="#777" stroke-width="0.35" />
<line x1="334.65" y1="448.1" x2="334.65" y2="449.4" stroke="#555" stroke-width="0.45" />
<line x1="334.65" y1="400.3" x2="334.65" y2="399.3" stroke="#777" stroke-width="0.35" />
<line x1="345.9" y1="448.1" x2="345.9" y2="449.4" stroke="#555" stroke-width="0.45" />
<line x1="345.9" y1="400.3" x2="345.9" y2="399.3" stroke="#777" stroke-width="0.35" />
<line x1="298.1" y1="447.4" x2="299.4" y2="447.4" stroke="#555" stroke-width="0.45" />
<line x1="298.1" y1="438.44" x2="299.4" y2="438.44" stroke="#555" stroke-width="0.45" />
<line x1="298.1" y1="429.48" x2="299.4" y2="429.48" stroke="#555" stroke-width="0.45" />
<line x1="298.1" y1="420.52" x2="299.4" y2="420.52" stroke="#555" stroke-width="0.45" />
<line x1="298.1" y1="411.56" x2="299.4" y2="411.56" stroke="#555" stroke-width="0.45" />
<line x1="298.1" y1="402.6" x2="299.4" y2="402.6" stroke="#555" stroke-width="0.45" />
<text x="300.9" y="452.3" font-size="2.6" text-anchor="middle" fill="#555">10<tspan font-size="1.8" dy="-0.9">0</tspan></text>
<text x="312.15" y="452.3" font-size="2.6" text-anchor="middle" fill="#555">10<tspan font-size="1.8" dy="-0.9">1</tspan></text>
<text x="323.4" y="452.3" font-size="2.6" text-anchor="middle" fill="#555">10<tspan font-size="1.8" dy="-0.9">2</tspan></text>
<text x="334.65" y="452.3" font-size="2.6" text-anchor="middle" fill="#555">10<tspan font-size="1.8" dy="-0.9">3</tspan></text>
<text x="345.9" y="452.3" font-size="2.6" text-anchor="middle" fill="#555">10<tspan font-size="1.8" dy="-0.9">4</tspan></text>
<text x="297.6" y="448.3" font-size="2.4" text-anchor="end" fill="#555">0</text>
<text x="297.6" y="439.34" font-size="2.4" text-anchor="end" fill="#555">20</text>
<text x="297.6" y="430.38" font-size="2.4" text-anchor="end" fill="#555">40</text>
<text x="297.6" y="421.42" font-size="2.4" text-anchor="end" fill="#555">60</text>
<text x="297.6" y="412.46" font-size="2.4" text-anchor="end" fill="#555">80</text>
<text x="297.6" y="403.5" font-size="2.4" text-anchor="end" fill="#555">100</text>
<path d="M299.9 438.64L300.49 439.36L301.07 435.89L301.66 431.55L302.25 430.15L302.84 427.06L303.42 425.37L304.01 423.81L304.6 420.65L305.19 423.38L305.77 420.43L306.36 420.6L306.95 417.77L307.54 414.06L308.12 408.34L308.71 407.87L309.3 411.34L309.89 408.59L310.47 409.07L311.06 403.47L311.65 403.47L312.24 403.47L312.82 403.47L313.41 403.47L314 403.47L314.59 403.47L315.17 404.3L315.76 403.47L316.35 408.58L316.94 409.44L317.52 413.27L318.11 416.33L318.7 418.91L319.29 420.92L319.88 424.16L320.46 427.79L321.05 427.88L321.64 430.89L322.22 433.06L322.81 436.15L323.4 438.43L323.99 439.91L324.57 442.26L325.16 443.08L325.75 444.47L326.34 445.56L326.92 446.26L327.51 446.73L328.1 447.1L328.69 447.33L329.27 447.47L329.86 447.54L330.45 447.57L331.04 447.59L331.62 447.6L332.21 447.6L332.8 447.6L333.39 447.6L333.97 447.6L334.56 447.6L335.15 447.6L335.74 447.6L336.32 447.6L336.91 447.6L337.5 447.6L338.09 447.6L338.67 447.6L339.26 447.6L339.85 447.6L340.44 447.6L341.02 447.6L341.61 447.6L342.2 447.6L342.79 447.6L343.38 447.6L343.96 447.6L344.55 447.6L345.14 447.6L345.72 447.6L346.31 447.6L346.9 447.6L346.9 447.6 L299.9 447.6 Z" fill="#bec9c8" stroke="#6c7a7a" stroke-width="0.5" stroke-linejoin="round"/>
<path d="M299.9 440.88L300.49 440.16L301.07 435.36L301.66 429.97L302.25 423L302.84 415.33L303.42 409.62L304.01 404.68L304.6 403.47L305.19 403.47L305.77 405.57L306.36 411.81L306.95 417.54L307.54 422.7L308.12 427.5L308.71 431.17L309.3 434.34L309.89 436.41L310.47 438.33L311.06 439.82L311.65 441.24L312.24 442.42L312.82 443.61L313.41 444.64L314 445.48L314.59 446.2L315.17 446.69L315.76 447.03L316.35 447.27L316.94 447.41L317.52 447.5L318.11 447.55L318.7 447.57L319.29 447.59L319.88 447.59L320.46 447.6L321.05 447.6L321.64 447.6L322.22 447.6L322.81 447.6L323.4 447.6L323.99 447.6L324.57 447.6L325.16 447.6L325.75 447.6L326.34 447.6L326.92 447.6L327.51 447.6L328.1 447.6L328.69 447.6L329.27 447.6L329.86 447.6L330.45 447.6L331.04 447.6L331.62 447.6L332.21 447.6L332.8 447.6L333.39 447.6L333.97 447.6L334.56 447.6L335.15 447.6L335.74 447.6L336.32 447.6L336.91 447.6L337.5 447.6L338.09 447.6L338.67 447.6L339.26 447.6L339.85 447.6L340.44 447.6L341.02 447.6L341.61 447.6L342.2 447.6L342.79 447.6L343.38 447.6L343.96 447.6L344.55 447.6L345.14 447.6L345.72 447.6L346.31 447.6L346.9 447.6" fill="none" stroke="#2a2a2a" stroke-width="0.55" stroke-linejoin="round"/>
<text x="343.1" y="411.6" font-size="9.3" text-anchor="end" font-weight="normal" fill="#111" stroke="#111" stroke-width="0.18" >17</text>
<rect x="355.5" y="400.3" width="48" height="47.8" fill="#fff" stroke="#7c7c7c" stroke-width="0.8" />
<line x1="357" y1="448.1" x2="357" y2="449.4" stroke="#555" stroke-width="0.45" />
<line x1="357" y1="400.3" x2="357" y2="399.3" stroke="#777" stroke-width="0.35" />
<line x1="368.25" y1="448.1" x2="368.25" y2="449.4" stroke="#555" stroke-width="0.45" />
<line x1="368.25" y1="400.3" x2="368.25" y2="399.3" stroke="#777" stroke-width="0.35" />
<line x1="379.5" y1="448.1" x2="379.5" y2="449.4" stroke="#555" stroke-width="0.45" />
<line x1="379.5" y1="400.3" x2="379.5" y2="399.3" stroke="#777" stroke-width="0.35" />
<line x1="390.75" y1="448.1" x2="390.75" y2="449.4" stroke="#555" stroke-width="0.45" />
<line x1="390.75" y1="400.3" x2="390.75" y2="399.3" stroke="#777" stroke-width="0.35" />
<line x1="402" y1="448.1" x2="402" y2="449.4" stroke="#555" stroke-width="0.45" />
<line x1="402" y1="400.3" x2="402" y2="399.3" stroke="#777" stroke-width="0.35" />
<line x1="354.2" y1="447.4" x2="355.5" y2="447.4" stroke="#555" stroke-width="0.45" />
<line x1="354.2" y1="438.44" x2="355.5" y2="438.44" stroke="#555" stroke-width="0.45" />
<line x1="354.2" y1="429.48" x2="355.5" y2="429.48" stroke="#555" stroke-width="0.45" />
<line x1="354.2" y1="420.52" x2="355.5" y2="420.52" stroke="#555" stroke-width="0.45" />
<line x1="354.2" y1="411.56" x2="355.5" y2="411.56" stroke="#555" stroke-width="0.45" />
<line x1="354.2" y1="402.6" x2="355.5" y2="402.6" stroke="#555" stroke-width="0.45" />
<text x="357" y="452.3" font-size="2.6" text-anchor="middle" fill="#555">10<tspan font-size="1.8" dy="-0.9">0</tspan></text>
<text x="368.25" y="452.3" font-size="2.6" text-anchor="middle" fill="#555">10<tspan font-size="1.8" dy="-0.9">1</tspan></text>
<text x="379.5" y="452.3" font-size="2.6" text-anchor="middle" fill="#555">10<tspan font-size="1.8" dy="-0.9">2</tspan></text>
<text x="390.75" y="452.3" font-size="2.6" text-anchor="middle" fill="#555">10<tspan font-size="1.8" dy="-0.9">3</tspan></text>
<text x="402" y="452.3" font-size="2.6" text-anchor="middle" fill="#555">10<tspan font-size="1.8" dy="-0.9">4</tspan></text>
<text x="353.7" y="448.3" font-size="2.4" text-anchor="end" fill="#555">0</text>
<text x="353.7" y="439.34" font-size="2.4" text-anchor="end" fill="#555">20</text>
<text x="353.7" y="430.38" font-size="2.4" text-anchor="end" fill="#555">40</text>
<text x="353.7" y="421.42" font-size="2.4" text-anchor="end" fill="#555">60</text>
<text x="353.7" y="412.46" font-size="2.4" text-anchor="end" fill="#555">80</text>
<text x="353.7" y="403.5" font-size="2.4" text-anchor="end" fill="#555">100</text>
<path d="M356 438.64L356.59 447.59L357.18 447.57L357.76 447.55L358.35 447.52L358.94 447.46L359.52 447.37L360.11 447.25L360.7 447.08L361.29 446.87L361.88 446.61L362.46 446.33L363.05 446.11L363.64 445.72L364.23 445.5L364.81 445.25L365.4 445.35L365.99 445.35L366.57 445.28L367.16 445.38L367.75 445.51L368.34 445.36L368.93 445.22L369.51 444.63L370.1 444.1L370.69 442.92L371.27 440.82L371.86 439.16L372.45 436.71L373.04 432.73L373.62 429.38L374.21 426.62L374.8 421.35L375.39 416.63L375.98 414.42L376.56 408.39L377.15 407.46L377.74 403.47L378.32 403.47L378.91 403.47L379.5 403.47L380.09 403.47L380.68 403.47L381.26 403.47L381.85 403.47L382.44 403.47L383.02 403.47L383.61 403.47L384.2 403.47L384.79 404.09L385.38 409.54L385.96 413.45L386.55 414.26L387.14 419.8L387.73 424.87L388.31 428.12L388.9 432.27L389.49 434.62L390.07 437.95L390.66 440.7L391.25 442.1L391.84 444.02L392.43 445.05L393.01 445.94L393.6 446.44L394.19 446.86L394.77 447.14L395.36 447.32L395.95 447.43L396.54 447.5L397.12 447.55L397.71 447.57L398.3 447.58L398.89 447.59L399.48 447.6L400.06 447.6L400.65 447.6L401.24 447.6L401.82 447.6L402.41 447.6L403 447.6L403 447.6 L356 447.6 Z" fill="#b2bebd" stroke="#6c7a7a" stroke-width="0.5" stroke-linejoin="round"/>
<path d="M356 440.88L356.59 447.44L357.18 447.11L357.76 446.27L358.35 444.4L358.94 440.89L359.52 434.79L360.11 426.95L360.7 418.24L361.29 409.24L361.88 405.75L362.46 406.06L363.05 411.66L363.64 419.44L364.23 428.43L364.81 436.31L365.4 441.78L365.99 444.85L366.57 446.5L367.16 447.2L367.75 447.48L368.34 447.57L368.93 447.59L369.51 447.6L370.1 447.6L370.69 447.6L371.27 447.6L371.86 447.6L372.45 447.6L373.04 447.6L373.62 447.6L374.21 447.6L374.8 447.6L375.39 447.6L375.98 447.6L376.56 447.6L377.15 447.6L377.74 447.6L378.32 447.6L378.91 447.6L379.5 447.6L380.09 447.6L380.68 447.6L381.26 447.6L381.85 447.6L382.44 447.6L383.02 447.6L383.61 447.6L384.2 447.6L384.79 447.6L385.38 447.6L385.96 447.6L386.55 447.6L387.14 447.6L387.73 447.6L388.31 447.6L388.9 447.6L389.49 447.6L390.07 447.6L390.66 447.6L391.25 447.6L391.84 447.6L392.43 447.6L393.01 447.6L393.6 447.6L394.19 447.6L394.77 447.6L395.36 447.6L395.95 447.6L396.54 447.6L397.12 447.6L397.71 447.6L398.3 447.6L398.89 447.6L399.48 447.6L400.06 447.6L400.65 447.6L401.24 447.6L401.82 447.6L402.41 447.6L403 447.6" fill="none" stroke="#2a2a2a" stroke-width="0.55" stroke-linejoin="round"/>
<text x="399.2" y="411.6" font-size="9.3" text-anchor="end" font-weight="normal" fill="#111" stroke="#111" stroke-width="0.18" >157</text>
<rect x="411.7" y="400.3" width="48" height="47.8" fill="#fff" stroke="#7c7c7c" stroke-width="0.8" />
<line x1="413.2" y1="448.1" x2="413.2" y2="449.4" stroke="#555" stroke-width="0.45" />
<line x1="413.2" y1="400.3" x2="413.2" y2="399.3" stroke="#777" stroke-width="0.35" />
<line x1="424.45" y1="448.1" x2="424.45" y2="449.4" stroke="#555" stroke-width="0.45" />
<line x1="424.45" y1="400.3" x2="424.45" y2="399.3" stroke="#777" stroke-width="0.35" />
<line x1="435.7" y1="448.1" x2="435.7" y2="449.4" stroke="#555" stroke-width="0.45" />
<line x1="435.7" y1="400.3" x2="435.7" y2="399.3" stroke="#777" stroke-width="0.35" />
<line x1="446.95" y1="448.1" x2="446.95" y2="449.4" stroke="#555" stroke-width="0.45" />
<line x1="446.95" y1="400.3" x2="446.95" y2="399.3" stroke="#777" stroke-width="0.35" />
<line x1="458.2" y1="448.1" x2="458.2" y2="449.4" stroke="#555" stroke-width="0.45" />
<line x1="458.2" y1="400.3" x2="458.2" y2="399.3" stroke="#777" stroke-width="0.35" />
<line x1="410.4" y1="447.4" x2="411.7" y2="447.4" stroke="#555" stroke-width="0.45" />
<line x1="410.4" y1="438.44" x2="411.7" y2="438.44" stroke="#555" stroke-width="0.45" />
<line x1="410.4" y1="429.48" x2="411.7" y2="429.48" stroke="#555" stroke-width="0.45" />
<line x1="410.4" y1="420.52" x2="411.7" y2="420.52" stroke="#555" stroke-width="0.45" />
<line x1="410.4" y1="411.56" x2="411.7" y2="411.56" stroke="#555" stroke-width="0.45" />
<line x1="410.4" y1="402.6" x2="411.7" y2="402.6" stroke="#555" stroke-width="0.45" />
<text x="413.2" y="452.3" font-size="2.6" text-anchor="middle" fill="#555">10<tspan font-size="1.8" dy="-0.9">0</tspan></text>
<text x="424.45" y="452.3" font-size="2.6" text-anchor="middle" fill="#555">10<tspan font-size="1.8" dy="-0.9">1</tspan></text>
<text x="435.7" y="452.3" font-size="2.6" text-anchor="middle" fill="#555">10<tspan font-size="1.8" dy="-0.9">2</tspan></text>
<text x="446.95" y="452.3" font-size="2.6" text-anchor="middle" fill="#555">10<tspan font-size="1.8" dy="-0.9">3</tspan></text>
<text x="458.2" y="452.3" font-size="2.6" text-anchor="middle" fill="#555">10<tspan font-size="1.8" dy="-0.9">4</tspan></text>
<text x="409.9" y="448.3" font-size="2.4" text-anchor="end" fill="#555">0</text>
<text x="409.9" y="439.34" font-size="2.4" text-anchor="end" fill="#555">20</text>
<text x="409.9" y="430.38" font-size="2.4" text-anchor="end" fill="#555">40</text>
<text x="409.9" y="421.42" font-size="2.4" text-anchor="end" fill="#555">60</text>
<text x="409.9" y="412.46" font-size="2.4" text-anchor="end" fill="#555">80</text>
<text x="409.9" y="403.5" font-size="2.4" text-anchor="end" fill="#555">100</text>
<path d="M412.2 435.76L412.79 434.95L413.38 429.81L413.96 429.61L414.55 424.86L415.14 428.49L415.72 425.18L416.31 426.7L416.9 426.56L417.49 426L418.07 428.28L418.66 426.45L419.25 422.69L419.84 422.45L420.43 420.15L421.01 417.95L421.6 411.32L422.19 408.49L422.77 406.37L423.36 408.51L423.95 403.47L424.54 403.47L425.12 404.18L425.71 403.47L426.3 404.83L426.89 410.69L427.47 410.95L428.06 416.87L428.65 420.1L429.24 422.52L429.82 427.38L430.41 431.29L431 432.82L431.59 435.6L432.18 439.52L432.76 441.59L433.35 444.51L433.94 445.83L434.52 446.64L435.11 447.16L435.7 447.42L436.29 447.53L436.88 447.58L437.46 447.59L438.05 447.6L438.64 447.6L439.22 447.6L439.81 447.6L440.4 447.6L440.99 447.6L441.57 447.6L442.16 447.6L442.75 447.6L443.34 447.6L443.93 447.6L444.51 447.6L445.1 447.6L445.69 447.6L446.27 447.6L446.86 447.6L447.45 447.6L448.04 447.6L448.62 447.6L449.21 447.6L449.8 447.6L450.39 447.6L450.97 447.6L451.56 447.6L452.15 447.6L452.74 447.6L453.32 447.6L453.91 447.6L454.5 447.6L455.09 447.6L455.68 447.6L456.26 447.6L456.85 447.6L457.44 447.6L458.02 447.6L458.61 447.6L459.2 447.6L459.2 447.6 L412.2 447.6 Z" fill="#cbd6d5" stroke="#6c7a7a" stroke-width="0.5" stroke-linejoin="round"/>
<path d="M412.2 440.52L412.79 436.73L413.38 432.06L413.96 425.97L414.55 420.69L415.14 413.48L415.72 408.67L416.31 404.9L416.9 403.47L417.49 405.13L418.07 406.8L418.66 411.25L419.25 416.84L419.84 421.09L420.43 426.23L421.01 430.15L421.6 434.03L422.19 436.65L422.77 439.37L423.36 441.41L423.95 443.13L424.54 444.53L425.12 445.56L425.71 446.35L426.3 446.88L426.89 447.21L427.47 447.41L428.06 447.51L428.65 447.56L429.24 447.58L429.82 447.59L430.41 447.6L431 447.6L431.59 447.6L432.18 447.6L432.76 447.6L433.35 447.6L433.94 447.6L434.52 447.6L435.11 447.6L435.7 447.6L436.29 447.6L436.88 447.6L437.46 447.6L438.05 447.6L438.64 447.6L439.22 447.6L439.81 447.6L440.4 447.6L440.99 447.6L441.57 447.6L442.16 447.6L442.75 447.6L443.34 447.6L443.93 447.6L444.51 447.6L445.1 447.6L445.69 447.6L446.27 447.6L446.86 447.6L447.45 447.6L448.04 447.6L448.62 447.6L449.21 447.6L449.8 447.6L450.39 447.6L450.97 447.6L451.56 447.6L452.15 447.6L452.74 447.6L453.32 447.6L453.91 447.6L454.5 447.6L455.09 447.6L455.68 447.6L456.26 447.6L456.85 447.6L457.44 447.6L458.02 447.6L458.61 447.6L459.2 447.6" fill="none" stroke="#2a2a2a" stroke-width="0.55" stroke-linejoin="round"/>
<text x="455.4" y="411.6" font-size="9.3" text-anchor="end" font-weight="normal" fill="#111" stroke="#111" stroke-width="0.18" >8</text>
<rect x="468" y="400.3" width="48" height="47.8" fill="#fff" stroke="#7c7c7c" stroke-width="0.8" />
<line x1="469.5" y1="448.1" x2="469.5" y2="449.4" stroke="#555" stroke-width="0.45" />
<line x1="469.5" y1="400.3" x2="469.5" y2="399.3" stroke="#777" stroke-width="0.35" />
<line x1="480.75" y1="448.1" x2="480.75" y2="449.4" stroke="#555" stroke-width="0.45" />
<line x1="480.75" y1="400.3" x2="480.75" y2="399.3" stroke="#777" stroke-width="0.35" />
<line x1="492" y1="448.1" x2="492" y2="449.4" stroke="#555" stroke-width="0.45" />
<line x1="492" y1="400.3" x2="492" y2="399.3" stroke="#777" stroke-width="0.35" />
<line x1="503.25" y1="448.1" x2="503.25" y2="449.4" stroke="#555" stroke-width="0.45" />
<line x1="503.25" y1="400.3" x2="503.25" y2="399.3" stroke="#777" stroke-width="0.35" />
<line x1="514.5" y1="448.1" x2="514.5" y2="449.4" stroke="#555" stroke-width="0.45" />
<line x1="514.5" y1="400.3" x2="514.5" y2="399.3" stroke="#777" stroke-width="0.35" />
<line x1="466.7" y1="447.4" x2="468" y2="447.4" stroke="#555" stroke-width="0.45" />
<line x1="466.7" y1="438.44" x2="468" y2="438.44" stroke="#555" stroke-width="0.45" />
<line x1="466.7" y1="429.48" x2="468" y2="429.48" stroke="#555" stroke-width="0.45" />
<line x1="466.7" y1="420.52" x2="468" y2="420.52" stroke="#555" stroke-width="0.45" />
<line x1="466.7" y1="411.56" x2="468" y2="411.56" stroke="#555" stroke-width="0.45" />
<line x1="466.7" y1="402.6" x2="468" y2="402.6" stroke="#555" stroke-width="0.45" />
<text x="469.5" y="452.3" font-size="2.6" text-anchor="middle" fill="#555">10<tspan font-size="1.8" dy="-0.9">0</tspan></text>
<text x="480.75" y="452.3" font-size="2.6" text-anchor="middle" fill="#555">10<tspan font-size="1.8" dy="-0.9">1</tspan></text>
<text x="492" y="452.3" font-size="2.6" text-anchor="middle" fill="#555">10<tspan font-size="1.8" dy="-0.9">2</tspan></text>
<text x="503.25" y="452.3" font-size="2.6" text-anchor="middle" fill="#555">10<tspan font-size="1.8" dy="-0.9">3</tspan></text>
<text x="514.5" y="452.3" font-size="2.6" text-anchor="middle" fill="#555">10<tspan font-size="1.8" dy="-0.9">4</tspan></text>
<text x="466.2" y="448.3" font-size="2.4" text-anchor="end" fill="#555">0</text>
<text x="466.2" y="439.34" font-size="2.4" text-anchor="end" fill="#555">20</text>
<text x="466.2" y="430.38" font-size="2.4" text-anchor="end" fill="#555">40</text>
<text x="466.2" y="421.42" font-size="2.4" text-anchor="end" fill="#555">60</text>
<text x="466.2" y="412.46" font-size="2.4" text-anchor="end" fill="#555">80</text>
<text x="466.2" y="403.5" font-size="2.4" text-anchor="end" fill="#555">100</text>
<path d="M468.5 438.64L469.09 442.81L469.68 439.58L470.26 435.02L470.85 429.26L471.44 422.37L472.02 416.05L472.61 409.62L473.2 406.57L473.79 404.59L474.38 405.78L474.96 409.7L475.55 414.08L476.14 420.49L476.73 425.67L477.31 430.44L477.9 434.66L478.49 437.16L479.07 439.22L479.66 440.74L480.25 442.03L480.84 442.89L481.43 443.7L482.01 444.5L482.6 445.18L483.19 445.75L483.77 446.24L484.36 446.61L484.95 446.91L485.54 447.14L486.12 447.3L486.71 447.41L487.3 447.48L487.89 447.53L488.48 447.56L489.06 447.58L489.65 447.59L490.24 447.59L490.82 447.6L491.41 447.6L492 447.6L492.59 447.6L493.18 447.6L493.76 447.6L494.35 447.6L494.94 447.6L495.52 447.6L496.11 447.6L496.7 447.6L497.29 447.6L497.88 447.6L498.46 447.6L499.05 447.6L499.64 447.6L500.23 447.6L500.81 447.6L501.4 447.6L501.99 447.6L502.57 447.6L503.16 447.6L503.75 447.6L504.34 447.6L504.93 447.6L505.51 447.6L506.1 447.6L506.69 447.6L507.27 447.6L507.86 447.6L508.45 447.6L509.04 447.6L509.62 447.6L510.21 447.6L510.8 447.6L511.39 447.6L511.98 447.6L512.56 447.6L513.15 447.6L513.74 447.6L514.33 447.6L514.91 447.6L515.5 447.6L515.5 447.6 L468.5 447.6 Z" fill="#cbd6d5" stroke="#6c7a7a" stroke-width="0.5" stroke-linejoin="round"/>
<path d="M468.5 440.88L469.09 444.33L469.68 440.99L470.26 436.02L470.85 428.98L471.44 420.71L472.02 412.95L472.61 406.56L473.2 403.9L473.79 407.49L474.38 412.64L474.96 421.02L475.55 428.89L476.14 435.94L476.73 441.2L477.31 444.35L477.9 446.1L478.49 446.98L479.07 447.37L479.66 447.52L480.25 447.58L480.84 447.59L481.43 447.6L482.01 447.6L482.6 447.6L483.19 447.6L483.77 447.6L484.36 447.6L484.95 447.6L485.54 447.6L486.12 447.6L486.71 447.6L487.3 447.6L487.89 447.6L488.48 447.6L489.06 447.6L489.65 447.6L490.24 447.6L490.82 447.6L491.41 447.6L492 447.6L492.59 447.6L493.18 447.6L493.76 447.6L494.35 447.6L494.94 447.6L495.52 447.6L496.11 447.6L496.7 447.6L497.29 447.6L497.88 447.6L498.46 447.6L499.05 447.6L499.64 447.6L500.23 447.6L500.81 447.6L501.4 447.6L501.99 447.6L502.57 447.6L503.16 447.6L503.75 447.6L504.34 447.6L504.93 447.6L505.51 447.6L506.1 447.6L506.69 447.6L507.27 447.6L507.86 447.6L508.45 447.6L509.04 447.6L509.62 447.6L510.21 447.6L510.8 447.6L511.39 447.6L511.98 447.6L512.56 447.6L513.15 447.6L513.74 447.6L514.33 447.6L514.91 447.6L515.5 447.6" fill="none" stroke="#2a2a2a" stroke-width="0.55" stroke-linejoin="round"/>
<text x="511.7" y="411.6" font-size="9.3" text-anchor="end" font-weight="normal" fill="#111" stroke="#111" stroke-width="0.18" >1</text>
<rect x="74.6" y="456.5" width="48" height="47.8" fill="#fff" stroke="#7c7c7c" stroke-width="0.8" />
<line x1="76.1" y1="504.3" x2="76.1" y2="505.6" stroke="#555" stroke-width="0.45" />
<line x1="76.1" y1="456.5" x2="76.1" y2="455.5" stroke="#777" stroke-width="0.35" />
<line x1="87.35" y1="504.3" x2="87.35" y2="505.6" stroke="#555" stroke-width="0.45" />
<line x1="87.35" y1="456.5" x2="87.35" y2="455.5" stroke="#777" stroke-width="0.35" />
<line x1="98.6" y1="504.3" x2="98.6" y2="505.6" stroke="#555" stroke-width="0.45" />
<line x1="98.6" y1="456.5" x2="98.6" y2="455.5" stroke="#777" stroke-width="0.35" />
<line x1="109.85" y1="504.3" x2="109.85" y2="505.6" stroke="#555" stroke-width="0.45" />
<line x1="109.85" y1="456.5" x2="109.85" y2="455.5" stroke="#777" stroke-width="0.35" />
<line x1="121.1" y1="504.3" x2="121.1" y2="505.6" stroke="#555" stroke-width="0.45" />
<line x1="121.1" y1="456.5" x2="121.1" y2="455.5" stroke="#777" stroke-width="0.35" />
<line x1="73.3" y1="503.6" x2="74.6" y2="503.6" stroke="#555" stroke-width="0.45" />
<line x1="73.3" y1="494.64" x2="74.6" y2="494.64" stroke="#555" stroke-width="0.45" />
<line x1="73.3" y1="485.68" x2="74.6" y2="485.68" stroke="#555" stroke-width="0.45" />
<line x1="73.3" y1="476.72" x2="74.6" y2="476.72" stroke="#555" stroke-width="0.45" />
<line x1="73.3" y1="467.76" x2="74.6" y2="467.76" stroke="#555" stroke-width="0.45" />
<line x1="73.3" y1="458.8" x2="74.6" y2="458.8" stroke="#555" stroke-width="0.45" />
<text x="76.1" y="508.5" font-size="2.6" text-anchor="middle" fill="#555">10<tspan font-size="1.8" dy="-0.9">0</tspan></text>
<text x="87.35" y="508.5" font-size="2.6" text-anchor="middle" fill="#555">10<tspan font-size="1.8" dy="-0.9">1</tspan></text>
<text x="98.6" y="508.5" font-size="2.6" text-anchor="middle" fill="#555">10<tspan font-size="1.8" dy="-0.9">2</tspan></text>
<text x="109.85" y="508.5" font-size="2.6" text-anchor="middle" fill="#555">10<tspan font-size="1.8" dy="-0.9">3</tspan></text>
<text x="121.1" y="508.5" font-size="2.6" text-anchor="middle" fill="#555">10<tspan font-size="1.8" dy="-0.9">4</tspan></text>
<text x="72.8" y="504.5" font-size="2.4" text-anchor="end" fill="#555">0</text>
<text x="72.8" y="495.54" font-size="2.4" text-anchor="end" fill="#555">20</text>
<text x="72.8" y="486.58" font-size="2.4" text-anchor="end" fill="#555">40</text>
<text x="72.8" y="477.62" font-size="2.4" text-anchor="end" fill="#555">60</text>
<text x="72.8" y="468.66" font-size="2.4" text-anchor="end" fill="#555">80</text>
<text x="72.8" y="459.7" font-size="2.4" text-anchor="end" fill="#555">100</text>
<path d="M75.1 494.84L75.69 502.41L76.27 501.08L76.86 498.85L77.45 495.69L78.04 490.84L78.62 484.94L79.21 478.21L79.8 472.12L80.39 466.6L80.97 462.39L81.56 460.88L82.15 463.77L82.74 467.99L83.32 474.48L83.91 480.8L84.5 487.29L85.09 493.04L85.67 496.97L86.26 500L86.85 501.7L87.44 502.76L88.02 503.31L88.61 503.59L89.2 503.71L89.79 503.77L90.38 503.79L90.96 503.8L91.55 503.8L92.14 503.8L92.72 503.8L93.31 503.8L93.9 503.8L94.49 503.8L95.07 503.8L95.66 503.8L96.25 503.8L96.84 503.8L97.42 503.8L98.01 503.8L98.6 503.8L99.19 503.8L99.77 503.8L100.36 503.8L100.95 503.8L101.54 503.8L102.12 503.8L102.71 503.8L103.3 503.8L103.89 503.8L104.47 503.8L105.06 503.8L105.65 503.8L106.24 503.8L106.82 503.8L107.41 503.8L108 503.8L108.59 503.8L109.17 503.8L109.76 503.8L110.35 503.8L110.94 503.8L111.53 503.8L112.11 503.8L112.7 503.8L113.29 503.8L113.88 503.8L114.46 503.8L115.05 503.8L115.64 503.8L116.22 503.8L116.81 503.8L117.4 503.8L117.99 503.8L118.57 503.8L119.16 503.8L119.75 503.8L120.34 503.8L120.92 503.8L121.51 503.8L122.1 503.8L122.1 503.8 L75.1 503.8 Z" fill="#bec9c8" stroke="#6c7a7a" stroke-width="0.5" stroke-linejoin="round"/>
<path d="M75.1 497.08L75.69 502.89L76.27 501.55L76.86 498.72L77.45 493.92L78.04 486.62L78.62 477.9L79.21 468.27L79.8 462.4L80.39 460.48L80.97 463.88L81.56 472.16L82.15 481.36L82.74 489.96L83.32 495.97L83.91 500.11L84.5 502.2L85.09 503.19L85.67 503.6L86.26 503.74L86.85 503.78L87.44 503.8L88.02 503.8L88.61 503.8L89.2 503.8L89.79 503.8L90.38 503.8L90.96 503.8L91.55 503.8L92.14 503.8L92.72 503.8L93.31 503.8L93.9 503.8L94.49 503.8L95.07 503.8L95.66 503.8L96.25 503.8L96.84 503.8L97.42 503.8L98.01 503.8L98.6 503.8L99.19 503.8L99.77 503.8L100.36 503.8L100.95 503.8L101.54 503.8L102.12 503.8L102.71 503.8L103.3 503.8L103.89 503.8L104.47 503.8L105.06 503.8L105.65 503.8L106.24 503.8L106.82 503.8L107.41 503.8L108 503.8L108.59 503.8L109.17 503.8L109.76 503.8L110.35 503.8L110.94 503.8L111.53 503.8L112.11 503.8L112.7 503.8L113.29 503.8L113.88 503.8L114.46 503.8L115.05 503.8L115.64 503.8L116.22 503.8L116.81 503.8L117.4 503.8L117.99 503.8L118.57 503.8L119.16 503.8L119.75 503.8L120.34 503.8L120.92 503.8L121.51 503.8L122.1 503.8" fill="none" stroke="#2a2a2a" stroke-width="0.55" stroke-linejoin="round"/>
<text x="118.3" y="467.8" font-size="9.3" text-anchor="end" font-weight="normal" fill="#111" stroke="#111" stroke-width="0.18" >2</text>
<rect x="130.8" y="456.5" width="48" height="47.8" fill="#fff" stroke="#7c7c7c" stroke-width="0.8" />
<line x1="132.3" y1="504.3" x2="132.3" y2="505.6" stroke="#555" stroke-width="0.45" />
<line x1="132.3" y1="456.5" x2="132.3" y2="455.5" stroke="#777" stroke-width="0.35" />
<line x1="143.55" y1="504.3" x2="143.55" y2="505.6" stroke="#555" stroke-width="0.45" />
<line x1="143.55" y1="456.5" x2="143.55" y2="455.5" stroke="#777" stroke-width="0.35" />
<line x1="154.8" y1="504.3" x2="154.8" y2="505.6" stroke="#555" stroke-width="0.45" />
<line x1="154.8" y1="456.5" x2="154.8" y2="455.5" stroke="#777" stroke-width="0.35" />
<line x1="166.05" y1="504.3" x2="166.05" y2="505.6" stroke="#555" stroke-width="0.45" />
<line x1="166.05" y1="456.5" x2="166.05" y2="455.5" stroke="#777" stroke-width="0.35" />
<line x1="177.3" y1="504.3" x2="177.3" y2="505.6" stroke="#555" stroke-width="0.45" />
<line x1="177.3" y1="456.5" x2="177.3" y2="455.5" stroke="#777" stroke-width="0.35" />
<line x1="129.5" y1="503.6" x2="130.8" y2="503.6" stroke="#555" stroke-width="0.45" />
<line x1="129.5" y1="494.64" x2="130.8" y2="494.64" stroke="#555" stroke-width="0.45" />
<line x1="129.5" y1="485.68" x2="130.8" y2="485.68" stroke="#555" stroke-width="0.45" />
<line x1="129.5" y1="476.72" x2="130.8" y2="476.72" stroke="#555" stroke-width="0.45" />
<line x1="129.5" y1="467.76" x2="130.8" y2="467.76" stroke="#555" stroke-width="0.45" />
<line x1="129.5" y1="458.8" x2="130.8" y2="458.8" stroke="#555" stroke-width="0.45" />
<text x="132.3" y="508.5" font-size="2.6" text-anchor="middle" fill="#555">10<tspan font-size="1.8" dy="-0.9">0</tspan></text>
<text x="143.55" y="508.5" font-size="2.6" text-anchor="middle" fill="#555">10<tspan font-size="1.8" dy="-0.9">1</tspan></text>
<text x="154.8" y="508.5" font-size="2.6" text-anchor="middle" fill="#555">10<tspan font-size="1.8" dy="-0.9">2</tspan></text>
<text x="166.05" y="508.5" font-size="2.6" text-anchor="middle" fill="#555">10<tspan font-size="1.8" dy="-0.9">3</tspan></text>
<text x="177.3" y="508.5" font-size="2.6" text-anchor="middle" fill="#555">10<tspan font-size="1.8" dy="-0.9">4</tspan></text>
<text x="129" y="504.5" font-size="2.4" text-anchor="end" fill="#555">0</text>
<text x="129" y="495.54" font-size="2.4" text-anchor="end" fill="#555">20</text>
<text x="129" y="486.58" font-size="2.4" text-anchor="end" fill="#555">40</text>
<text x="129" y="477.62" font-size="2.4" text-anchor="end" fill="#555">60</text>
<text x="129" y="468.66" font-size="2.4" text-anchor="end" fill="#555">80</text>
<text x="129" y="459.7" font-size="2.4" text-anchor="end" fill="#555">100</text>
<path d="M131.3 494.84L131.89 499.57L132.48 496.38L133.06 491.73L133.65 485.42L134.24 478.35L134.83 471.41L135.41 465.88L136 463.24L136.59 463.6L137.18 466.47L137.76 472.92L138.35 479.62L138.94 486.54L139.53 492.49L140.11 496.98L140.7 500.13L141.29 501.93L141.88 502.92L142.46 503.42L143.05 503.65L143.64 503.74L144.23 503.78L144.81 503.79L145.4 503.8L145.99 503.8L146.58 503.8L147.16 503.8L147.75 503.8L148.34 503.8L148.93 503.8L149.51 503.8L150.1 503.8L150.69 503.8L151.28 503.8L151.86 503.8L152.45 503.8L153.04 503.8L153.62 503.8L154.21 503.8L154.8 503.8L155.39 503.8L155.98 503.8L156.56 503.8L157.15 503.8L157.74 503.8L158.33 503.8L158.91 503.8L159.5 503.8L160.09 503.8L160.68 503.8L161.26 503.8L161.85 503.8L162.44 503.8L163.03 503.8L163.61 503.8L164.2 503.8L164.79 503.8L165.38 503.8L165.96 503.8L166.55 503.8L167.14 503.8L167.73 503.8L168.31 503.8L168.9 503.8L169.49 503.8L170.08 503.8L170.66 503.8L171.25 503.8L171.84 503.8L172.43 503.8L173.01 503.8L173.6 503.8L174.19 503.8L174.78 503.8L175.36 503.8L175.95 503.8L176.54 503.8L177.12 503.8L177.71 503.8L178.3 503.8L178.3 503.8 L131.3 503.8 Z" fill="#b2bebd" stroke="#6c7a7a" stroke-width="0.5" stroke-linejoin="round"/>
<path d="M131.3 497.08L131.89 501.4L132.48 498.72L133.06 494.29L133.65 488.26L134.24 479.92L134.83 472.09L135.41 464.8L136 460.44L136.59 462.1L137.18 466.88L137.76 474.01L138.35 482.4L138.94 489.65L139.53 495.61L140.11 499.48L140.7 501.73L141.29 502.91L141.88 503.46L142.46 503.68L143.05 503.76L143.64 503.79L144.23 503.8L144.81 503.8L145.4 503.8L145.99 503.8L146.58 503.8L147.16 503.8L147.75 503.8L148.34 503.8L148.93 503.8L149.51 503.8L150.1 503.8L150.69 503.8L151.28 503.8L151.86 503.8L152.45 503.8L153.04 503.8L153.62 503.8L154.21 503.8L154.8 503.8L155.39 503.8L155.98 503.8L156.56 503.8L157.15 503.8L157.74 503.8L158.33 503.8L158.91 503.8L159.5 503.8L160.09 503.8L160.68 503.8L161.26 503.8L161.85 503.8L162.44 503.8L163.03 503.8L163.61 503.8L164.2 503.8L164.79 503.8L165.38 503.8L165.96 503.8L166.55 503.8L167.14 503.8L167.73 503.8L168.31 503.8L168.9 503.8L169.49 503.8L170.08 503.8L170.66 503.8L171.25 503.8L171.84 503.8L172.43 503.8L173.01 503.8L173.6 503.8L174.19 503.8L174.78 503.8L175.36 503.8L175.95 503.8L176.54 503.8L177.12 503.8L177.71 503.8L178.3 503.8" fill="none" stroke="#2a2a2a" stroke-width="0.55" stroke-linejoin="round"/>
<text x="174.5" y="467.8" font-size="9.3" text-anchor="end" font-weight="normal" fill="#111" stroke="#111" stroke-width="0.18" >&lt;1</text>
<rect x="187.1" y="456.5" width="48" height="47.8" fill="#fff" stroke="#7c7c7c" stroke-width="0.8" />
<line x1="188.6" y1="504.3" x2="188.6" y2="505.6" stroke="#555" stroke-width="0.45" />
<line x1="188.6" y1="456.5" x2="188.6" y2="455.5" stroke="#777" stroke-width="0.35" />
<line x1="199.85" y1="504.3" x2="199.85" y2="505.6" stroke="#555" stroke-width="0.45" />
<line x1="199.85" y1="456.5" x2="199.85" y2="455.5" stroke="#777" stroke-width="0.35" />
<line x1="211.1" y1="504.3" x2="211.1" y2="505.6" stroke="#555" stroke-width="0.45" />
<line x1="211.1" y1="456.5" x2="211.1" y2="455.5" stroke="#777" stroke-width="0.35" />
<line x1="222.35" y1="504.3" x2="222.35" y2="505.6" stroke="#555" stroke-width="0.45" />
<line x1="222.35" y1="456.5" x2="222.35" y2="455.5" stroke="#777" stroke-width="0.35" />
<line x1="233.6" y1="504.3" x2="233.6" y2="505.6" stroke="#555" stroke-width="0.45" />
<line x1="233.6" y1="456.5" x2="233.6" y2="455.5" stroke="#777" stroke-width="0.35" />
<line x1="185.8" y1="503.6" x2="187.1" y2="503.6" stroke="#555" stroke-width="0.45" />
<line x1="185.8" y1="494.64" x2="187.1" y2="494.64" stroke="#555" stroke-width="0.45" />
<line x1="185.8" y1="485.68" x2="187.1" y2="485.68" stroke="#555" stroke-width="0.45" />
<line x1="185.8" y1="476.72" x2="187.1" y2="476.72" stroke="#555" stroke-width="0.45" />
<line x1="185.8" y1="467.76" x2="187.1" y2="467.76" stroke="#555" stroke-width="0.45" />
<line x1="185.8" y1="458.8" x2="187.1" y2="458.8" stroke="#555" stroke-width="0.45" />
<text x="188.6" y="508.5" font-size="2.6" text-anchor="middle" fill="#555">10<tspan font-size="1.8" dy="-0.9">0</tspan></text>
<text x="199.85" y="508.5" font-size="2.6" text-anchor="middle" fill="#555">10<tspan font-size="1.8" dy="-0.9">1</tspan></text>
<text x="211.1" y="508.5" font-size="2.6" text-anchor="middle" fill="#555">10<tspan font-size="1.8" dy="-0.9">2</tspan></text>
<text x="222.35" y="508.5" font-size="2.6" text-anchor="middle" fill="#555">10<tspan font-size="1.8" dy="-0.9">3</tspan></text>
<text x="233.6" y="508.5" font-size="2.6" text-anchor="middle" fill="#555">10<tspan font-size="1.8" dy="-0.9">4</tspan></text>
<text x="185.3" y="504.5" font-size="2.4" text-anchor="end" fill="#555">0</text>
<text x="185.3" y="495.54" font-size="2.4" text-anchor="end" fill="#555">20</text>
<text x="185.3" y="486.58" font-size="2.4" text-anchor="end" fill="#555">40</text>
<text x="185.3" y="477.62" font-size="2.4" text-anchor="end" fill="#555">60</text>
<text x="185.3" y="468.66" font-size="2.4" text-anchor="end" fill="#555">80</text>
<text x="185.3" y="459.7" font-size="2.4" text-anchor="end" fill="#555">100</text>
<path d="M187.6 494.84L188.19 503.8L188.78 503.8L189.36 503.8L189.95 503.8L190.54 503.8L191.12 503.8L191.71 503.8L192.3 503.8L192.89 503.8L193.47 503.79L194.06 503.79L194.65 503.78L195.24 503.78L195.82 503.76L196.41 503.75L197 503.72L197.59 503.69L198.17 503.65L198.76 503.6L199.35 503.53L199.94 503.44L200.53 503.33L201.11 503.2L201.7 503.06L202.29 502.89L202.88 502.7L203.46 502.49L204.05 502.26L204.64 502.02L205.22 501.82L205.81 501.59L206.4 501.36L206.99 501L207.57 500.81L208.16 500.45L208.75 499.87L209.34 499.08L209.92 497.91L210.51 496.32L211.1 494.22L211.69 491.24L212.28 487.72L212.86 483.27L213.45 479.18L214.04 474.71L214.62 469.98L215.21 465.32L215.8 462.78L216.39 460.33L216.97 460.12L217.56 462.64L218.15 466.27L218.74 468.9L219.32 473.66L219.91 479.29L220.5 483.89L221.09 488.78L221.67 492.24L222.26 495.58L222.85 498.16L223.44 500.02L224.03 501.49L224.61 502.35L225.2 502.95L225.79 503.31L226.38 503.53L226.96 503.66L227.55 503.73L228.14 503.76L228.72 503.78L229.31 503.79L229.9 503.8L230.49 503.8L231.07 503.8L231.66 503.8L232.25 503.8L232.84 503.8L233.42 503.8L234.01 503.8L234.6 503.8L234.6 503.8 L187.6 503.8 Z" fill="#cbd6d5" stroke="#6c7a7a" stroke-width="0.5" stroke-linejoin="round"/>
<path d="M187.6 493.72L188.19 488.98L188.78 483.51L189.36 477.16L189.95 471.95L190.54 465.88L191.12 462.07L191.71 460.24L192.3 459.67L192.89 461.99L193.47 464.31L194.06 469.39L194.65 473.5L195.24 477.42L195.82 481.23L196.41 485.22L197 487.86L197.59 491.15L198.17 493.79L198.76 496.38L199.35 498.43L199.94 500.27L200.53 501.59L201.11 502.48L201.7 503.08L202.29 503.43L202.88 503.62L203.46 503.72L204.05 503.77L204.64 503.79L205.22 503.8L205.81 503.8L206.4 503.8L206.99 503.8L207.57 503.8L208.16 503.8L208.75 503.8L209.34 503.8L209.92 503.8L210.51 503.8L211.1 503.8L211.69 503.8L212.28 503.8L212.86 503.8L213.45 503.8L214.04 503.8L214.62 503.8L215.21 503.8L215.8 503.8L216.39 503.8L216.97 503.8L217.56 503.8L218.15 503.8L218.74 503.8L219.32 503.8L219.91 503.8L220.5 503.8L221.09 503.8L221.67 503.8L222.26 503.8L222.85 503.8L223.44 503.8L224.03 503.8L224.61 503.8L225.2 503.8L225.79 503.8L226.38 503.8L226.96 503.8L227.55 503.8L228.14 503.8L228.72 503.8L229.31 503.8L229.9 503.8L230.49 503.8L231.07 503.8L231.66 503.8L232.25 503.8L232.84 503.8L233.42 503.8L234.01 503.8L234.6 503.8" fill="none" stroke="#2a2a2a" stroke-width="0.55" stroke-linejoin="round"/>
<text x="197.5" y="467.8" font-size="9.3" text-anchor="start" font-weight="normal" fill="#111" stroke="#111" stroke-width="0.18" >370</text>
<rect x="243.3" y="456.5" width="48" height="47.8" fill="#fff" stroke="#7c7c7c" stroke-width="0.8" />
<line x1="244.8" y1="504.3" x2="244.8" y2="505.6" stroke="#555" stroke-width="0.45" />
<line x1="244.8" y1="456.5" x2="244.8" y2="455.5" stroke="#777" stroke-width="0.35" />
<line x1="256.05" y1="504.3" x2="256.05" y2="505.6" stroke="#555" stroke-width="0.45" />
<line x1="256.05" y1="456.5" x2="256.05" y2="455.5" stroke="#777" stroke-width="0.35" />
<line x1="267.3" y1="504.3" x2="267.3" y2="505.6" stroke="#555" stroke-width="0.45" />
<line x1="267.3" y1="456.5" x2="267.3" y2="455.5" stroke="#777" stroke-width="0.35" />
<line x1="278.55" y1="504.3" x2="278.55" y2="505.6" stroke="#555" stroke-width="0.45" />
<line x1="278.55" y1="456.5" x2="278.55" y2="455.5" stroke="#777" stroke-width="0.35" />
<line x1="289.8" y1="504.3" x2="289.8" y2="505.6" stroke="#555" stroke-width="0.45" />
<line x1="289.8" y1="456.5" x2="289.8" y2="455.5" stroke="#777" stroke-width="0.35" />
<line x1="242" y1="503.6" x2="243.3" y2="503.6" stroke="#555" stroke-width="0.45" />
<line x1="242" y1="494.64" x2="243.3" y2="494.64" stroke="#555" stroke-width="0.45" />
<line x1="242" y1="485.68" x2="243.3" y2="485.68" stroke="#555" stroke-width="0.45" />
<line x1="242" y1="476.72" x2="243.3" y2="476.72" stroke="#555" stroke-width="0.45" />
<line x1="242" y1="467.76" x2="243.3" y2="467.76" stroke="#555" stroke-width="0.45" />
<line x1="242" y1="458.8" x2="243.3" y2="458.8" stroke="#555" stroke-width="0.45" />
<text x="244.8" y="508.5" font-size="2.6" text-anchor="middle" fill="#555">10<tspan font-size="1.8" dy="-0.9">0</tspan></text>
<text x="256.05" y="508.5" font-size="2.6" text-anchor="middle" fill="#555">10<tspan font-size="1.8" dy="-0.9">1</tspan></text>
<text x="267.3" y="508.5" font-size="2.6" text-anchor="middle" fill="#555">10<tspan font-size="1.8" dy="-0.9">2</tspan></text>
<text x="278.55" y="508.5" font-size="2.6" text-anchor="middle" fill="#555">10<tspan font-size="1.8" dy="-0.9">3</tspan></text>
<text x="289.8" y="508.5" font-size="2.6" text-anchor="middle" fill="#555">10<tspan font-size="1.8" dy="-0.9">4</tspan></text>
<text x="241.5" y="504.5" font-size="2.4" text-anchor="end" fill="#555">0</text>
<text x="241.5" y="495.54" font-size="2.4" text-anchor="end" fill="#555">20</text>
<text x="241.5" y="486.58" font-size="2.4" text-anchor="end" fill="#555">40</text>
<text x="241.5" y="477.62" font-size="2.4" text-anchor="end" fill="#555">60</text>
<text x="241.5" y="468.66" font-size="2.4" text-anchor="end" fill="#555">80</text>
<text x="241.5" y="459.7" font-size="2.4" text-anchor="end" fill="#555">100</text>
<path d="M243.8 494.84L244.39 503.8L244.98 503.8L245.56 503.8L246.15 503.8L246.74 503.8L247.33 503.8L247.91 503.8L248.5 503.8L249.09 503.79L249.68 503.78L250.26 503.76L250.85 503.69L251.44 503.56L252.03 503.29L252.61 502.8L253.2 501.91L253.79 500.61L254.38 498.68L254.96 496.08L255.55 493.57L256.14 489.99L256.73 486.4L257.31 483.47L257.9 481.51L258.49 480.29L259.07 478.12L259.66 475.18L260.25 475.47L260.84 473.27L261.43 470.1L262.01 470.19L262.6 469.95L263.19 468.8L263.78 465.89L264.36 465.8L264.95 463.2L265.54 460.16L266.12 459.67L266.71 459.67L267.3 462.8L267.89 465.59L268.48 473.07L269.06 479.53L269.65 485.86L270.24 491.03L270.82 497.18L271.41 503.23L272 503.79L272.59 503.8L273.18 503.8L273.76 503.8L274.35 503.8L274.94 503.8L275.53 503.8L276.11 503.8L276.7 503.8L277.29 503.8L277.88 503.8L278.46 503.8L279.05 503.8L279.64 503.8L280.23 503.8L280.81 503.8L281.4 503.8L281.99 503.8L282.57 503.8L283.16 503.8L283.75 503.8L284.34 503.8L284.93 503.8L285.51 503.8L286.1 503.8L286.69 503.8L287.28 503.8L287.86 503.8L288.45 503.8L289.04 503.8L289.62 503.8L290.21 503.8L290.8 503.8L290.8 503.8 L243.8 503.8 Z" fill="#cbd6d5" stroke="#6c7a7a" stroke-width="0.5" stroke-linejoin="round"/>
<path d="M243.8 497.08L244.39 502.65L244.98 500.97L245.56 497.84L246.15 492.45L246.74 484.47L247.33 475.61L247.91 466.33L248.5 461.15L249.09 460.7L249.68 466.22L250.26 473.93L250.85 483.44L251.44 491.32L252.03 497.26L252.61 500.69L253.2 502.51L253.79 503.33L254.38 503.65L254.96 503.76L255.55 503.79L256.14 503.8L256.73 503.8L257.31 503.8L257.9 503.8L258.49 503.8L259.07 503.8L259.66 503.8L260.25 503.8L260.84 503.8L261.43 503.8L262.01 503.8L262.6 503.8L263.19 503.8L263.78 503.8L264.36 503.8L264.95 503.8L265.54 503.8L266.12 503.8L266.71 503.8L267.3 503.8L267.89 503.8L268.48 503.8L269.06 503.8L269.65 503.8L270.24 503.8L270.82 503.8L271.41 503.8L272 503.8L272.59 503.8L273.18 503.8L273.76 503.8L274.35 503.8L274.94 503.8L275.53 503.8L276.11 503.8L276.7 503.8L277.29 503.8L277.88 503.8L278.46 503.8L279.05 503.8L279.64 503.8L280.23 503.8L280.81 503.8L281.4 503.8L281.99 503.8L282.57 503.8L283.16 503.8L283.75 503.8L284.34 503.8L284.93 503.8L285.51 503.8L286.1 503.8L286.69 503.8L287.28 503.8L287.86 503.8L288.45 503.8L289.04 503.8L289.62 503.8L290.21 503.8L290.8 503.8" fill="none" stroke="#2a2a2a" stroke-width="0.55" stroke-linejoin="round"/>
<text x="287" y="467.8" font-size="9.3" text-anchor="end" font-weight="normal" fill="#111" stroke="#111" stroke-width="0.18" >56</text>
<rect x="299.4" y="456.5" width="48" height="47.8" fill="#fff" stroke="#7c7c7c" stroke-width="0.8" />
<line x1="300.9" y1="504.3" x2="300.9" y2="505.6" stroke="#555" stroke-width="0.45" />
<line x1="300.9" y1="456.5" x2="300.9" y2="455.5" stroke="#777" stroke-width="0.35" />
<line x1="312.15" y1="504.3" x2="312.15" y2="505.6" stroke="#555" stroke-width="0.45" />
<line x1="312.15" y1="456.5" x2="312.15" y2="455.5" stroke="#777" stroke-width="0.35" />
<line x1="323.4" y1="504.3" x2="323.4" y2="505.6" stroke="#555" stroke-width="0.45" />
<line x1="323.4" y1="456.5" x2="323.4" y2="455.5" stroke="#777" stroke-width="0.35" />
<line x1="334.65" y1="504.3" x2="334.65" y2="505.6" stroke="#555" stroke-width="0.45" />
<line x1="334.65" y1="456.5" x2="334.65" y2="455.5" stroke="#777" stroke-width="0.35" />
<line x1="345.9" y1="504.3" x2="345.9" y2="505.6" stroke="#555" stroke-width="0.45" />
<line x1="345.9" y1="456.5" x2="345.9" y2="455.5" stroke="#777" stroke-width="0.35" />
<line x1="298.1" y1="503.6" x2="299.4" y2="503.6" stroke="#555" stroke-width="0.45" />
<line x1="298.1" y1="494.64" x2="299.4" y2="494.64" stroke="#555" stroke-width="0.45" />
<line x1="298.1" y1="485.68" x2="299.4" y2="485.68" stroke="#555" stroke-width="0.45" />
<line x1="298.1" y1="476.72" x2="299.4" y2="476.72" stroke="#555" stroke-width="0.45" />
<line x1="298.1" y1="467.76" x2="299.4" y2="467.76" stroke="#555" stroke-width="0.45" />
<line x1="298.1" y1="458.8" x2="299.4" y2="458.8" stroke="#555" stroke-width="0.45" />
<text x="300.9" y="508.5" font-size="2.6" text-anchor="middle" fill="#555">10<tspan font-size="1.8" dy="-0.9">0</tspan></text>
<text x="312.15" y="508.5" font-size="2.6" text-anchor="middle" fill="#555">10<tspan font-size="1.8" dy="-0.9">1</tspan></text>
<text x="323.4" y="508.5" font-size="2.6" text-anchor="middle" fill="#555">10<tspan font-size="1.8" dy="-0.9">2</tspan></text>
<text x="334.65" y="508.5" font-size="2.6" text-anchor="middle" fill="#555">10<tspan font-size="1.8" dy="-0.9">3</tspan></text>
<text x="345.9" y="508.5" font-size="2.6" text-anchor="middle" fill="#555">10<tspan font-size="1.8" dy="-0.9">4</tspan></text>
<text x="297.6" y="504.5" font-size="2.4" text-anchor="end" fill="#555">0</text>
<text x="297.6" y="495.54" font-size="2.4" text-anchor="end" fill="#555">20</text>
<text x="297.6" y="486.58" font-size="2.4" text-anchor="end" fill="#555">40</text>
<text x="297.6" y="477.62" font-size="2.4" text-anchor="end" fill="#555">60</text>
<text x="297.6" y="468.66" font-size="2.4" text-anchor="end" fill="#555">80</text>
<text x="297.6" y="459.7" font-size="2.4" text-anchor="end" fill="#555">100</text>
<path d="M299.9 494.84L300.49 503.71L301.07 503.61L301.66 503.42L302.25 503.11L302.84 502.61L303.42 501.94L304.01 500.95L304.6 499.84L305.19 498.69L305.77 497.66L306.36 496.47L306.95 495.74L307.54 495.39L308.12 495L308.71 494.63L309.3 493.87L309.89 492.13L310.47 489.69L311.06 487.15L311.65 482.62L312.24 479.24L312.82 475.05L313.41 471.48L314 466.1L314.59 464.22L315.17 462.68L315.76 463.44L316.35 466.27L316.94 468.22L317.52 471.44L318.11 476.29L318.7 479.47L319.29 484.7L319.88 488.98L320.46 492.08L321.05 495.55L321.64 497.65L322.22 499.7L322.81 501.06L323.4 502.07L323.99 502.72L324.57 503.15L325.16 503.42L325.75 503.59L326.34 503.69L326.92 503.74L327.51 503.77L328.1 503.79L328.69 503.79L329.27 503.8L329.86 503.8L330.45 503.8L331.04 503.8L331.62 503.8L332.21 503.8L332.8 503.8L333.39 503.8L333.97 503.8L334.56 503.8L335.15 503.8L335.74 503.8L336.32 503.8L336.91 503.8L337.5 503.8L338.09 503.8L338.67 503.8L339.26 503.8L339.85 503.8L340.44 503.8L341.02 503.8L341.61 503.8L342.2 503.8L342.79 503.8L343.38 503.8L343.96 503.8L344.55 503.8L345.14 503.8L345.72 503.8L346.31 503.8L346.9 503.8L346.9 503.8 L299.9 503.8 Z" fill="#bec9c8" stroke="#6c7a7a" stroke-width="0.5" stroke-linejoin="round"/>
<path d="M299.9 497.08L300.49 499.45L301.07 495.77L301.66 490.58L302.25 482.99L302.84 475.91L303.42 467.86L304.01 462.59L304.6 460.42L305.19 462.9L305.77 468.28L306.36 475.64L306.95 483.74L307.54 490.48L308.12 495.83L308.71 499.36L309.3 501.62L309.89 502.81L310.47 503.39L311.06 503.65L311.65 503.75L312.24 503.78L312.82 503.8L313.41 503.8L314 503.8L314.59 503.8L315.17 503.8L315.76 503.8L316.35 503.8L316.94 503.8L317.52 503.8L318.11 503.8L318.7 503.8L319.29 503.8L319.88 503.8L320.46 503.8L321.05 503.8L321.64 503.8L322.22 503.8L322.81 503.8L323.4 503.8L323.99 503.8L324.57 503.8L325.16 503.8L325.75 503.8L326.34 503.8L326.92 503.8L327.51 503.8L328.1 503.8L328.69 503.8L329.27 503.8L329.86 503.8L330.45 503.8L331.04 503.8L331.62 503.8L332.21 503.8L332.8 503.8L333.39 503.8L333.97 503.8L334.56 503.8L335.15 503.8L335.74 503.8L336.32 503.8L336.91 503.8L337.5 503.8L338.09 503.8L338.67 503.8L339.26 503.8L339.85 503.8L340.44 503.8L341.02 503.8L341.61 503.8L342.2 503.8L342.79 503.8L343.38 503.8L343.96 503.8L344.55 503.8L345.14 503.8L345.72 503.8L346.31 503.8L346.9 503.8" fill="none" stroke="#2a2a2a" stroke-width="0.55" stroke-linejoin="round"/>
<text x="343.1" y="467.8" font-size="9.3" text-anchor="end" font-weight="normal" fill="#111" stroke="#111" stroke-width="0.18" >20</text>
<rect x="355.5" y="456.5" width="48" height="47.8" fill="#fff" stroke="#7c7c7c" stroke-width="0.8" />
<line x1="357" y1="504.3" x2="357" y2="505.6" stroke="#555" stroke-width="0.45" />
<line x1="357" y1="456.5" x2="357" y2="455.5" stroke="#777" stroke-width="0.35" />
<line x1="368.25" y1="504.3" x2="368.25" y2="505.6" stroke="#555" stroke-width="0.45" />
<line x1="368.25" y1="456.5" x2="368.25" y2="455.5" stroke="#777" stroke-width="0.35" />
<line x1="379.5" y1="504.3" x2="379.5" y2="505.6" stroke="#555" stroke-width="0.45" />
<line x1="379.5" y1="456.5" x2="379.5" y2="455.5" stroke="#777" stroke-width="0.35" />
<line x1="390.75" y1="504.3" x2="390.75" y2="505.6" stroke="#555" stroke-width="0.45" />
<line x1="390.75" y1="456.5" x2="390.75" y2="455.5" stroke="#777" stroke-width="0.35" />
<line x1="402" y1="504.3" x2="402" y2="505.6" stroke="#555" stroke-width="0.45" />
<line x1="402" y1="456.5" x2="402" y2="455.5" stroke="#777" stroke-width="0.35" />
<line x1="354.2" y1="503.6" x2="355.5" y2="503.6" stroke="#555" stroke-width="0.45" />
<line x1="354.2" y1="494.64" x2="355.5" y2="494.64" stroke="#555" stroke-width="0.45" />
<line x1="354.2" y1="485.68" x2="355.5" y2="485.68" stroke="#555" stroke-width="0.45" />
<line x1="354.2" y1="476.72" x2="355.5" y2="476.72" stroke="#555" stroke-width="0.45" />
<line x1="354.2" y1="467.76" x2="355.5" y2="467.76" stroke="#555" stroke-width="0.45" />
<line x1="354.2" y1="458.8" x2="355.5" y2="458.8" stroke="#555" stroke-width="0.45" />
<text x="357" y="508.5" font-size="2.6" text-anchor="middle" fill="#555">10<tspan font-size="1.8" dy="-0.9">0</tspan></text>
<text x="368.25" y="508.5" font-size="2.6" text-anchor="middle" fill="#555">10<tspan font-size="1.8" dy="-0.9">1</tspan></text>
<text x="379.5" y="508.5" font-size="2.6" text-anchor="middle" fill="#555">10<tspan font-size="1.8" dy="-0.9">2</tspan></text>
<text x="390.75" y="508.5" font-size="2.6" text-anchor="middle" fill="#555">10<tspan font-size="1.8" dy="-0.9">3</tspan></text>
<text x="402" y="508.5" font-size="2.6" text-anchor="middle" fill="#555">10<tspan font-size="1.8" dy="-0.9">4</tspan></text>
<text x="353.7" y="504.5" font-size="2.4" text-anchor="end" fill="#555">0</text>
<text x="353.7" y="495.54" font-size="2.4" text-anchor="end" fill="#555">20</text>
<text x="353.7" y="486.58" font-size="2.4" text-anchor="end" fill="#555">40</text>
<text x="353.7" y="477.62" font-size="2.4" text-anchor="end" fill="#555">60</text>
<text x="353.7" y="468.66" font-size="2.4" text-anchor="end" fill="#555">80</text>
<text x="353.7" y="459.7" font-size="2.4" text-anchor="end" fill="#555">100</text>
<path d="M356 494.84L356.59 503.8L357.18 503.8L357.76 503.8L358.35 503.8L358.94 503.8L359.52 503.8L360.11 503.8L360.7 503.8L361.29 503.8L361.88 503.79L362.46 503.79L363.05 503.77L363.64 503.73L364.23 503.65L364.81 503.51L365.4 503.26L365.99 502.86L366.57 502.15L367.16 501.45L367.75 500.35L368.34 498.29L368.93 497.04L369.51 495.12L370.1 492.27L370.69 490.39L371.27 486.94L371.86 485.69L372.45 481.01L373.04 479.49L373.62 474.98L374.21 469.79L374.8 466.87L375.39 462.38L375.98 461.03L376.56 463.44L377.15 459.83L377.74 463.45L378.32 468.06L378.91 472.53L379.5 474.48L380.09 479.57L380.68 482.4L381.26 485.97L381.85 488.23L382.44 491.01L383.02 492.63L383.61 494.37L384.2 496.24L384.79 497.1L385.38 498.9L385.96 499.86L386.55 500.87L387.14 501.82L387.73 502.5L388.31 502.96L388.9 503.29L389.49 503.5L390.07 503.63L390.66 503.71L391.25 503.75L391.84 503.78L392.43 503.79L393.01 503.8L393.6 503.8L394.19 503.8L394.77 503.8L395.36 503.8L395.95 503.8L396.54 503.8L397.12 503.8L397.71 503.8L398.3 503.8L398.89 503.8L399.48 503.8L400.06 503.8L400.65 503.8L401.24 503.8L401.82 503.8L402.41 503.8L403 503.8L403 503.8 L356 503.8 Z" fill="#b2bebd" stroke="#6c7a7a" stroke-width="0.5" stroke-linejoin="round"/>
<path d="M356 497.08L356.59 503.64L357.18 503.31L357.76 502.47L358.35 500.62L358.94 497L359.52 491.45L360.11 482.74L360.7 473.57L361.29 465.06L361.88 461.63L362.46 462.27L363.05 467.89L363.64 476.13L364.23 485.25L364.81 492.47L365.4 497.94L365.99 501.05L366.57 502.7L367.16 503.4L367.75 503.68L368.34 503.77L368.93 503.79L369.51 503.8L370.1 503.8L370.69 503.8L371.27 503.8L371.86 503.8L372.45 503.8L373.04 503.8L373.62 503.8L374.21 503.8L374.8 503.8L375.39 503.8L375.98 503.8L376.56 503.8L377.15 503.8L377.74 503.8L378.32 503.8L378.91 503.8L379.5 503.8L380.09 503.8L380.68 503.8L381.26 503.8L381.85 503.8L382.44 503.8L383.02 503.8L383.61 503.8L384.2 503.8L384.79 503.8L385.38 503.8L385.96 503.8L386.55 503.8L387.14 503.8L387.73 503.8L388.31 503.8L388.9 503.8L389.49 503.8L390.07 503.8L390.66 503.8L391.25 503.8L391.84 503.8L392.43 503.8L393.01 503.8L393.6 503.8L394.19 503.8L394.77 503.8L395.36 503.8L395.95 503.8L396.54 503.8L397.12 503.8L397.71 503.8L398.3 503.8L398.89 503.8L399.48 503.8L400.06 503.8L400.65 503.8L401.24 503.8L401.82 503.8L402.41 503.8L403 503.8" fill="none" stroke="#2a2a2a" stroke-width="0.55" stroke-linejoin="round"/>
<text x="399.2" y="467.8" font-size="9.3" text-anchor="end" font-weight="normal" fill="#111" stroke="#111" stroke-width="0.18" >71</text>
<rect x="411.7" y="456.5" width="48" height="47.8" fill="#fff" stroke="#7c7c7c" stroke-width="0.8" />
<line x1="413.2" y1="504.3" x2="413.2" y2="505.6" stroke="#555" stroke-width="0.45" />
<line x1="413.2" y1="456.5" x2="413.2" y2="455.5" stroke="#777" stroke-width="0.35" />
<line x1="424.45" y1="504.3" x2="424.45" y2="505.6" stroke="#555" stroke-width="0.45" />
<line x1="424.45" y1="456.5" x2="424.45" y2="455.5" stroke="#777" stroke-width="0.35" />
<line x1="435.7" y1="504.3" x2="435.7" y2="505.6" stroke="#555" stroke-width="0.45" />
<line x1="435.7" y1="456.5" x2="435.7" y2="455.5" stroke="#777" stroke-width="0.35" />
<line x1="446.95" y1="504.3" x2="446.95" y2="505.6" stroke="#555" stroke-width="0.45" />
<line x1="446.95" y1="456.5" x2="446.95" y2="455.5" stroke="#777" stroke-width="0.35" />
<line x1="458.2" y1="504.3" x2="458.2" y2="505.6" stroke="#555" stroke-width="0.45" />
<line x1="458.2" y1="456.5" x2="458.2" y2="455.5" stroke="#777" stroke-width="0.35" />
<line x1="410.4" y1="503.6" x2="411.7" y2="503.6" stroke="#555" stroke-width="0.45" />
<line x1="410.4" y1="494.64" x2="411.7" y2="494.64" stroke="#555" stroke-width="0.45" />
<line x1="410.4" y1="485.68" x2="411.7" y2="485.68" stroke="#555" stroke-width="0.45" />
<line x1="410.4" y1="476.72" x2="411.7" y2="476.72" stroke="#555" stroke-width="0.45" />
<line x1="410.4" y1="467.76" x2="411.7" y2="467.76" stroke="#555" stroke-width="0.45" />
<line x1="410.4" y1="458.8" x2="411.7" y2="458.8" stroke="#555" stroke-width="0.45" />
<text x="413.2" y="508.5" font-size="2.6" text-anchor="middle" fill="#555">10<tspan font-size="1.8" dy="-0.9">0</tspan></text>
<text x="424.45" y="508.5" font-size="2.6" text-anchor="middle" fill="#555">10<tspan font-size="1.8" dy="-0.9">1</tspan></text>
<text x="435.7" y="508.5" font-size="2.6" text-anchor="middle" fill="#555">10<tspan font-size="1.8" dy="-0.9">2</tspan></text>
<text x="446.95" y="508.5" font-size="2.6" text-anchor="middle" fill="#555">10<tspan font-size="1.8" dy="-0.9">3</tspan></text>
<text x="458.2" y="508.5" font-size="2.6" text-anchor="middle" fill="#555">10<tspan font-size="1.8" dy="-0.9">4</tspan></text>
<text x="409.9" y="504.5" font-size="2.4" text-anchor="end" fill="#555">0</text>
<text x="409.9" y="495.54" font-size="2.4" text-anchor="end" fill="#555">20</text>
<text x="409.9" y="486.58" font-size="2.4" text-anchor="end" fill="#555">40</text>
<text x="409.9" y="477.62" font-size="2.4" text-anchor="end" fill="#555">60</text>
<text x="409.9" y="468.66" font-size="2.4" text-anchor="end" fill="#555">80</text>
<text x="409.9" y="459.7" font-size="2.4" text-anchor="end" fill="#555">100</text>
<path d="M412.2 494.84L412.79 503.71L413.38 503.64L413.96 503.52L414.55 503.34L415.14 503.08L415.72 502.73L416.31 502.18L416.9 501.57L417.49 500.89L418.07 500.49L418.66 499.55L419.25 498.96L419.84 498.28L420.43 497.99L421.01 497.34L421.6 496.29L422.19 495.24L422.77 493L423.36 490.8L423.95 486.95L424.54 480.65L425.12 476.08L425.71 470.43L426.3 464.86L426.89 463.57L427.47 464.11L428.06 461.77L428.65 466.1L429.24 470.82L429.82 476.85L430.41 482.03L431 488.94L431.59 493L432.18 497.05L432.76 499.51L433.35 501.26L433.94 502.45L434.52 503.08L435.11 503.44L435.7 503.63L436.29 503.73L436.88 503.77L437.46 503.79L438.05 503.8L438.64 503.8L439.22 503.8L439.81 503.8L440.4 503.8L440.99 503.8L441.57 503.8L442.16 503.8L442.75 503.8L443.34 503.8L443.93 503.8L444.51 503.8L445.1 503.8L445.69 503.8L446.27 503.8L446.86 503.8L447.45 503.8L448.04 503.8L448.62 503.8L449.21 503.8L449.8 503.8L450.39 503.8L450.97 503.8L451.56 503.8L452.15 503.8L452.74 503.8L453.32 503.8L453.91 503.8L454.5 503.8L455.09 503.8L455.68 503.8L456.26 503.8L456.85 503.8L457.44 503.8L458.02 503.8L458.61 503.8L459.2 503.8L459.2 503.8 L412.2 503.8 Z" fill="#cbd6d5" stroke="#6c7a7a" stroke-width="0.5" stroke-linejoin="round"/>
<path d="M412.2 496.84L412.79 492.95L413.38 487.9L413.96 482.66L414.55 476.31L415.14 470.51L415.72 464.82L416.31 461.3L416.9 459.93L417.49 460L418.07 463.19L418.66 467.9L419.25 472.75L419.84 477.53L420.43 482.22L421.01 486.7L421.6 489.83L422.19 492.95L422.77 495.31L423.36 497.61L423.95 499.29L424.54 500.74L425.12 501.77L425.71 502.55L426.3 503.08L426.89 503.41L427.47 503.61L428.06 503.71L428.65 503.76L429.24 503.78L429.82 503.79L430.41 503.8L431 503.8L431.59 503.8L432.18 503.8L432.76 503.8L433.35 503.8L433.94 503.8L434.52 503.8L435.11 503.8L435.7 503.8L436.29 503.8L436.88 503.8L437.46 503.8L438.05 503.8L438.64 503.8L439.22 503.8L439.81 503.8L440.4 503.8L440.99 503.8L441.57 503.8L442.16 503.8L442.75 503.8L443.34 503.8L443.93 503.8L444.51 503.8L445.1 503.8L445.69 503.8L446.27 503.8L446.86 503.8L447.45 503.8L448.04 503.8L448.62 503.8L449.21 503.8L449.8 503.8L450.39 503.8L450.97 503.8L451.56 503.8L452.15 503.8L452.74 503.8L453.32 503.8L453.91 503.8L454.5 503.8L455.09 503.8L455.68 503.8L456.26 503.8L456.85 503.8L457.44 503.8L458.02 503.8L458.61 503.8L459.2 503.8" fill="none" stroke="#2a2a2a" stroke-width="0.55" stroke-linejoin="round"/>
<text x="455.4" y="467.8" font-size="9.3" text-anchor="end" font-weight="normal" fill="#111" stroke="#111" stroke-width="0.18" >16</text>
<rect x="468" y="456.5" width="48" height="47.8" fill="#fff" stroke="#7c7c7c" stroke-width="0.8" />
<line x1="469.5" y1="504.3" x2="469.5" y2="505.6" stroke="#555" stroke-width="0.45" />
<line x1="469.5" y1="456.5" x2="469.5" y2="455.5" stroke="#777" stroke-width="0.35" />
<line x1="480.75" y1="504.3" x2="480.75" y2="505.6" stroke="#555" stroke-width="0.45" />
<line x1="480.75" y1="456.5" x2="480.75" y2="455.5" stroke="#777" stroke-width="0.35" />
<line x1="492" y1="504.3" x2="492" y2="505.6" stroke="#555" stroke-width="0.45" />
<line x1="492" y1="456.5" x2="492" y2="455.5" stroke="#777" stroke-width="0.35" />
<line x1="503.25" y1="504.3" x2="503.25" y2="505.6" stroke="#555" stroke-width="0.45" />
<line x1="503.25" y1="456.5" x2="503.25" y2="455.5" stroke="#777" stroke-width="0.35" />
<line x1="514.5" y1="504.3" x2="514.5" y2="505.6" stroke="#555" stroke-width="0.45" />
<line x1="514.5" y1="456.5" x2="514.5" y2="455.5" stroke="#777" stroke-width="0.35" />
<line x1="466.7" y1="503.6" x2="468" y2="503.6" stroke="#555" stroke-width="0.45" />
<line x1="466.7" y1="494.64" x2="468" y2="494.64" stroke="#555" stroke-width="0.45" />
<line x1="466.7" y1="485.68" x2="468" y2="485.68" stroke="#555" stroke-width="0.45" />
<line x1="466.7" y1="476.72" x2="468" y2="476.72" stroke="#555" stroke-width="0.45" />
<line x1="466.7" y1="467.76" x2="468" y2="467.76" stroke="#555" stroke-width="0.45" />
<line x1="466.7" y1="458.8" x2="468" y2="458.8" stroke="#555" stroke-width="0.45" />
<text x="469.5" y="508.5" font-size="2.6" text-anchor="middle" fill="#555">10<tspan font-size="1.8" dy="-0.9">0</tspan></text>
<text x="480.75" y="508.5" font-size="2.6" text-anchor="middle" fill="#555">10<tspan font-size="1.8" dy="-0.9">1</tspan></text>
<text x="492" y="508.5" font-size="2.6" text-anchor="middle" fill="#555">10<tspan font-size="1.8" dy="-0.9">2</tspan></text>
<text x="503.25" y="508.5" font-size="2.6" text-anchor="middle" fill="#555">10<tspan font-size="1.8" dy="-0.9">3</tspan></text>
<text x="514.5" y="508.5" font-size="2.6" text-anchor="middle" fill="#555">10<tspan font-size="1.8" dy="-0.9">4</tspan></text>
<text x="466.2" y="504.5" font-size="2.4" text-anchor="end" fill="#555">0</text>
<text x="466.2" y="495.54" font-size="2.4" text-anchor="end" fill="#555">20</text>
<text x="466.2" y="486.58" font-size="2.4" text-anchor="end" fill="#555">40</text>
<text x="466.2" y="477.62" font-size="2.4" text-anchor="end" fill="#555">60</text>
<text x="466.2" y="468.66" font-size="2.4" text-anchor="end" fill="#555">80</text>
<text x="466.2" y="459.7" font-size="2.4" text-anchor="end" fill="#555">100</text>
<path d="M468.5 494.84L469.09 497.91L469.68 495.27L470.26 490.54L470.85 488.28L471.44 484.01L472.02 482.44L472.61 477.31L473.2 475.63L473.79 469.67L474.38 466.22L474.96 464.32L475.55 466.31L476.14 466.92L476.73 469.87L477.31 475.86L477.9 475.61L478.49 473.2L479.07 471.38L479.66 469.31L480.25 467.21L480.84 462.85L481.43 467.34L482.01 466.49L482.6 469.63L483.19 476.05L483.77 479.3L484.36 483.06L484.95 486.22L485.54 490.29L486.12 493.26L486.71 496.69L487.3 499.77L487.89 501.44L488.48 502.7L489.06 503.32L489.65 503.61L490.24 503.74L490.82 503.78L491.41 503.79L492 503.8L492.59 503.8L493.18 503.8L493.76 503.8L494.35 503.8L494.94 503.8L495.52 503.8L496.11 503.8L496.7 503.8L497.29 503.8L497.88 503.8L498.46 503.8L499.05 503.8L499.64 503.8L500.23 503.8L500.81 503.8L501.4 503.8L501.99 503.8L502.57 503.8L503.16 503.8L503.75 503.8L504.34 503.8L504.93 503.8L505.51 503.8L506.1 503.8L506.69 503.8L507.27 503.8L507.86 503.8L508.45 503.8L509.04 503.8L509.62 503.8L510.21 503.8L510.8 503.8L511.39 503.8L511.98 503.8L512.56 503.8L513.15 503.8L513.74 503.8L514.33 503.8L514.91 503.8L515.5 503.8L515.5 503.8 L468.5 503.8 Z" fill="#cbd6d5" stroke="#6c7a7a" stroke-width="0.5" stroke-linejoin="round"/>
<path d="M468.5 497.08L469.09 501.89L469.68 499.41L470.26 494.97L470.85 488.23L471.44 479.41L472.02 470.44L472.61 463.41L473.2 461.3L473.79 464.06L474.38 470.75L474.96 479.22L475.55 488.5L476.14 495.04L476.73 499.43L477.31 501.87L477.9 503.06L478.49 503.55L479.07 503.72L479.66 503.78L480.25 503.8L480.84 503.8L481.43 503.8L482.01 503.8L482.6 503.8L483.19 503.8L483.77 503.8L484.36 503.8L484.95 503.8L485.54 503.8L486.12 503.8L486.71 503.8L487.3 503.8L487.89 503.8L488.48 503.8L489.06 503.8L489.65 503.8L490.24 503.8L490.82 503.8L491.41 503.8L492 503.8L492.59 503.8L493.18 503.8L493.76 503.8L494.35 503.8L494.94 503.8L495.52 503.8L496.11 503.8L496.7 503.8L497.29 503.8L497.88 503.8L498.46 503.8L499.05 503.8L499.64 503.8L500.23 503.8L500.81 503.8L501.4 503.8L501.99 503.8L502.57 503.8L503.16 503.8L503.75 503.8L504.34 503.8L504.93 503.8L505.51 503.8L506.1 503.8L506.69 503.8L507.27 503.8L507.86 503.8L508.45 503.8L509.04 503.8L509.62 503.8L510.21 503.8L510.8 503.8L511.39 503.8L511.98 503.8L512.56 503.8L513.15 503.8L513.74 503.8L514.33 503.8L514.91 503.8L515.5 503.8" fill="none" stroke="#2a2a2a" stroke-width="0.55" stroke-linejoin="round"/>
<text x="511.7" y="467.8" font-size="9.3" text-anchor="end" font-weight="normal" fill="#111" stroke="#111" stroke-width="0.18" >6</text>
<text x="98.5" y="519.8" font-size="10.6" text-anchor="middle" font-weight="normal" fill="#111" stroke="#111" stroke-width="0.18" >VE-cad.</text>
<text x="153.9" y="519.8" font-size="10.6" text-anchor="middle" font-weight="normal" fill="#111" stroke="#111" stroke-width="0.18" >KDR</text>
<text x="210.2" y="519.8" font-size="10.6" text-anchor="middle" font-weight="normal" fill="#111" stroke="#111" stroke-width="0.18" >CD34</text>
<text x="265.5" y="519.8" font-size="10.6" text-anchor="middle" font-weight="normal" fill="#111" stroke="#111" stroke-width="0.18" >CD31</text>
<text x="322.1" y="519.8" font-size="10.6" text-anchor="middle" font-weight="normal" fill="#111" stroke="#111" stroke-width="0.18" >CD105</text>
<text x="379.5" y="519.8" font-size="10.6" text-anchor="middle" font-weight="normal" fill="#111" stroke="#111" stroke-width="0.18" >CD90</text>
<text x="437.5" y="519.8" font-size="10.6" text-anchor="middle" font-weight="normal" fill="#111" stroke="#111" stroke-width="0.18" >CD117</text>
<text x="492.6" y="519.8" font-size="10.6" text-anchor="middle" font-weight="normal" fill="#111" stroke="#111" stroke-width="0.18" >CD50</text>
</g>
<g id="panelD">
<text transform="translate(5.3,554) scale(1,1.1)" font-size="19" fill="#111" stroke="#111" stroke-width="0.2">D</text>
<text x="199" y="560.2" font-size="9.5" text-anchor="middle" font-weight="normal" fill="#111" stroke="#111" stroke-width="0.18" >Myeloid MS-5 cultures</text>
<line x1="43" y1="564.8" x2="252" y2="564.8" stroke="#3a3a3a" stroke-width="1" />
<line x1="55.2" y1="577.9" x2="55.2" y2="672" stroke="#333" stroke-width="0.6" />
<line x1="55.2" y1="672" x2="160.5" y2="672" stroke="#333" stroke-width="0.6" />
<line x1="53.6" y1="672" x2="55.2" y2="672" stroke="#333" stroke-width="0.5" />
<line x1="54.3" y1="668.01" x2="55.2" y2="668.01" stroke="#555" stroke-width="0.3" />
<line x1="54.3" y1="665.62" x2="55.2" y2="665.62" stroke="#555" stroke-width="0.3" />
<line x1="54.3" y1="664.02" x2="55.2" y2="664.02" stroke="#555" stroke-width="0.3" />
<line x1="54.3" y1="662.69" x2="55.2" y2="662.69" stroke="#555" stroke-width="0.3" />
<line x1="54.3" y1="661.63" x2="55.2" y2="661.63" stroke="#555" stroke-width="0.3" />
<line x1="54.3" y1="660.7" x2="55.2" y2="660.7" stroke="#555" stroke-width="0.3" />
<line x1="54.3" y1="660.03" x2="55.2" y2="660.03" stroke="#555" stroke-width="0.3" />
<line x1="54.3" y1="659.37" x2="55.2" y2="659.37" stroke="#555" stroke-width="0.3" />
<text x="53" y="674.5" font-size="7.2" text-anchor="end" font-weight="normal" fill="#111" stroke="#111" stroke-width="0.18" >0</text>
<line x1="53.6" y1="658.7" x2="55.2" y2="658.7" stroke="#333" stroke-width="0.5" />
<line x1="54.3" y1="654.71" x2="55.2" y2="654.71" stroke="#555" stroke-width="0.3" />
<line x1="54.3" y1="652.32" x2="55.2" y2="652.32" stroke="#555" stroke-width="0.3" />
<line x1="54.3" y1="650.72" x2="55.2" y2="650.72" stroke="#555" stroke-width="0.3" />
<line x1="54.3" y1="649.39" x2="55.2" y2="649.39" stroke="#555" stroke-width="0.3" />
<line x1="54.3" y1="648.33" x2="55.2" y2="648.33" stroke="#555" stroke-width="0.3" />
<line x1="54.3" y1="647.4" x2="55.2" y2="647.4" stroke="#555" stroke-width="0.3" />
<line x1="54.3" y1="646.73" x2="55.2" y2="646.73" stroke="#555" stroke-width="0.3" />
<line x1="54.3" y1="646.07" x2="55.2" y2="646.07" stroke="#555" stroke-width="0.3" />
<text x="53" y="661.2" font-size="7.2" text-anchor="end" font-weight="normal" fill="#111" stroke="#111" stroke-width="0.18" >10</text>
<line x1="53.6" y1="645.4" x2="55.2" y2="645.4" stroke="#333" stroke-width="0.5" />
<line x1="54.3" y1="641.41" x2="55.2" y2="641.41" stroke="#555" stroke-width="0.3" />
<line x1="54.3" y1="639.02" x2="55.2" y2="639.02" stroke="#555" stroke-width="0.3" />
<line x1="54.3" y1="637.42" x2="55.2" y2="637.42" stroke="#555" stroke-width="0.3" />
<line x1="54.3" y1="636.09" x2="55.2" y2="636.09" stroke="#555" stroke-width="0.3" />
<line x1="54.3" y1="635.03" x2="55.2" y2="635.03" stroke="#555" stroke-width="0.3" />
<line x1="54.3" y1="634.1" x2="55.2" y2="634.1" stroke="#555" stroke-width="0.3" />
<line x1="54.3" y1="633.43" x2="55.2" y2="633.43" stroke="#555" stroke-width="0.3" />
<line x1="54.3" y1="632.76" x2="55.2" y2="632.76" stroke="#555" stroke-width="0.3" />
<text x="50.6" y="647.9" font-size="7.2" text-anchor="end" font-weight="normal" fill="#111" stroke="#111" stroke-width="0.18" >10<tspan font-size="5" dy="-2.6">2</tspan></text>
<line x1="53.6" y1="632.1" x2="55.2" y2="632.1" stroke="#333" stroke-width="0.5" />
<line x1="54.3" y1="628.11" x2="55.2" y2="628.11" stroke="#555" stroke-width="0.3" />
<line x1="54.3" y1="625.72" x2="55.2" y2="625.72" stroke="#555" stroke-width="0.3" />
<line x1="54.3" y1="624.12" x2="55.2" y2="624.12" stroke="#555" stroke-width="0.3" />
<line x1="54.3" y1="622.79" x2="55.2" y2="622.79" stroke="#555" stroke-width="0.3" />
<line x1="54.3" y1="621.73" x2="55.2" y2="621.73" stroke="#555" stroke-width="0.3" />
<line x1="54.3" y1="620.8" x2="55.2" y2="620.8" stroke="#555" stroke-width="0.3" />
<line x1="54.3" y1="620.13" x2="55.2" y2="620.13" stroke="#555" stroke-width="0.3" />
<line x1="54.3" y1="619.47" x2="55.2" y2="619.47" stroke="#555" stroke-width="0.3" />
<text x="50.6" y="634.6" font-size="7.2" text-anchor="end" font-weight="normal" fill="#111" stroke="#111" stroke-width="0.18" >10<tspan font-size="5" dy="-2.6">3</tspan></text>
<line x1="53.6" y1="618.8" x2="55.2" y2="618.8" stroke="#333" stroke-width="0.5" />
<line x1="54.3" y1="614.81" x2="55.2" y2="614.81" stroke="#555" stroke-width="0.3" />
<line x1="54.3" y1="612.42" x2="55.2" y2="612.42" stroke="#555" stroke-width="0.3" />
<line x1="54.3" y1="610.82" x2="55.2" y2="610.82" stroke="#555" stroke-width="0.3" />
<line x1="54.3" y1="609.49" x2="55.2" y2="609.49" stroke="#555" stroke-width="0.3" />
<line x1="54.3" y1="608.43" x2="55.2" y2="608.43" stroke="#555" stroke-width="0.3" />
<line x1="54.3" y1="607.5" x2="55.2" y2="607.5" stroke="#555" stroke-width="0.3" />
<line x1="54.3" y1="606.83" x2="55.2" y2="606.83" stroke="#555" stroke-width="0.3" />
<line x1="54.3" y1="606.16" x2="55.2" y2="606.16" stroke="#555" stroke-width="0.3" />
<text x="50.6" y="621.3" font-size="7.2" text-anchor="end" font-weight="normal" fill="#111" stroke="#111" stroke-width="0.18" >10<tspan font-size="5" dy="-2.6">4</tspan></text>
<line x1="53.6" y1="605.5" x2="55.2" y2="605.5" stroke="#333" stroke-width="0.5" />
<line x1="54.3" y1="601.51" x2="55.2" y2="601.51" stroke="#555" stroke-width="0.3" />
<line x1="54.3" y1="599.12" x2="55.2" y2="599.12" stroke="#555" stroke-width="0.3" />
<line x1="54.3" y1="597.52" x2="55.2" y2="597.52" stroke="#555" stroke-width="0.3" />
<line x1="54.3" y1="596.19" x2="55.2" y2="596.19" stroke="#555" stroke-width="0.3" />
<line x1="54.3" y1="595.13" x2="55.2" y2="595.13" stroke="#555" stroke-width="0.3" />
<line x1="54.3" y1="594.2" x2="55.2" y2="594.2" stroke="#555" stroke-width="0.3" />
<line x1="54.3" y1="593.53" x2="55.2" y2="593.53" stroke="#555" stroke-width="0.3" />
<line x1="54.3" y1="592.87" x2="55.2" y2="592.87" stroke="#555" stroke-width="0.3" />
<text x="50.6" y="608" font-size="7.2" text-anchor="end" font-weight="normal" fill="#111" stroke="#111" stroke-width="0.18" >10<tspan font-size="5" dy="-2.6">5</tspan></text>
<line x1="53.6" y1="592.2" x2="55.2" y2="592.2" stroke="#333" stroke-width="0.5" />
<line x1="54.3" y1="588.21" x2="55.2" y2="588.21" stroke="#555" stroke-width="0.3" />
<line x1="54.3" y1="585.82" x2="55.2" y2="585.82" stroke="#555" stroke-width="0.3" />
<line x1="54.3" y1="584.22" x2="55.2" y2="584.22" stroke="#555" stroke-width="0.3" />
<line x1="54.3" y1="582.89" x2="55.2" y2="582.89" stroke="#555" stroke-width="0.3" />
<line x1="54.3" y1="581.83" x2="55.2" y2="581.83" stroke="#555" stroke-width="0.3" />
<line x1="54.3" y1="580.9" x2="55.2" y2="580.9" stroke="#555" stroke-width="0.3" />
<line x1="54.3" y1="580.23" x2="55.2" y2="580.23" stroke="#555" stroke-width="0.3" />
<line x1="54.3" y1="579.57" x2="55.2" y2="579.57" stroke="#555" stroke-width="0.3" />
<text x="50.6" y="594.7" font-size="7.2" text-anchor="end" font-weight="normal" fill="#111" stroke="#111" stroke-width="0.18" >10<tspan font-size="5" dy="-2.6">6</tspan></text>
<line x1="53.6" y1="578.9" x2="55.2" y2="578.9" stroke="#333" stroke-width="0.5" />
<text x="50.6" y="581.4" font-size="7.2" text-anchor="end" font-weight="normal" fill="#111" stroke="#111" stroke-width="0.18" >10<tspan font-size="5" dy="-2.6">7</tspan></text>
<line x1="63.3" y1="672" x2="63.3" y2="673.6" stroke="#333" stroke-width="0.5" />
<text x="63.3" y="685.2" font-size="9" text-anchor="middle" font-weight="normal" fill="#111" stroke="#111" stroke-width="0.18" >0</text>
<line x1="78.1" y1="672" x2="78.1" y2="673.6" stroke="#333" stroke-width="0.5" />
<text x="78.1" y="685.2" font-size="9" text-anchor="middle" font-weight="normal" fill="#111" stroke="#111" stroke-width="0.18" >1</text>
<line x1="92.9" y1="672" x2="92.9" y2="673.6" stroke="#333" stroke-width="0.5" />
<text x="92.9" y="685.2" font-size="9" text-anchor="middle" font-weight="normal" fill="#111" stroke="#111" stroke-width="0.18" >2</text>
<line x1="107.7" y1="672" x2="107.7" y2="673.6" stroke="#333" stroke-width="0.5" />
<text x="107.7" y="685.2" font-size="9" text-anchor="middle" font-weight="normal" fill="#111" stroke="#111" stroke-width="0.18" >3</text>
<line x1="122.5" y1="672" x2="122.5" y2="673.6" stroke="#333" stroke-width="0.5" />
<text x="122.5" y="685.2" font-size="9" text-anchor="middle" font-weight="normal" fill="#111" stroke="#111" stroke-width="0.18" >4</text>
<line x1="137.3" y1="672" x2="137.3" y2="673.6" stroke="#333" stroke-width="0.5" />
<text x="137.3" y="685.2" font-size="9" text-anchor="middle" font-weight="normal" fill="#111" stroke="#111" stroke-width="0.18" >5</text>
<line x1="152.1" y1="672" x2="152.1" y2="673.6" stroke="#333" stroke-width="0.5" />
<text x="152.1" y="685.2" font-size="9" text-anchor="middle" font-weight="normal" fill="#111" stroke="#111" stroke-width="0.18" >6</text>
<text x="107.9" y="697.2" font-size="9.1" text-anchor="middle" font-weight="normal" fill="#111" stroke="#111" stroke-width="0.18" >Week</text>
<text transform="translate(36,621.7) rotate(-90)" font-size="9.6" text-anchor="middle" fill="#111" stroke="#111" stroke-width="0.18">cells/well</text>
<polyline points="63.3,655 78.1,672" fill="none" stroke="#111" stroke-width="0.7" stroke-dasharray="2 1.3"/>
<polyline points="63.3,631.5 78.1,635.6 92.9,641.5 107.7,672" fill="none" stroke="#111" stroke-width="0.7" />
<polyline points="63.3,637.5 78.1,631.5 92.9,631 107.7,636.4 122.5,638.3 137.3,631.2 152.1,632.3" fill="none" stroke="#e84a86" stroke-width="0.7" stroke-dasharray="2 1.3"/>
<polyline points="63.3,631.2 78.1,624 92.9,627.5 107.7,629.4 122.5,632.9 137.3,625.8 152.1,627" fill="none" stroke="#3a46b0" stroke-width="0.7" stroke-dasharray="2 1.3"/>
<polyline points="63.3,631.5 78.1,594.6 92.9,591.5 107.7,588.6 122.5,588.2 137.3,585.5 152.1,588.3" fill="none" stroke="#e84a86" stroke-width="0.7" />
<polyline points="63.3,641.8 78.1,593.9 92.9,591.7 107.7,588.5 122.5,588 137.3,587.5 152.1,587.8" fill="none" stroke="#2a2f7a" stroke-width="0.7" />
<line x1="78.1" y1="621" x2="78.1" y2="627" stroke="#3a46b0" stroke-width="0.55" />
<line x1="77.1" y1="621" x2="79.1" y2="621" stroke="#3a46b0" stroke-width="0.5" />
<line x1="77.1" y1="627" x2="79.1" y2="627" stroke="#3a46b0" stroke-width="0.5" />
<line x1="92.9" y1="624.5" x2="92.9" y2="630.5" stroke="#3a46b0" stroke-width="0.55" />
<line x1="91.9" y1="624.5" x2="93.9" y2="624.5" stroke="#3a46b0" stroke-width="0.5" />
<line x1="91.9" y1="630.5" x2="93.9" y2="630.5" stroke="#3a46b0" stroke-width="0.5" />
<line x1="107.7" y1="626.4" x2="107.7" y2="632.4" stroke="#3a46b0" stroke-width="0.55" />
<line x1="106.7" y1="626.4" x2="108.7" y2="626.4" stroke="#3a46b0" stroke-width="0.5" />
<line x1="106.7" y1="632.4" x2="108.7" y2="632.4" stroke="#3a46b0" stroke-width="0.5" />
<line x1="122.5" y1="629.9" x2="122.5" y2="635.9" stroke="#3a46b0" stroke-width="0.55" />
<line x1="121.5" y1="629.9" x2="123.5" y2="629.9" stroke="#3a46b0" stroke-width="0.5" />
<line x1="121.5" y1="635.9" x2="123.5" y2="635.9" stroke="#3a46b0" stroke-width="0.5" />
<line x1="137.3" y1="622.8" x2="137.3" y2="628.8" stroke="#3a46b0" stroke-width="0.55" />
<line x1="136.3" y1="622.8" x2="138.3" y2="622.8" stroke="#3a46b0" stroke-width="0.5" />
<line x1="136.3" y1="628.8" x2="138.3" y2="628.8" stroke="#3a46b0" stroke-width="0.5" />
<line x1="152.1" y1="624" x2="152.1" y2="630" stroke="#3a46b0" stroke-width="0.55" />
<line x1="151.1" y1="624" x2="153.1" y2="624" stroke="#3a46b0" stroke-width="0.5" />
<line x1="151.1" y1="630" x2="153.1" y2="630" stroke="#3a46b0" stroke-width="0.5" />
<line x1="78.1" y1="628.5" x2="78.1" y2="634.5" stroke="#e84a86" stroke-width="0.55" />
<line x1="77.1" y1="628.5" x2="79.1" y2="628.5" stroke="#e84a86" stroke-width="0.5" />
<line x1="77.1" y1="634.5" x2="79.1" y2="634.5" stroke="#e84a86" stroke-width="0.5" />
<line x1="92.9" y1="628" x2="92.9" y2="634" stroke="#e84a86" stroke-width="0.55" />
<line x1="91.9" y1="628" x2="93.9" y2="628" stroke="#e84a86" stroke-width="0.5" />
<line x1="91.9" y1="634" x2="93.9" y2="634" stroke="#e84a86" stroke-width="0.5" />
<line x1="107.7" y1="633.4" x2="107.7" y2="639.4" stroke="#e84a86" stroke-width="0.55" />
<line x1="106.7" y1="633.4" x2="108.7" y2="633.4" stroke="#e84a86" stroke-width="0.5" />
<line x1="106.7" y1="639.4" x2="108.7" y2="639.4" stroke="#e84a86" stroke-width="0.5" />
<line x1="122.5" y1="635.3" x2="122.5" y2="641.3" stroke="#e84a86" stroke-width="0.55" />
<line x1="121.5" y1="635.3" x2="123.5" y2="635.3" stroke="#e84a86" stroke-width="0.5" />
<line x1="121.5" y1="641.3" x2="123.5" y2="641.3" stroke="#e84a86" stroke-width="0.5" />
<line x1="137.3" y1="628.2" x2="137.3" y2="634.2" stroke="#e84a86" stroke-width="0.55" />
<line x1="136.3" y1="628.2" x2="138.3" y2="628.2" stroke="#e84a86" stroke-width="0.5" />
<line x1="136.3" y1="634.2" x2="138.3" y2="634.2" stroke="#e84a86" stroke-width="0.5" />
<line x1="152.1" y1="629.3" x2="152.1" y2="635.3" stroke="#e84a86" stroke-width="0.55" />
<line x1="151.1" y1="629.3" x2="153.1" y2="629.3" stroke="#e84a86" stroke-width="0.5" />
<line x1="151.1" y1="635.3" x2="153.1" y2="635.3" stroke="#e84a86" stroke-width="0.5" />
<line x1="92.9" y1="639" x2="92.9" y2="650" stroke="#444" stroke-width="0.55" />
<line x1="91.9" y1="639" x2="93.9" y2="639" stroke="#444" stroke-width="0.5" />
<line x1="91.9" y1="650" x2="93.9" y2="650" stroke="#444" stroke-width="0.5" />
<line x1="63.3" y1="652.2" x2="63.3" y2="657.8" stroke="#333" stroke-width="0.55" />
<line x1="62.3" y1="652.2" x2="64.3" y2="652.2" stroke="#333" stroke-width="0.5" />
<line x1="62.3" y1="657.8" x2="64.3" y2="657.8" stroke="#333" stroke-width="0.5" />
<line x1="78.1" y1="594" x2="78.1" y2="600" stroke="#e84a86" stroke-width="0.55" />
<line x1="77.1" y1="594" x2="79.1" y2="594" stroke="#e84a86" stroke-width="0.5" />
<line x1="77.1" y1="600" x2="79.1" y2="600" stroke="#e84a86" stroke-width="0.5" />
<line x1="78.1" y1="633.6" x2="78.1" y2="637.6" stroke="#333" stroke-width="0.55" />
<line x1="77.1" y1="633.6" x2="79.1" y2="633.6" stroke="#333" stroke-width="0.5" />
<line x1="77.1" y1="637.6" x2="79.1" y2="637.6" stroke="#333" stroke-width="0.5" />
<path d="M63.3 629.4 L65.4 633.18 L61.2 633.18 Z" fill="#111"/>
<path d="M78.1 633.5 L80.2 637.28 L76 637.28 Z" fill="#111"/>
<path d="M92.9 639.4 L95 643.18 L90.8 643.18 Z" fill="#111"/>
<path d="M107.7 668.7 L109.8 672.48 L105.6 672.48 Z" fill="#111"/>
<path d="M63.3 652.9 L65.4 656.68 L61.2 656.68 Z" fill="#111"/>
<path d="M78.1 668.7 L80.2 672.48 L76 672.48 Z" fill="#111"/>
<rect x="61.55" y="635.75" width="3.5" height="3.5" fill="#f0649a" stroke="#dc3c7c" stroke-width="0.6" />
<rect x="76.35" y="629.75" width="3.5" height="3.5" fill="#f0649a" stroke="#dc3c7c" stroke-width="0.6" />
<rect x="91.15" y="629.25" width="3.5" height="3.5" fill="#f0649a" stroke="#dc3c7c" stroke-width="0.6" />
<rect x="105.95" y="634.65" width="3.5" height="3.5" fill="#f0649a" stroke="#dc3c7c" stroke-width="0.6" />
<rect x="120.75" y="636.55" width="3.5" height="3.5" fill="#f0649a" stroke="#dc3c7c" stroke-width="0.6" />
<rect x="135.55" y="629.45" width="3.5" height="3.5" fill="#f0649a" stroke="#dc3c7c" stroke-width="0.6" />
<rect x="150.35" y="630.55" width="3.5" height="3.5" fill="#f0649a" stroke="#dc3c7c" stroke-width="0.6" />
<circle cx="63.3" cy="631.2" r="1.95" fill="#3a46b0" stroke="#23286e" stroke-width="0.4"/>
<circle cx="78.1" cy="624" r="1.95" fill="#3a46b0" stroke="#23286e" stroke-width="0.4"/>
<circle cx="92.9" cy="627.5" r="1.95" fill="#3a46b0" stroke="#23286e" stroke-width="0.4"/>
<circle cx="107.7" cy="629.4" r="1.95" fill="#3a46b0" stroke="#23286e" stroke-width="0.4"/>
<circle cx="122.5" cy="632.9" r="1.95" fill="#3a46b0" stroke="#23286e" stroke-width="0.4"/>
<circle cx="137.3" cy="625.8" r="1.95" fill="#3a46b0" stroke="#23286e" stroke-width="0.4"/>
<circle cx="152.1" cy="627" r="1.95" fill="#3a46b0" stroke="#23286e" stroke-width="0.4"/>
<rect x="61.55" y="629.75" width="3.5" height="3.5" fill="#f0649a" stroke="#dc3c7c" stroke-width="0.6" />
<rect x="76.35" y="592.85" width="3.5" height="3.5" fill="#f0649a" stroke="#dc3c7c" stroke-width="0.6" />
<rect x="91.15" y="589.75" width="3.5" height="3.5" fill="#f0649a" stroke="#dc3c7c" stroke-width="0.6" />
<rect x="105.95" y="586.85" width="3.5" height="3.5" fill="#f0649a" stroke="#dc3c7c" stroke-width="0.6" />
<rect x="120.75" y="586.45" width="3.5" height="3.5" fill="#f0649a" stroke="#dc3c7c" stroke-width="0.6" />
<rect x="135.55" y="583.75" width="3.5" height="3.5" fill="#f0649a" stroke="#dc3c7c" stroke-width="0.6" />
<rect x="150.35" y="586.55" width="3.5" height="3.5" fill="#f0649a" stroke="#dc3c7c" stroke-width="0.6" />
<circle cx="63.3" cy="641.8" r="1.95" fill="#3a46b0" stroke="#23286e" stroke-width="0.4"/>
<circle cx="78.1" cy="593.9" r="1.95" fill="#3a46b0" stroke="#23286e" stroke-width="0.4"/>
<circle cx="92.9" cy="591.7" r="1.95" fill="#3a46b0" stroke="#23286e" stroke-width="0.4"/>
<circle cx="107.7" cy="588.5" r="1.95" fill="#3a46b0" stroke="#23286e" stroke-width="0.4"/>
<circle cx="122.5" cy="588" r="1.95" fill="#3a46b0" stroke="#23286e" stroke-width="0.4"/>
<circle cx="137.3" cy="587.5" r="1.95" fill="#3a46b0" stroke="#23286e" stroke-width="0.4"/>
<circle cx="152.1" cy="587.8" r="1.95" fill="#3a46b0" stroke="#23286e" stroke-width="0.4"/>
<line x1="170" y1="607" x2="184.6" y2="607" stroke="#333" stroke-width="0.7" stroke-dasharray="2.2 1.5"/>
<text x="187.8" y="609.5" font-size="7.35" text-anchor="start" font-weight="normal" fill="#111" stroke="#111" stroke-width="0.18" >Total myeloid CFCs</text>
<line x1="169.2" y1="618.5" x2="184.6" y2="618.5" stroke="#223" stroke-width="0.7" />
<text x="187.8" y="621" font-size="7.35" text-anchor="start" font-weight="normal" fill="#111" stroke="#111" stroke-width="0.18" >Total CD43+ cells</text>
<path d="M164 640.7 L166.5 645.2 L161.5 645.2 Z" fill="#111"/>
<text x="168.5" y="645.3" font-size="6.9" fill="#111" stroke="#111" stroke-width="0.08" textLength="84.5" lengthAdjust="spacingAndGlyphs"> - CD43+<tspan font-weight="bold">CD41a/235a+</tspan>CD45-</text>
<circle cx="164" cy="652.5" r="2.2" fill="#5a66d0" stroke="#23286e" stroke-width="0.4"/>
<text x="168.5" y="654.6" font-size="6.9" fill="#111" stroke="#111" stroke-width="0.08" textLength="84.5" lengthAdjust="spacingAndGlyphs"> - <tspan font-weight="bold">CD43+</tspan>CD41a/235a-CD45-</text>
<rect x="161.7" y="659.4" width="4.6" height="4.6" fill="#ea4c86" stroke="#dc3c7c" stroke-width="0.6" />
<text x="168.5" y="663.8" font-size="6.9" fill="#111" stroke="#111" stroke-width="0.08" textLength="84.5" lengthAdjust="spacingAndGlyphs"> - CD43+CD41a/235a-<tspan font-weight="bold">CD45+</tspan></text>
<text x="448.6" y="560.2" font-size="9.85" text-anchor="middle" font-weight="normal" fill="#111" stroke="#111" stroke-width="0.18" >Lymphoid MS-5 cultures</text>
<line x1="298" y1="564.8" x2="505" y2="564.8" stroke="#3a3a3a" stroke-width="1" />
<text x="317.3" y="577.2" font-size="6.9" fill="#111" stroke="#111" stroke-width="0.08" textLength="88.6" lengthAdjust="spacingAndGlyphs"><tspan font-weight="bold">1</tspan> - CD43+<tspan font-weight="bold">CD41a/235a+</tspan>CD45-</text>
<rect x="309.9" y="581.5" width="3.9" height="3.9" fill="#4e5acc" stroke="#223" stroke-width="0.5" />
<text x="314.2" y="585.9" font-size="6.9" fill="#111" stroke="#111" stroke-width="0.08" textLength="91" lengthAdjust="spacingAndGlyphs"><tspan font-weight="bold">/2</tspan> - <tspan font-weight="bold">CD43+</tspan>CD41a/235a-CD45-</text>
<rect x="309.9" y="590.3" width="3.9" height="3.9" fill="#f2588e" stroke="#902050" stroke-width="0.5" />
<text x="314.2" y="594.7" font-size="6.9" fill="#111" stroke="#111" stroke-width="0.08" textLength="91" lengthAdjust="spacingAndGlyphs"><tspan font-weight="bold">/3</tspan> - CD43+CD41a/235a-<tspan font-weight="bold">CD45+</tspan></text>
<line x1="309" y1="602.1" x2="309" y2="672.7" stroke="#333" stroke-width="0.6" />
<line x1="309" y1="672.7" x2="434" y2="672.7" stroke="#333" stroke-width="0.6" />
<line x1="307.4" y1="672.7" x2="309" y2="672.7" stroke="#333" stroke-width="0.5" />
<text x="306.9" y="675.2" font-size="7.1" text-anchor="end" font-weight="normal" fill="#111" stroke="#111" stroke-width="0.18" >1</text>
<line x1="307.4" y1="655.3" x2="309" y2="655.3" stroke="#333" stroke-width="0.5" />
<text x="306.9" y="657.8" font-size="7.1" text-anchor="end" font-weight="normal" fill="#111" stroke="#111" stroke-width="0.18" >10</text>
<line x1="307.4" y1="637.9" x2="309" y2="637.9" stroke="#333" stroke-width="0.5" />
<text x="304.6" y="640.4" font-size="7.1" text-anchor="end" font-weight="normal" fill="#111" stroke="#111" stroke-width="0.18" >10<tspan font-size="5" dy="-2.6">2</tspan></text>
<line x1="307.4" y1="620.5" x2="309" y2="620.5" stroke="#333" stroke-width="0.5" />
<text x="304.6" y="623" font-size="7.1" text-anchor="end" font-weight="normal" fill="#111" stroke="#111" stroke-width="0.18" >10<tspan font-size="5" dy="-2.6">3</tspan></text>
<line x1="307.4" y1="603.1" x2="309" y2="603.1" stroke="#333" stroke-width="0.5" />
<text x="304.6" y="605.6" font-size="7.1" text-anchor="end" font-weight="normal" fill="#111" stroke="#111" stroke-width="0.18" >10<tspan font-size="5" dy="-2.6">4</tspan></text>
<text transform="translate(291.4,635.2) rotate(-90)" font-size="8.3" text-anchor="middle" fill="#111" stroke="#111" stroke-width="0.18">Relative expression</text>
<rect x="314.8" y="615" width="7.2" height="57.7" fill="#4e5acc" stroke="#223" stroke-width="0.4" />
<rect x="322" y="620.8" width="7.2" height="51.9" fill="#f2588e" stroke="#902050" stroke-width="0.4" />
<line x1="318.4" y1="615" x2="318.4" y2="613.5" stroke="#223" stroke-width="0.5" />
<line x1="317.4" y1="613.5" x2="319.4" y2="613.5" stroke="#223" stroke-width="0.5" />
<line x1="325.6" y1="620.8" x2="325.6" y2="618.8" stroke="#b03060" stroke-width="0.5" />
<line x1="324.6" y1="618.8" x2="326.6" y2="618.8" stroke="#b03060" stroke-width="0.5" />
<rect x="339.2" y="605.8" width="7.2" height="66.9" fill="#4e5acc" stroke="#223" stroke-width="0.4" />
<rect x="346.4" y="607" width="7.2" height="65.7" fill="#f2588e" stroke="#902050" stroke-width="0.4" />
<line x1="342.8" y1="605.8" x2="342.8" y2="603.8" stroke="#223" stroke-width="0.5" />
<line x1="341.8" y1="603.8" x2="343.8" y2="603.8" stroke="#223" stroke-width="0.5" />
<line x1="350" y1="607" x2="350" y2="604.5" stroke="#b03060" stroke-width="0.5" />
<line x1="349" y1="604.5" x2="351" y2="604.5" stroke="#b03060" stroke-width="0.5" />
<rect x="364.3" y="621.3" width="7.2" height="51.4" fill="#4e5acc" stroke="#223" stroke-width="0.4" />
<rect x="371.5" y="637.5" width="7.2" height="35.2" fill="#f2588e" stroke="#902050" stroke-width="0.4" />
<line x1="367.9" y1="621.3" x2="367.9" y2="620.3" stroke="#223" stroke-width="0.5" />
<line x1="366.9" y1="620.3" x2="368.9" y2="620.3" stroke="#223" stroke-width="0.5" />
<line x1="375.1" y1="637.5" x2="375.1" y2="634.5" stroke="#b03060" stroke-width="0.5" />
<line x1="374.1" y1="634.5" x2="376.1" y2="634.5" stroke="#b03060" stroke-width="0.5" />
<rect x="388.8" y="631.4" width="7.2" height="41.3" fill="#4e5acc" stroke="#223" stroke-width="0.4" />
<line x1="392.4" y1="631.4" x2="392.4" y2="630.2" stroke="#223" stroke-width="0.5" />
<line x1="391.4" y1="630.2" x2="393.4" y2="630.2" stroke="#223" stroke-width="0.5" />
<rect x="413.2" y="648" width="7.2" height="24.7" fill="#4e5acc" stroke="#223" stroke-width="0.4" />
<line x1="416.8" y1="648" x2="416.8" y2="645.5" stroke="#223" stroke-width="0.5" />
<line x1="415.8" y1="645.5" x2="417.8" y2="645.5" stroke="#223" stroke-width="0.5" />
<text x="322.5" y="684.3" font-size="8.1" text-anchor="middle" font-weight="normal" fill="#111" stroke="#111" stroke-width="0.18" >CD3ε</text>
<text x="346.6" y="684.3" font-size="8.1" text-anchor="middle" font-weight="normal" fill="#111" stroke="#111" stroke-width="0.18" >CD3ζ</text>
<text x="371.5" y="684.3" font-size="8.1" text-anchor="middle" font-weight="normal" fill="#111" stroke="#111" stroke-width="0.18" >MB1</text>
<text x="396.6" y="684.3" font-size="8.1" text-anchor="middle" font-weight="normal" fill="#111" stroke="#111" stroke-width="0.18" >VpreB</text>
<text x="421.5" y="684.3" font-size="8.1" text-anchor="middle" font-weight="normal" fill="#111" stroke="#111" stroke-width="0.18" >PAX5</text>
<text x="443.6" y="578" font-size="6.4" text-anchor="middle" font-weight="bold" fill="#111" stroke="#111" stroke-width="0.1" >1</text>
<text x="452.8" y="578" font-size="6.4" text-anchor="middle" font-weight="bold" fill="#111" stroke="#111" stroke-width="0.1" >2</text>
<text x="461.4" y="578" font-size="6.4" text-anchor="middle" font-weight="bold" fill="#111" stroke="#111" stroke-width="0.1" >3</text>
<text x="469.8" y="577.6" font-size="3.6" text-anchor="middle" font-weight="bold" fill="#111" stroke="#111" stroke-width="0.1" >MS5</text>
<rect x="439.7" y="581" width="37.6" height="8" fill="#000" stroke="none" stroke-width="0.5" />
<rect x="451.7" y="584.3" width="5" height="1.4" fill="#fff" stroke="none" stroke-width="0.5" opacity="0.95" rx="0.7"/>
<rect x="461" y="584.3" width="5" height="1.4" fill="#fff" stroke="none" stroke-width="0.5" opacity="0.95" rx="0.7"/>
<text x="479.6" y="587.7" font-size="7.4" text-anchor="start" font-weight="normal" fill="#111" stroke="#111" stroke-width="0.18" >CD3ε</text>
<rect x="439.7" y="594.17" width="37.6" height="8" fill="#000" stroke="none" stroke-width="0.5" />
<rect x="451.7" y="597.47" width="5" height="1.4" fill="#fff" stroke="none" stroke-width="0.5" opacity="0.95" rx="0.7"/>
<rect x="461" y="597.47" width="5" height="1.4" fill="#fff" stroke="none" stroke-width="0.5" opacity="0.95" rx="0.7"/>
<text x="479.6" y="600.87" font-size="7.4" text-anchor="start" font-weight="normal" fill="#111" stroke="#111" stroke-width="0.18" >CD3ζ</text>
<rect x="439.7" y="607.34" width="37.6" height="8" fill="#000" stroke="none" stroke-width="0.5" />
<rect x="451.7" y="610.64" width="5" height="1.4" fill="#fff" stroke="none" stroke-width="0.5" opacity="0.95" rx="0.7"/>
<rect x="461" y="610.64" width="5" height="1.4" fill="#fff" stroke="none" stroke-width="0.5" opacity="0.95" rx="0.7"/>
<text x="479.6" y="614.04" font-size="7.4" text-anchor="start" font-weight="normal" fill="#111" stroke="#111" stroke-width="0.18" >MB1</text>
<rect x="439.7" y="620.51" width="37.6" height="8" fill="#000" stroke="none" stroke-width="0.5" />
<rect x="451.7" y="623.81" width="5" height="1.4" fill="#fff" stroke="none" stroke-width="0.5" opacity="0.95" rx="0.7"/>
<text x="479.6" y="627.21" font-size="7.4" text-anchor="start" font-weight="normal" fill="#111" stroke="#111" stroke-width="0.18" >VpreB</text>
<rect x="439.7" y="633.68" width="37.6" height="8" fill="#000" stroke="none" stroke-width="0.5" />
<rect x="451.7" y="636.98" width="5" height="1.4" fill="#fff" stroke="none" stroke-width="0.5" opacity="0.5" rx="0.7"/>
<text x="479.6" y="640.38" font-size="7.4" text-anchor="start" font-weight="normal" fill="#111" stroke="#111" stroke-width="0.18" >PAX5</text>
<rect x="439.7" y="646.85" width="37.6" height="8" fill="#000" stroke="none" stroke-width="0.5" />
<rect x="451.7" y="650.15" width="5" height="1.4" fill="#fff" stroke="none" stroke-width="0.5" opacity="0.95" rx="0.7"/>
<rect x="461" y="650.15" width="5" height="1.4" fill="#fff" stroke="none" stroke-width="0.5" opacity="0.95" rx="0.7"/>
<text x="479.6" y="653.55" font-size="7.4" text-anchor="start" font-weight="normal" fill="#111" stroke="#111" stroke-width="0.18" >hGAPDH</text>
<rect x="439.7" y="660.02" width="37.6" height="8" fill="#000" stroke="none" stroke-width="0.5" />
<rect x="442.5" y="663.32" width="5" height="1.4" fill="#fff" stroke="none" stroke-width="0.5" opacity="0.95" rx="0.7"/>
<rect x="451.7" y="663.32" width="5" height="1.4" fill="#fff" stroke="none" stroke-width="0.5" opacity="0.95" rx="0.7"/>
<rect x="461" y="663.32" width="5" height="1.4" fill="#fff" stroke="none" stroke-width="0.5" opacity="0.95" rx="0.7"/>
<rect x="470.1" y="663.32" width="5" height="1.4" fill="#fff" stroke="none" stroke-width="0.5" opacity="0.95" rx="0.7"/>
<text x="479.6" y="666.72" font-size="7.4" text-anchor="start" font-weight="normal" fill="#111" stroke="#111" stroke-width="0.18" >mGAPDH</text>
</g>
</svg></body></html>
